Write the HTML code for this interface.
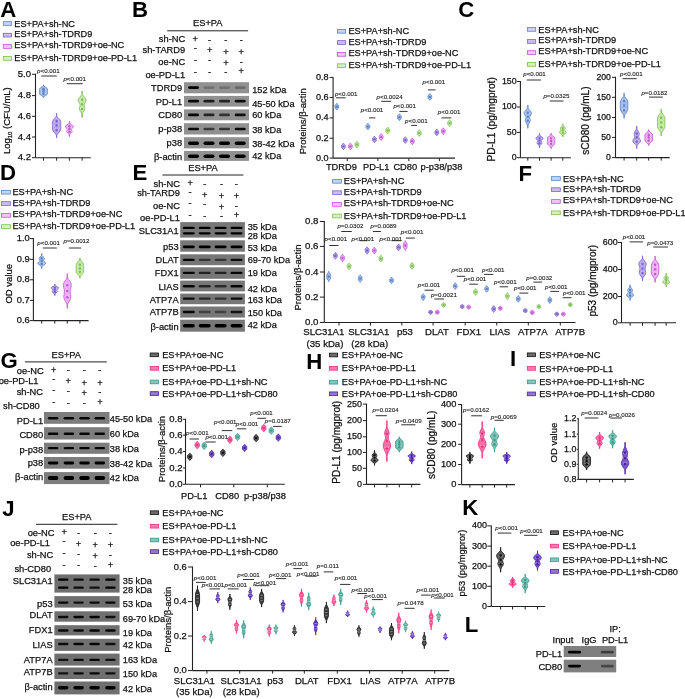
<!DOCTYPE html>
<html><head><meta charset="utf-8"><title>Figure</title>
<style>
html,body{margin:0;padding:0;background:#fff;}
body{width:685px;height:699px;overflow:hidden;}
svg{display:block;will-change:transform;font-family:"Liberation Sans", sans-serif;}
</style></head>
<body>
<svg width="685" height="699" viewBox="0 0 685 699">
<defs><filter id="bl" x="-30%" y="-100%" width="160%" height="300%"><feGaussianBlur stdDeviation="0.55"/></filter></defs>
<rect width="685" height="699" fill="#fff"/>
<text x="0.24" y="16.90" font-size="22.2" text-anchor="start" font-weight="bold" fill="#000" >A</text>
<rect x="3.30" y="21.65" width="8.20" height="3.70" fill="#c3d4ef" stroke="#5a84c8" stroke-width="0.8"/>
<text x="14.36" y="26.85" font-size="9.2" text-anchor="start" font-weight="normal" fill="#111" stroke="#111" stroke-width="0.25" >ES+PA+sh-NC</text>
<rect x="3.30" y="33.30" width="8.20" height="3.70" fill="#cabdf0" stroke="#7d62cc" stroke-width="0.8"/>
<text x="14.36" y="37.25" font-size="9.2" text-anchor="start" font-weight="normal" fill="#111" stroke="#111" stroke-width="0.25" >ES+PA+sh-TDRD9</text>
<rect x="3.30" y="44.65" width="8.20" height="3.70" fill="#f1c6f6" stroke="#c455d6" stroke-width="0.8"/>
<text x="14.36" y="47.95" font-size="9.2" text-anchor="start" font-weight="normal" fill="#111" stroke="#111" stroke-width="0.25" >ES+PA+sh-TDRD9+oe-NC</text>
<rect x="3.30" y="56.55" width="8.20" height="3.70" fill="#d6efc6" stroke="#7dbf52" stroke-width="0.8"/>
<text x="14.36" y="60.95" font-size="9.2" text-anchor="start" font-weight="normal" fill="#111" stroke="#111" stroke-width="0.25" >ES+PA+sh-TDRD9+oe-PD-L1</text>
<line x1="35.50" y1="73.80" x2="35.50" y2="157.70" stroke="#222" stroke-width="1.1"/>
<line x1="32.00" y1="74.30" x2="35.50" y2="74.30" stroke="#222" stroke-width="1"/>
<text x="30.98" y="77.00" font-size="9.5" text-anchor="end" font-weight="normal" fill="#111" stroke="#111" stroke-width="0.25" >5.0</text>
<line x1="32.00" y1="95.60" x2="35.50" y2="95.60" stroke="#222" stroke-width="1"/>
<text x="30.98" y="98.30" font-size="9.5" text-anchor="end" font-weight="normal" fill="#111" stroke="#111" stroke-width="0.25" >4.8</text>
<line x1="32.00" y1="116.30" x2="35.50" y2="116.30" stroke="#222" stroke-width="1"/>
<text x="30.98" y="119.00" font-size="9.5" text-anchor="end" font-weight="normal" fill="#111" stroke="#111" stroke-width="0.25" >4.6</text>
<line x1="32.00" y1="137.00" x2="35.50" y2="137.00" stroke="#222" stroke-width="1"/>
<text x="30.98" y="139.70" font-size="9.5" text-anchor="end" font-weight="normal" fill="#111" stroke="#111" stroke-width="0.25" >4.4</text>
<line x1="32.00" y1="157.70" x2="35.50" y2="157.70" stroke="#222" stroke-width="1"/>
<text x="30.98" y="160.40" font-size="9.5" text-anchor="end" font-weight="normal" fill="#111" stroke="#111" stroke-width="0.25" >4.2</text>
<line x1="35.50" y1="157.70" x2="90.80" y2="157.70" stroke="#222" stroke-width="1.1"/>
<line x1="43.50" y1="157.70" x2="43.50" y2="160.70" stroke="#222" stroke-width="1"/>
<line x1="56.60" y1="157.70" x2="56.60" y2="160.70" stroke="#222" stroke-width="1"/>
<line x1="69.40" y1="157.70" x2="69.40" y2="160.70" stroke="#222" stroke-width="1"/>
<line x1="82.10" y1="157.70" x2="82.10" y2="160.70" stroke="#222" stroke-width="1"/>
<path d="M43.50,84.80 C43.58,85.02 43.35,85.50 43.97,86.12 C44.60,86.74 46.67,87.62 47.25,88.50 C47.83,89.38 47.45,90.43 47.45,91.40 C47.45,92.37 47.83,93.42 47.25,94.30 C46.67,95.18 44.60,96.06 43.97,96.68 C43.35,97.30 43.58,97.78 43.50,98.00 C43.42,97.78 43.65,97.30 43.03,96.68 C42.40,96.06 40.33,95.18 39.75,94.30 C39.17,93.42 39.55,92.37 39.55,91.40 C39.55,90.43 39.17,89.38 39.75,88.50 C40.33,87.62 42.40,86.74 43.03,86.12 C43.65,85.50 43.42,85.02 43.50,84.80 Z" fill="#a3bde8" stroke="#5a84c8" stroke-width="0.8"/>
<line x1="43.50" y1="84.80" x2="43.50" y2="86.38" stroke="#5a84c8" stroke-width="0.5"/>
<line x1="43.50" y1="96.42" x2="43.50" y2="98.00" stroke="#5a84c8" stroke-width="0.5"/>
<line x1="41.33" y1="89.42" x2="45.67" y2="89.42" stroke="#ffffff" stroke-width="0.45"/>
<line x1="41.33" y1="91.40" x2="45.67" y2="91.40" stroke="#ffffff" stroke-width="0.45"/>
<line x1="41.33" y1="93.38" x2="45.67" y2="93.38" stroke="#ffffff" stroke-width="0.45"/>
<circle cx="43.50" cy="89.16" r="1.30" fill="#5a84c8"/>
<circle cx="43.50" cy="91.40" r="1.30" fill="#5a84c8"/>
<circle cx="43.50" cy="93.78" r="1.30" fill="#5a84c8"/>
<path d="M56.60,113.30 C56.67,113.83 56.38,115.26 57.02,116.48 C57.65,117.71 59.80,119.14 60.42,120.65 C61.04,122.16 60.75,123.92 60.75,125.55 C60.75,127.18 61.03,128.94 60.42,130.45 C59.81,131.96 57.73,133.39 57.10,134.62 C56.46,135.84 56.68,137.27 56.60,137.80 C56.52,137.27 56.74,135.84 56.10,134.62 C55.47,133.39 53.39,131.96 52.78,130.45 C52.17,128.94 52.45,127.18 52.45,125.55 C52.45,123.92 52.16,122.16 52.78,120.65 C53.40,119.14 55.55,117.71 56.19,116.48 C56.82,115.26 56.53,113.83 56.60,113.30 Z" fill="#b8a8ea" stroke="#7d62cc" stroke-width="0.8"/>
<line x1="56.60" y1="113.30" x2="56.60" y2="116.24" stroke="#7d62cc" stroke-width="0.5"/>
<line x1="56.60" y1="134.86" x2="56.60" y2="137.80" stroke="#7d62cc" stroke-width="0.5"/>
<line x1="54.32" y1="121.88" x2="58.88" y2="121.88" stroke="#ffffff" stroke-width="0.45"/>
<line x1="54.32" y1="125.55" x2="58.88" y2="125.55" stroke="#ffffff" stroke-width="0.45"/>
<line x1="54.32" y1="129.22" x2="58.88" y2="129.22" stroke="#ffffff" stroke-width="0.45"/>
<circle cx="56.60" cy="121.39" r="1.30" fill="#7d62cc"/>
<circle cx="56.60" cy="125.55" r="1.30" fill="#7d62cc"/>
<circle cx="56.60" cy="129.96" r="1.30" fill="#7d62cc"/>
<path d="M69.40,121.30 C69.47,121.66 69.13,122.60 69.81,123.44 C70.48,124.28 73.18,125.38 73.45,126.35 C73.72,127.32 71.64,128.36 71.43,129.26 C71.21,130.15 72.42,130.84 72.15,131.70 C71.88,132.57 70.26,133.64 69.81,134.46 C69.35,135.27 69.47,136.24 69.40,136.60 C69.33,136.24 69.45,135.27 69.00,134.46 C68.54,133.64 66.92,132.57 66.65,131.70 C66.38,130.84 67.59,130.15 67.38,129.26 C67.16,128.36 65.08,127.32 65.35,126.35 C65.62,125.38 68.32,124.28 69.00,123.44 C69.67,122.60 69.33,121.66 69.40,121.30 Z" fill="#edb0f5" stroke="#c455d6" stroke-width="0.8"/>
<line x1="69.40" y1="121.30" x2="69.40" y2="123.14" stroke="#c455d6" stroke-width="0.5"/>
<line x1="69.40" y1="134.76" x2="69.40" y2="136.60" stroke="#c455d6" stroke-width="0.5"/>
<line x1="67.17" y1="126.66" x2="71.63" y2="126.66" stroke="#ffffff" stroke-width="0.45"/>
<line x1="67.17" y1="128.95" x2="71.63" y2="128.95" stroke="#ffffff" stroke-width="0.45"/>
<line x1="67.17" y1="131.25" x2="71.63" y2="131.25" stroke="#ffffff" stroke-width="0.45"/>
<circle cx="69.40" cy="126.35" r="1.30" fill="#c455d6"/>
<circle cx="69.40" cy="128.95" r="1.30" fill="#c455d6"/>
<circle cx="69.40" cy="131.70" r="1.30" fill="#c455d6"/>
<path d="M82.10,91.00 C82.17,91.62 81.83,93.25 82.50,94.71 C83.17,96.17 85.83,98.07 86.10,99.75 C86.37,101.42 84.31,103.23 84.10,104.78 C83.89,106.33 85.09,107.52 84.82,109.02 C84.55,110.52 82.95,112.38 82.50,113.79 C82.05,115.20 82.17,116.88 82.10,117.50 C82.03,116.88 82.15,115.20 81.70,113.79 C81.25,112.38 79.65,110.52 79.38,109.02 C79.11,107.52 80.31,106.33 80.10,104.78 C79.89,103.23 77.83,101.42 78.10,99.75 C78.37,98.07 81.03,96.17 81.70,94.71 C82.37,93.25 82.03,91.62 82.10,91.00 Z" fill="#c3e9a6" stroke="#7dbf52" stroke-width="0.8"/>
<line x1="82.10" y1="91.00" x2="82.10" y2="94.18" stroke="#7dbf52" stroke-width="0.5"/>
<line x1="82.10" y1="114.32" x2="82.10" y2="117.50" stroke="#7dbf52" stroke-width="0.5"/>
<line x1="79.90" y1="100.28" x2="84.30" y2="100.28" stroke="#ffffff" stroke-width="0.45"/>
<line x1="79.90" y1="104.25" x2="84.30" y2="104.25" stroke="#ffffff" stroke-width="0.45"/>
<line x1="79.90" y1="108.22" x2="84.30" y2="108.22" stroke="#ffffff" stroke-width="0.45"/>
<circle cx="82.10" cy="99.75" r="1.30" fill="#7dbf52"/>
<circle cx="82.10" cy="104.25" r="1.30" fill="#7dbf52"/>
<circle cx="82.10" cy="109.02" r="1.30" fill="#7dbf52"/>
<line x1="41.30" y1="76.00" x2="56.80" y2="76.00" stroke="#333" stroke-width="1"/>
<text x="48.40" y="73.02" font-size="6.2" text-anchor="middle" fill="#222" stroke="#222" stroke-width="0.12"><tspan font-style="italic">p</tspan>&lt;0.001</text>
<line x1="66.80" y1="83.70" x2="82.60" y2="83.70" stroke="#333" stroke-width="1"/>
<text x="74.70" y="81.02" font-size="6.2" text-anchor="middle" fill="#222" stroke="#222" stroke-width="0.12"><tspan font-style="italic">p</tspan>&lt;0.001</text>
<text x="0" y="0" font-size="9.5" text-anchor="middle" fill="#111" stroke="#111" stroke-width="0.25" transform="translate(10.01,120.65) rotate(-90)">Log<tspan font-size="6" dy="1.5">10</tspan><tspan dy="-1.5"> (CFU/mL)</tspan></text>
<text x="132.01" y="16.60" font-size="22.2" text-anchor="start" font-weight="bold" fill="#000" >B</text>
<text x="207.80" y="26.44" font-size="9.3" text-anchor="middle" font-weight="normal" fill="#111" stroke="#111" stroke-width="0.25" >ES+PA</text>
<line x1="167.20" y1="30.80" x2="248.10" y2="30.80" stroke="#222" stroke-width="1"/>
<text x="185.20" y="42.49" font-size="9.3" text-anchor="end" font-weight="normal" fill="#111" stroke="#111" stroke-width="0.25" >sh-NC</text>
<text x="185.20" y="52.69" font-size="9.3" text-anchor="end" font-weight="normal" fill="#111" stroke="#111" stroke-width="0.25" >sh-TARD9</text>
<text x="185.20" y="64.69" font-size="9.3" text-anchor="end" font-weight="normal" fill="#111" stroke="#111" stroke-width="0.25" >oe-NC</text>
<text x="185.20" y="78.09" font-size="9.3" text-anchor="end" font-weight="normal" fill="#111" stroke="#111" stroke-width="0.25" >oe-PD-L1</text>
<text x="195.30" y="42.36" font-size="9.3" text-anchor="middle" font-weight="normal" fill="#111" stroke="#111" stroke-width="0.25" >+</text>
<text x="209.60" y="42.78" font-size="9.3" text-anchor="middle" font-weight="normal" fill="#111" stroke="#111" stroke-width="0.25" >-</text>
<text x="225.90" y="42.78" font-size="9.3" text-anchor="middle" font-weight="normal" fill="#111" stroke="#111" stroke-width="0.25" >-</text>
<text x="241.20" y="42.78" font-size="9.3" text-anchor="middle" font-weight="normal" fill="#111" stroke="#111" stroke-width="0.25" >-</text>
<text x="195.30" y="50.88" font-size="9.3" text-anchor="middle" font-weight="normal" fill="#111" stroke="#111" stroke-width="0.25" >-</text>
<text x="209.60" y="53.26" font-size="9.3" text-anchor="middle" font-weight="normal" fill="#111" stroke="#111" stroke-width="0.25" >+</text>
<text x="225.90" y="54.76" font-size="9.3" text-anchor="middle" font-weight="normal" fill="#111" stroke="#111" stroke-width="0.25" >+</text>
<text x="241.20" y="54.76" font-size="9.3" text-anchor="middle" font-weight="normal" fill="#111" stroke="#111" stroke-width="0.25" >+</text>
<text x="195.30" y="62.88" font-size="9.3" text-anchor="middle" font-weight="normal" fill="#111" stroke="#111" stroke-width="0.25" >-</text>
<text x="209.60" y="63.08" font-size="9.3" text-anchor="middle" font-weight="normal" fill="#111" stroke="#111" stroke-width="0.25" >-</text>
<text x="225.90" y="65.66" font-size="9.3" text-anchor="middle" font-weight="normal" fill="#111" stroke="#111" stroke-width="0.25" >+</text>
<text x="241.20" y="64.58" font-size="9.3" text-anchor="middle" font-weight="normal" fill="#111" stroke="#111" stroke-width="0.25" >-</text>
<text x="195.30" y="74.78" font-size="9.3" text-anchor="middle" font-weight="normal" fill="#111" stroke="#111" stroke-width="0.25" >-</text>
<text x="209.60" y="75.28" font-size="9.3" text-anchor="middle" font-weight="normal" fill="#111" stroke="#111" stroke-width="0.25" >-</text>
<text x="225.90" y="75.28" font-size="9.3" text-anchor="middle" font-weight="normal" fill="#111" stroke="#111" stroke-width="0.25" >-</text>
<text x="241.20" y="74.45" font-size="9.3" text-anchor="middle" font-weight="normal" fill="#111" stroke="#111" stroke-width="0.25" >+</text>
<rect x="184.00" y="82.20" width="65.00" height="11.10" fill="#919191"/>
<rect x="188.00" y="86.15" width="11.00" height="2.90" rx="1.45" fill="#050505" fill-opacity="1.00" filter="url(#bl)"/>
<rect x="203.50" y="86.15" width="11.00" height="2.90" rx="1.45" fill="#050505" fill-opacity="0.22" filter="url(#bl)"/>
<rect x="219.00" y="86.15" width="11.00" height="2.90" rx="1.45" fill="#050505" fill-opacity="0.22" filter="url(#bl)"/>
<rect x="234.70" y="86.15" width="11.00" height="2.90" rx="1.45" fill="#050505" fill-opacity="0.26" filter="url(#bl)"/>
<rect x="184.00" y="95.90" width="65.00" height="10.70" fill="#919191"/>
<rect x="188.00" y="99.80" width="11.00" height="2.80" rx="1.40" fill="#050505" fill-opacity="0.95" filter="url(#bl)"/>
<rect x="203.50" y="99.80" width="11.00" height="2.80" rx="1.40" fill="#050505" fill-opacity="0.80" filter="url(#bl)"/>
<rect x="219.00" y="99.80" width="11.00" height="2.80" rx="1.40" fill="#050505" fill-opacity="0.75" filter="url(#bl)"/>
<rect x="234.70" y="99.80" width="11.00" height="2.80" rx="1.40" fill="#050505" fill-opacity="0.95" filter="url(#bl)"/>
<rect x="184.00" y="109.40" width="65.00" height="10.90" fill="#919191"/>
<rect x="188.00" y="113.50" width="11.00" height="2.80" rx="1.40" fill="#050505" fill-opacity="0.95" filter="url(#bl)"/>
<rect x="203.50" y="113.50" width="11.00" height="2.80" rx="1.40" fill="#050505" fill-opacity="0.75" filter="url(#bl)"/>
<rect x="219.00" y="113.50" width="11.00" height="2.80" rx="1.40" fill="#050505" fill-opacity="0.65" filter="url(#bl)"/>
<rect x="234.70" y="113.50" width="11.00" height="2.80" rx="1.40" fill="#050505" fill-opacity="0.90" filter="url(#bl)"/>
<rect x="184.00" y="123.20" width="65.00" height="11.30" fill="#919191"/>
<rect x="188.00" y="127.70" width="11.00" height="2.60" rx="1.30" fill="#050505" fill-opacity="0.95" filter="url(#bl)"/>
<rect x="203.50" y="127.70" width="11.00" height="2.60" rx="1.30" fill="#050505" fill-opacity="0.60" filter="url(#bl)"/>
<rect x="219.00" y="127.70" width="11.00" height="2.60" rx="1.30" fill="#050505" fill-opacity="0.65" filter="url(#bl)"/>
<rect x="234.70" y="127.70" width="11.00" height="2.60" rx="1.30" fill="#050505" fill-opacity="0.95" filter="url(#bl)"/>
<rect x="184.00" y="137.20" width="65.00" height="11.20" fill="#919191"/>
<rect x="188.00" y="141.60" width="11.00" height="3.40" rx="1.70" fill="#050505" fill-opacity="1.00" filter="url(#bl)"/>
<rect x="203.50" y="141.60" width="11.00" height="3.40" rx="1.70" fill="#050505" fill-opacity="1.00" filter="url(#bl)"/>
<rect x="219.00" y="141.60" width="11.00" height="3.40" rx="1.70" fill="#050505" fill-opacity="1.00" filter="url(#bl)"/>
<rect x="234.70" y="141.60" width="11.00" height="3.40" rx="1.70" fill="#050505" fill-opacity="1.00" filter="url(#bl)"/>
<rect x="184.00" y="150.90" width="65.00" height="10.00" fill="#919191"/>
<rect x="188.00" y="154.50" width="11.00" height="3.60" rx="1.80" fill="#050505" fill-opacity="1.00" filter="url(#bl)"/>
<rect x="203.50" y="154.50" width="11.00" height="3.60" rx="1.80" fill="#050505" fill-opacity="1.00" filter="url(#bl)"/>
<rect x="219.00" y="154.50" width="11.00" height="3.60" rx="1.80" fill="#050505" fill-opacity="1.00" filter="url(#bl)"/>
<rect x="234.70" y="154.50" width="11.00" height="3.60" rx="1.80" fill="#050505" fill-opacity="1.00" filter="url(#bl)"/>
<text x="182.10" y="91.39" font-size="9.3" text-anchor="end" font-weight="normal" fill="#111" stroke="#111" stroke-width="0.25" >TDRD9</text>
<text x="182.10" y="104.69" font-size="9.3" text-anchor="end" font-weight="normal" fill="#111" stroke="#111" stroke-width="0.25" >PD-L1</text>
<text x="182.10" y="118.19" font-size="9.3" text-anchor="end" font-weight="normal" fill="#111" stroke="#111" stroke-width="0.25" >CD80</text>
<text x="182.10" y="132.09" font-size="9.3" text-anchor="end" font-weight="normal" fill="#111" stroke="#111" stroke-width="0.25" >p-p38</text>
<text x="182.10" y="146.19" font-size="9.3" text-anchor="end" font-weight="normal" fill="#111" stroke="#111" stroke-width="0.25" >p38</text>
<text x="182.10" y="159.89" font-size="9.3" text-anchor="end" font-weight="normal" fill="#111" stroke="#111" stroke-width="0.25" >β-actin</text>
<text x="252.20" y="93.10" font-size="9.2" text-anchor="start" font-weight="normal" fill="#111" stroke="#111" stroke-width="0.25" >152 kDa</text>
<text x="252.20" y="107.10" font-size="9.2" text-anchor="start" font-weight="normal" fill="#111" stroke="#111" stroke-width="0.25" >45-50 kDa</text>
<text x="252.20" y="117.80" font-size="9.2" text-anchor="start" font-weight="normal" fill="#111" stroke="#111" stroke-width="0.25" >60 kDa</text>
<text x="252.20" y="133.20" font-size="9.2" text-anchor="start" font-weight="normal" fill="#111" stroke="#111" stroke-width="0.25" >38 kDa</text>
<text x="252.20" y="146.80" font-size="9.2" text-anchor="start" font-weight="normal" fill="#111" stroke="#111" stroke-width="0.25" >38-42 kDa</text>
<text x="252.20" y="159.10" font-size="9.2" text-anchor="start" font-weight="normal" fill="#111" stroke="#111" stroke-width="0.25" >42 kDa</text>
<rect x="337.40" y="29.45" width="8.20" height="3.70" fill="#c3d4ef" stroke="#5a84c8" stroke-width="0.8"/>
<text x="348.46" y="34.20" font-size="9.2" text-anchor="start" font-weight="normal" fill="#111" stroke="#111" stroke-width="0.25" >ES+PA+sh-NC</text>
<rect x="337.40" y="40.65" width="8.20" height="3.70" fill="#cabdf0" stroke="#7d62cc" stroke-width="0.8"/>
<text x="348.46" y="44.75" font-size="9.2" text-anchor="start" font-weight="normal" fill="#111" stroke="#111" stroke-width="0.25" >ES+PA+sh-TDRD9</text>
<rect x="337.40" y="52.55" width="8.20" height="3.70" fill="#f1c6f6" stroke="#c455d6" stroke-width="0.8"/>
<text x="348.46" y="56.00" font-size="9.2" text-anchor="start" font-weight="normal" fill="#111" stroke="#111" stroke-width="0.25" >ES+PA+sh-TDRD9+oe-NC</text>
<rect x="337.40" y="63.85" width="8.20" height="3.70" fill="#d6efc6" stroke="#7dbf52" stroke-width="0.8"/>
<text x="348.46" y="68.45" font-size="9.2" text-anchor="start" font-weight="normal" fill="#111" stroke="#111" stroke-width="0.25" >ES+PA+sh-TDRD9+oe-PD-L1</text>
<line x1="333.10" y1="76.90" x2="333.10" y2="158.10" stroke="#222" stroke-width="1.1"/>
<line x1="329.60" y1="77.40" x2="333.10" y2="77.40" stroke="#222" stroke-width="1"/>
<text x="328.56" y="79.96" font-size="9.1" text-anchor="end" font-weight="normal" fill="#111" stroke="#111" stroke-width="0.25" >0.8</text>
<line x1="329.60" y1="97.50" x2="333.10" y2="97.50" stroke="#222" stroke-width="1"/>
<text x="328.56" y="100.06" font-size="9.1" text-anchor="end" font-weight="normal" fill="#111" stroke="#111" stroke-width="0.25" >0.6</text>
<line x1="329.60" y1="117.90" x2="333.10" y2="117.90" stroke="#222" stroke-width="1"/>
<text x="328.56" y="120.46" font-size="9.1" text-anchor="end" font-weight="normal" fill="#111" stroke="#111" stroke-width="0.25" >0.4</text>
<line x1="329.60" y1="138.20" x2="333.10" y2="138.20" stroke="#222" stroke-width="1"/>
<text x="328.56" y="140.76" font-size="9.1" text-anchor="end" font-weight="normal" fill="#111" stroke="#111" stroke-width="0.25" >0.2</text>
<line x1="329.60" y1="158.10" x2="333.10" y2="158.10" stroke="#222" stroke-width="1"/>
<text x="328.56" y="160.66" font-size="9.1" text-anchor="end" font-weight="normal" fill="#111" stroke="#111" stroke-width="0.25" >0.0</text>
<line x1="333.10" y1="158.10" x2="455.00" y2="158.10" stroke="#222" stroke-width="1.1"/>
<line x1="347.30" y1="158.10" x2="347.30" y2="161.10" stroke="#222" stroke-width="1"/>
<line x1="377.90" y1="158.10" x2="377.90" y2="161.10" stroke="#222" stroke-width="1"/>
<line x1="408.80" y1="158.10" x2="408.80" y2="161.10" stroke="#222" stroke-width="1"/>
<line x1="439.40" y1="158.10" x2="439.40" y2="161.10" stroke="#222" stroke-width="1"/>
<text x="341.40" y="169.69" font-size="9.3" text-anchor="middle" font-weight="normal" fill="#111" stroke="#111" stroke-width="0.25" >TDRD9</text>
<text x="376.30" y="169.69" font-size="9.3" text-anchor="middle" font-weight="normal" fill="#111" stroke="#111" stroke-width="0.25" >PD-L1</text>
<text x="405.30" y="169.69" font-size="9.3" text-anchor="middle" font-weight="normal" fill="#111" stroke="#111" stroke-width="0.25" >CD80</text>
<text x="441.50" y="169.69" font-size="9.3" text-anchor="middle" font-weight="normal" fill="#111" stroke="#111" stroke-width="0.25" >p-p38/p38</text>
<text x="0" y="0" font-size="9.5" text-anchor="middle" fill="#111" stroke="#111" stroke-width="0.25" transform="translate(306.20,121.20) rotate(-90)">Proteins/β-actin</text>
<path d="M336.80,103.30 C336.84,103.41 336.73,103.66 337.02,103.98 C337.31,104.30 338.29,104.75 338.56,105.20 C338.83,105.66 338.65,106.20 338.65,106.70 C338.65,107.20 338.83,107.74 338.56,108.20 C338.29,108.65 337.31,109.10 337.02,109.42 C336.73,109.74 336.84,109.99 336.80,110.10 C336.76,109.99 336.87,109.74 336.58,109.42 C336.29,109.10 335.31,108.65 335.04,108.20 C334.77,107.74 334.95,107.20 334.95,106.70 C334.95,106.20 334.77,105.66 335.04,105.20 C335.31,104.75 336.29,104.30 336.58,103.98 C336.87,103.66 336.76,103.41 336.80,103.30 Z" fill="#a3bde8" stroke="#5a84c8" stroke-width="0.8"/>
<circle cx="336.80" cy="106.70" r="1.2" fill="#5a84c8"/>
<path d="M343.40,143.00 C343.44,143.11 343.33,143.36 343.62,143.68 C343.91,144.00 344.89,144.45 345.16,144.90 C345.43,145.36 345.25,145.90 345.25,146.40 C345.25,146.90 345.43,147.44 345.16,147.90 C344.89,148.35 343.91,148.80 343.62,149.12 C343.33,149.44 343.44,149.69 343.40,149.80 C343.36,149.69 343.47,149.44 343.18,149.12 C342.89,148.80 341.91,148.35 341.64,147.90 C341.37,147.44 341.55,146.90 341.55,146.40 C341.55,145.90 341.37,145.36 341.64,144.90 C341.91,144.45 342.89,144.00 343.18,143.68 C343.47,143.36 343.36,143.11 343.40,143.00 Z" fill="#b8a8ea" stroke="#7d62cc" stroke-width="0.8"/>
<circle cx="343.40" cy="146.40" r="1.2" fill="#7d62cc"/>
<path d="M350.40,143.00 C350.44,143.11 350.33,143.36 350.62,143.68 C350.91,144.00 351.89,144.45 352.16,144.90 C352.43,145.36 352.25,145.90 352.25,146.40 C352.25,146.90 352.43,147.44 352.16,147.90 C351.89,148.35 350.91,148.80 350.62,149.12 C350.33,149.44 350.44,149.69 350.40,149.80 C350.36,149.69 350.47,149.44 350.18,149.12 C349.89,148.80 348.91,148.35 348.64,147.90 C348.37,147.44 348.55,146.90 348.55,146.40 C348.55,145.90 348.37,145.36 348.64,144.90 C348.91,144.45 349.89,144.00 350.18,143.68 C350.47,143.36 350.36,143.11 350.40,143.00 Z" fill="#edb0f5" stroke="#c455d6" stroke-width="0.8"/>
<circle cx="350.40" cy="146.40" r="1.2" fill="#c455d6"/>
<path d="M356.90,141.20 C356.94,141.31 356.83,141.56 357.12,141.88 C357.41,142.20 358.39,142.65 358.66,143.10 C358.93,143.56 358.75,144.10 358.75,144.60 C358.75,145.10 358.93,145.64 358.66,146.10 C358.39,146.55 357.41,147.00 357.12,147.32 C356.83,147.64 356.94,147.89 356.90,148.00 C356.86,147.89 356.97,147.64 356.68,147.32 C356.39,147.00 355.41,146.55 355.14,146.10 C354.87,145.64 355.05,145.10 355.05,144.60 C355.05,144.10 354.87,143.56 355.14,143.10 C355.41,142.65 356.39,142.20 356.68,141.88 C356.97,141.56 356.86,141.31 356.90,141.20 Z" fill="#c3e9a6" stroke="#7dbf52" stroke-width="0.8"/>
<circle cx="356.90" cy="144.60" r="1.2" fill="#7dbf52"/>
<path d="M367.90,123.20 C367.94,123.31 367.83,123.56 368.12,123.88 C368.41,124.20 369.39,124.65 369.66,125.10 C369.93,125.56 369.75,126.10 369.75,126.60 C369.75,127.10 369.93,127.64 369.66,128.10 C369.39,128.55 368.41,129.00 368.12,129.32 C367.83,129.64 367.94,129.89 367.90,130.00 C367.86,129.89 367.97,129.64 367.68,129.32 C367.39,129.00 366.41,128.55 366.14,128.10 C365.87,127.64 366.05,127.10 366.05,126.60 C366.05,126.10 365.87,125.56 366.14,125.10 C366.41,124.65 367.39,124.20 367.68,123.88 C367.97,123.56 367.86,123.31 367.90,123.20 Z" fill="#a3bde8" stroke="#5a84c8" stroke-width="0.8"/>
<circle cx="367.90" cy="126.60" r="1.2" fill="#5a84c8"/>
<path d="M374.40,136.00 C374.44,136.11 374.33,136.36 374.62,136.68 C374.91,137.00 375.89,137.45 376.16,137.90 C376.43,138.36 376.25,138.90 376.25,139.40 C376.25,139.90 376.43,140.44 376.16,140.90 C375.89,141.35 374.91,141.80 374.62,142.12 C374.33,142.44 374.44,142.69 374.40,142.80 C374.36,142.69 374.47,142.44 374.18,142.12 C373.89,141.80 372.91,141.35 372.64,140.90 C372.37,140.44 372.55,139.90 372.55,139.40 C372.55,138.90 372.37,138.36 372.64,137.90 C372.91,137.45 373.89,137.00 374.18,136.68 C374.47,136.36 374.36,136.11 374.40,136.00 Z" fill="#b8a8ea" stroke="#7d62cc" stroke-width="0.8"/>
<circle cx="374.40" cy="139.40" r="1.2" fill="#7d62cc"/>
<path d="M381.20,133.70 C381.24,133.81 381.13,134.06 381.42,134.38 C381.71,134.70 382.69,135.15 382.96,135.60 C383.23,136.06 383.05,136.60 383.05,137.10 C383.05,137.60 383.23,138.14 382.96,138.60 C382.69,139.05 381.71,139.50 381.42,139.82 C381.13,140.14 381.24,140.39 381.20,140.50 C381.16,140.39 381.27,140.14 380.98,139.82 C380.69,139.50 379.71,139.05 379.44,138.60 C379.17,138.14 379.35,137.60 379.35,137.10 C379.35,136.60 379.17,136.06 379.44,135.60 C379.71,135.15 380.69,134.70 380.98,134.38 C381.27,134.06 381.16,133.81 381.20,133.70 Z" fill="#edb0f5" stroke="#c455d6" stroke-width="0.8"/>
<circle cx="381.20" cy="137.10" r="1.2" fill="#c455d6"/>
<path d="M387.70,127.10 C387.74,127.21 387.63,127.46 387.92,127.78 C388.21,128.10 389.19,128.55 389.46,129.00 C389.73,129.46 389.55,130.00 389.55,130.50 C389.55,131.00 389.73,131.54 389.46,132.00 C389.19,132.45 388.21,132.90 387.92,133.22 C387.63,133.54 387.74,133.79 387.70,133.90 C387.66,133.79 387.77,133.54 387.48,133.22 C387.19,132.90 386.21,132.45 385.94,132.00 C385.67,131.54 385.85,131.00 385.85,130.50 C385.85,130.00 385.67,129.46 385.94,129.00 C386.21,128.55 387.19,128.10 387.48,127.78 C387.77,127.46 387.66,127.21 387.70,127.10 Z" fill="#c3e9a6" stroke="#7dbf52" stroke-width="0.8"/>
<circle cx="387.70" cy="130.50" r="1.2" fill="#7dbf52"/>
<path d="M399.40,113.80 C399.44,113.91 399.33,114.16 399.62,114.48 C399.91,114.80 400.89,115.25 401.16,115.70 C401.43,116.16 401.25,116.70 401.25,117.20 C401.25,117.70 401.43,118.24 401.16,118.70 C400.89,119.15 399.91,119.60 399.62,119.92 C399.33,120.24 399.44,120.49 399.40,120.60 C399.36,120.49 399.47,120.24 399.18,119.92 C398.89,119.60 397.91,119.15 397.64,118.70 C397.37,118.24 397.55,117.70 397.55,117.20 C397.55,116.70 397.37,116.16 397.64,115.70 C397.91,115.25 398.89,114.80 399.18,114.48 C399.47,114.16 399.36,113.91 399.40,113.80 Z" fill="#a3bde8" stroke="#5a84c8" stroke-width="0.8"/>
<circle cx="399.40" cy="117.20" r="1.2" fill="#5a84c8"/>
<path d="M405.30,136.70 C405.34,136.81 405.23,137.06 405.52,137.38 C405.81,137.70 406.79,138.15 407.06,138.60 C407.33,139.06 407.15,139.60 407.15,140.10 C407.15,140.60 407.33,141.14 407.06,141.60 C406.79,142.05 405.81,142.50 405.52,142.82 C405.23,143.14 405.34,143.39 405.30,143.50 C405.26,143.39 405.37,143.14 405.08,142.82 C404.79,142.50 403.81,142.05 403.54,141.60 C403.27,141.14 403.45,140.60 403.45,140.10 C403.45,139.60 403.27,139.06 403.54,138.60 C403.81,138.15 404.79,137.70 405.08,137.38 C405.37,137.06 405.26,136.81 405.30,136.70 Z" fill="#b8a8ea" stroke="#7d62cc" stroke-width="0.8"/>
<circle cx="405.30" cy="140.10" r="1.2" fill="#7d62cc"/>
<path d="M412.30,137.90 C412.34,138.01 412.23,138.26 412.52,138.58 C412.81,138.90 413.79,139.35 414.06,139.80 C414.33,140.26 414.15,140.80 414.15,141.30 C414.15,141.80 414.33,142.34 414.06,142.80 C413.79,143.25 412.81,143.70 412.52,144.02 C412.23,144.34 412.34,144.59 412.30,144.70 C412.26,144.59 412.37,144.34 412.08,144.02 C411.79,143.70 410.81,143.25 410.54,142.80 C410.27,142.34 410.45,141.80 410.45,141.30 C410.45,140.80 410.27,140.26 410.54,139.80 C410.81,139.35 411.79,138.90 412.08,138.58 C412.37,138.26 412.26,138.01 412.30,137.90 Z" fill="#edb0f5" stroke="#c455d6" stroke-width="0.8"/>
<circle cx="412.30" cy="141.30" r="1.2" fill="#c455d6"/>
<path d="M419.30,129.70 C419.34,129.81 419.23,130.06 419.52,130.38 C419.81,130.70 420.79,131.15 421.06,131.60 C421.33,132.06 421.15,132.60 421.15,133.10 C421.15,133.60 421.33,134.14 421.06,134.60 C420.79,135.05 419.81,135.50 419.52,135.82 C419.23,136.14 419.34,136.39 419.30,136.50 C419.26,136.39 419.37,136.14 419.08,135.82 C418.79,135.50 417.81,135.05 417.54,134.60 C417.27,134.14 417.45,133.60 417.45,133.10 C417.45,132.60 417.27,132.06 417.54,131.60 C417.81,131.15 418.79,130.70 419.08,130.38 C419.37,130.06 419.26,129.81 419.30,129.70 Z" fill="#c3e9a6" stroke="#7dbf52" stroke-width="0.8"/>
<circle cx="419.30" cy="133.10" r="1.2" fill="#7dbf52"/>
<path d="M429.80,93.50 C429.84,93.61 429.73,93.86 430.02,94.18 C430.31,94.50 431.29,94.95 431.56,95.40 C431.83,95.86 431.65,96.40 431.65,96.90 C431.65,97.40 431.83,97.94 431.56,98.40 C431.29,98.85 430.31,99.30 430.02,99.62 C429.73,99.94 429.84,100.19 429.80,100.30 C429.76,100.19 429.87,99.94 429.58,99.62 C429.29,99.30 428.31,98.85 428.04,98.40 C427.77,97.94 427.95,97.40 427.95,96.90 C427.95,96.40 427.77,95.86 428.04,95.40 C428.31,94.95 429.29,94.50 429.58,94.18 C429.87,93.86 429.76,93.61 429.80,93.50 Z" fill="#a3bde8" stroke="#5a84c8" stroke-width="0.8"/>
<circle cx="429.80" cy="96.90" r="1.2" fill="#5a84c8"/>
<path d="M436.80,129.00 C436.84,129.11 436.73,129.36 437.02,129.68 C437.31,130.00 438.29,130.45 438.56,130.90 C438.83,131.36 438.65,131.90 438.65,132.40 C438.65,132.90 438.83,133.44 438.56,133.90 C438.29,134.35 437.31,134.80 437.02,135.12 C436.73,135.44 436.84,135.69 436.80,135.80 C436.76,135.69 436.87,135.44 436.58,135.12 C436.29,134.80 435.31,134.35 435.04,133.90 C434.77,133.44 434.95,132.90 434.95,132.40 C434.95,131.90 434.77,131.36 435.04,130.90 C435.31,130.45 436.29,130.00 436.58,129.68 C436.87,129.36 436.76,129.11 436.80,129.00 Z" fill="#b8a8ea" stroke="#7d62cc" stroke-width="0.8"/>
<circle cx="436.80" cy="132.40" r="1.2" fill="#7d62cc"/>
<path d="M443.30,127.80 C443.34,127.91 443.23,128.16 443.52,128.48 C443.81,128.80 444.79,129.25 445.06,129.70 C445.33,130.16 445.15,130.70 445.15,131.20 C445.15,131.70 445.33,132.24 445.06,132.70 C444.79,133.15 443.81,133.60 443.52,133.92 C443.23,134.24 443.34,134.49 443.30,134.60 C443.26,134.49 443.37,134.24 443.08,133.92 C442.79,133.60 441.81,133.15 441.54,132.70 C441.27,132.24 441.45,131.70 441.45,131.20 C441.45,130.70 441.27,130.16 441.54,129.70 C441.81,129.25 442.79,128.80 443.08,128.48 C443.37,128.16 443.26,127.91 443.30,127.80 Z" fill="#edb0f5" stroke="#c455d6" stroke-width="0.8"/>
<circle cx="443.30" cy="131.20" r="1.2" fill="#c455d6"/>
<path d="M449.60,119.70 C449.64,119.81 449.53,120.06 449.82,120.38 C450.11,120.70 451.09,121.15 451.36,121.60 C451.63,122.06 451.45,122.60 451.45,123.10 C451.45,123.60 451.63,124.14 451.36,124.60 C451.09,125.05 450.11,125.50 449.82,125.82 C449.53,126.14 449.64,126.39 449.60,126.50 C449.56,126.39 449.67,126.14 449.38,125.82 C449.09,125.50 448.11,125.05 447.84,124.60 C447.57,124.14 447.75,123.60 447.75,123.10 C447.75,122.60 447.57,122.06 447.84,121.60 C448.11,121.15 449.09,120.70 449.38,120.38 C449.67,120.06 449.56,119.81 449.60,119.70 Z" fill="#c3e9a6" stroke="#7dbf52" stroke-width="0.8"/>
<circle cx="449.60" cy="123.10" r="1.2" fill="#7dbf52"/>
<line x1="335.90" y1="97.80" x2="345.70" y2="97.80" stroke="#333" stroke-width="1"/>
<text x="346.20" y="95.62" font-size="6.2" text-anchor="middle" fill="#222" stroke="#222" stroke-width="0.12"><tspan font-style="italic">p</tspan>&lt;0.001</text>
<line x1="369.00" y1="117.90" x2="375.40" y2="117.90" stroke="#333" stroke-width="1"/>
<text x="372.00" y="112.42" font-size="6.2" text-anchor="middle" fill="#222" stroke="#222" stroke-width="0.12"><tspan font-style="italic">p</tspan>&lt;0.001</text>
<line x1="381.20" y1="101.30" x2="391.20" y2="101.30" stroke="#333" stroke-width="1"/>
<text x="389.60" y="99.12" font-size="6.2" text-anchor="middle" fill="#222" stroke="#222" stroke-width="0.12"><tspan font-style="italic">p</tspan>&lt;0.0024</text>
<line x1="399.40" y1="111.40" x2="407.60" y2="111.40" stroke="#333" stroke-width="1"/>
<text x="404.70" y="108.22" font-size="6.2" text-anchor="middle" fill="#222" stroke="#222" stroke-width="0.12"><tspan font-style="italic">p</tspan>&lt;0.001</text>
<line x1="411.10" y1="125.40" x2="417.00" y2="125.40" stroke="#333" stroke-width="1"/>
<text x="416.40" y="122.52" font-size="6.2" text-anchor="middle" fill="#222" stroke="#222" stroke-width="0.12"><tspan font-style="italic">p</tspan>&lt;0.001</text>
<line x1="427.90" y1="89.90" x2="435.60" y2="89.90" stroke="#333" stroke-width="1"/>
<text x="433.90" y="83.92" font-size="6.2" text-anchor="middle" fill="#222" stroke="#222" stroke-width="0.12"><tspan font-style="italic">p</tspan>&lt;0.001</text>
<line x1="441.50" y1="117.90" x2="451.30" y2="117.90" stroke="#333" stroke-width="1"/>
<text x="449.10" y="113.62" font-size="6.2" text-anchor="middle" fill="#222" stroke="#222" stroke-width="0.12"><tspan font-style="italic">p</tspan>&lt;0.001</text>
<text x="458.29" y="16.90" font-size="22.2" text-anchor="start" font-weight="bold" fill="#000" >C</text>
<rect x="527.40" y="27.55" width="8.30" height="3.70" fill="#c3d4ef" stroke="#5a84c8" stroke-width="0.8"/>
<text x="538.26" y="32.85" font-size="9.2" text-anchor="start" font-weight="normal" fill="#111" stroke="#111" stroke-width="0.25" >ES+PA+sh-NC</text>
<rect x="527.40" y="39.60" width="8.30" height="3.70" fill="#cabdf0" stroke="#7d62cc" stroke-width="0.8"/>
<text x="538.26" y="43.45" font-size="9.2" text-anchor="start" font-weight="normal" fill="#111" stroke="#111" stroke-width="0.25" >ES+PA+sh-TDRD9</text>
<rect x="527.40" y="50.70" width="8.30" height="3.70" fill="#f1c6f6" stroke="#c455d6" stroke-width="0.8"/>
<text x="538.26" y="54.10" font-size="9.2" text-anchor="start" font-weight="normal" fill="#111" stroke="#111" stroke-width="0.25" >ES+PA+sh-TDRD9+oe-NC</text>
<rect x="527.40" y="62.55" width="8.30" height="3.70" fill="#d6efc6" stroke="#7dbf52" stroke-width="0.8"/>
<text x="538.26" y="66.85" font-size="9.2" text-anchor="start" font-weight="normal" fill="#111" stroke="#111" stroke-width="0.25" >ES+PA+sh-TDRD9+oe-PD-L1</text>
<line x1="520.40" y1="81.00" x2="520.40" y2="157.70" stroke="#222" stroke-width="1.1"/>
<line x1="516.90" y1="81.50" x2="520.40" y2="81.50" stroke="#222" stroke-width="1"/>
<text x="516.64" y="83.95" font-size="8.8" text-anchor="end" font-weight="normal" fill="#111" stroke="#111" stroke-width="0.25" >150</text>
<line x1="516.90" y1="107.00" x2="520.40" y2="107.00" stroke="#222" stroke-width="1"/>
<text x="516.64" y="109.45" font-size="8.8" text-anchor="end" font-weight="normal" fill="#111" stroke="#111" stroke-width="0.25" >100</text>
<line x1="516.90" y1="132.40" x2="520.40" y2="132.40" stroke="#222" stroke-width="1"/>
<text x="516.64" y="134.85" font-size="8.8" text-anchor="end" font-weight="normal" fill="#111" stroke="#111" stroke-width="0.25" >50</text>
<line x1="516.90" y1="157.70" x2="520.40" y2="157.70" stroke="#222" stroke-width="1"/>
<text x="516.64" y="160.15" font-size="8.8" text-anchor="end" font-weight="normal" fill="#111" stroke="#111" stroke-width="0.25" >0</text>
<line x1="520.40" y1="157.70" x2="570.90" y2="157.70" stroke="#222" stroke-width="1.1"/>
<line x1="527.80" y1="157.70" x2="527.80" y2="160.70" stroke="#222" stroke-width="1"/>
<line x1="539.50" y1="157.70" x2="539.50" y2="160.70" stroke="#222" stroke-width="1"/>
<line x1="551.10" y1="157.70" x2="551.10" y2="160.70" stroke="#222" stroke-width="1"/>
<line x1="562.80" y1="157.70" x2="562.80" y2="160.70" stroke="#222" stroke-width="1"/>
<path d="M527.80,105.00 C527.86,105.54 527.56,106.98 528.16,108.26 C528.77,109.54 531.21,111.21 531.45,112.69 C531.69,114.16 529.82,115.76 529.62,117.12 C529.43,118.48 530.53,119.52 530.28,120.84 C530.04,122.16 528.58,123.80 528.16,125.04 C527.75,126.28 527.86,127.76 527.80,128.30 C527.74,127.76 527.85,126.28 527.43,125.04 C527.02,123.80 525.56,122.16 525.32,120.84 C525.07,119.52 526.17,118.48 525.97,117.12 C525.78,115.76 523.91,114.16 524.15,112.69 C524.39,111.21 526.83,109.54 527.43,108.26 C528.04,106.98 527.74,105.54 527.80,105.00 Z" fill="#a3bde8" stroke="#5a84c8" stroke-width="0.8"/>
<line x1="527.80" y1="105.00" x2="527.80" y2="107.80" stroke="#5a84c8" stroke-width="0.5"/>
<line x1="527.80" y1="125.50" x2="527.80" y2="128.30" stroke="#5a84c8" stroke-width="0.5"/>
<line x1="525.79" y1="113.16" x2="529.81" y2="113.16" stroke="#ffffff" stroke-width="0.45"/>
<line x1="525.79" y1="116.65" x2="529.81" y2="116.65" stroke="#ffffff" stroke-width="0.45"/>
<line x1="525.79" y1="120.15" x2="529.81" y2="120.15" stroke="#ffffff" stroke-width="0.45"/>
<circle cx="527.80" cy="112.69" r="1.23" fill="#5a84c8"/>
<circle cx="527.80" cy="116.65" r="1.23" fill="#5a84c8"/>
<circle cx="527.80" cy="120.84" r="1.23" fill="#5a84c8"/>
<path d="M539.50,133.30 C539.56,133.64 539.26,134.53 539.86,135.33 C540.46,136.13 542.86,137.17 543.10,138.09 C543.34,139.00 541.49,139.99 541.30,140.84 C541.11,141.69 542.19,142.34 541.95,143.16 C541.71,143.98 540.27,145.00 539.86,145.77 C539.45,146.54 539.56,147.46 539.50,147.80 C539.44,147.46 539.55,146.54 539.14,145.77 C538.73,145.00 537.29,143.98 537.05,143.16 C536.81,142.34 537.89,141.69 537.70,140.84 C537.51,139.99 535.66,139.00 535.90,138.09 C536.14,137.17 538.54,136.13 539.14,135.33 C539.74,134.53 539.44,133.64 539.50,133.30 Z" fill="#b8a8ea" stroke="#7d62cc" stroke-width="0.8"/>
<line x1="539.50" y1="133.30" x2="539.50" y2="135.04" stroke="#7d62cc" stroke-width="0.5"/>
<line x1="539.50" y1="146.06" x2="539.50" y2="147.80" stroke="#7d62cc" stroke-width="0.5"/>
<line x1="537.52" y1="138.38" x2="541.48" y2="138.38" stroke="#ffffff" stroke-width="0.45"/>
<line x1="537.52" y1="140.55" x2="541.48" y2="140.55" stroke="#ffffff" stroke-width="0.45"/>
<line x1="537.52" y1="142.73" x2="541.48" y2="142.73" stroke="#ffffff" stroke-width="0.45"/>
<circle cx="539.50" cy="138.09" r="1.21" fill="#7d62cc"/>
<circle cx="539.50" cy="140.55" r="1.21" fill="#7d62cc"/>
<circle cx="539.50" cy="143.16" r="1.21" fill="#7d62cc"/>
<path d="M551.10,133.30 C551.17,133.56 550.96,134.12 551.53,134.83 C552.09,135.54 553.95,136.56 554.47,137.58 C554.99,138.60 554.65,139.83 554.65,140.95 C554.65,142.07 554.99,143.30 554.47,144.32 C553.95,145.34 552.09,146.36 551.53,147.07 C550.96,147.78 551.17,148.34 551.10,148.60 C551.03,148.34 551.24,147.78 550.67,147.07 C550.11,146.36 548.25,145.34 547.73,144.32 C547.21,143.30 547.55,142.07 547.55,140.95 C547.55,139.83 547.21,138.60 547.73,137.58 C548.25,136.56 550.11,135.54 550.67,134.83 C551.24,134.12 551.03,133.56 551.10,133.30 Z" fill="#edb0f5" stroke="#c455d6" stroke-width="0.8"/>
<line x1="551.10" y1="133.30" x2="551.10" y2="135.14" stroke="#c455d6" stroke-width="0.5"/>
<line x1="551.10" y1="146.76" x2="551.10" y2="148.60" stroke="#c455d6" stroke-width="0.5"/>
<line x1="549.15" y1="138.66" x2="553.05" y2="138.66" stroke="#ffffff" stroke-width="0.45"/>
<line x1="549.15" y1="140.95" x2="553.05" y2="140.95" stroke="#ffffff" stroke-width="0.45"/>
<line x1="549.15" y1="143.25" x2="553.05" y2="143.25" stroke="#ffffff" stroke-width="0.45"/>
<circle cx="551.10" cy="138.35" r="1.20" fill="#c455d6"/>
<circle cx="551.10" cy="140.95" r="1.20" fill="#c455d6"/>
<circle cx="551.10" cy="143.70" r="1.20" fill="#c455d6"/>
<path d="M562.80,123.80 C562.86,124.11 562.75,124.94 563.15,125.63 C563.56,126.33 564.98,127.25 565.21,127.99 C565.45,128.73 564.39,129.32 564.57,130.09 C564.76,130.85 566.59,131.75 566.35,132.58 C566.11,133.41 563.75,134.35 563.15,135.07 C562.56,135.79 562.86,136.59 562.80,136.90 C562.74,136.59 563.04,135.79 562.44,135.07 C561.85,134.35 559.49,133.41 559.25,132.58 C559.01,131.75 560.84,130.85 561.02,130.09 C561.21,129.32 560.15,128.73 560.39,127.99 C560.62,127.25 562.04,126.33 562.44,125.63 C562.85,124.94 562.74,124.11 562.80,123.80 Z" fill="#c3e9a6" stroke="#7dbf52" stroke-width="0.8"/>
<line x1="562.80" y1="123.80" x2="562.80" y2="125.37" stroke="#7dbf52" stroke-width="0.5"/>
<line x1="562.80" y1="135.33" x2="562.80" y2="136.90" stroke="#7dbf52" stroke-width="0.5"/>
<line x1="560.85" y1="128.38" x2="564.75" y2="128.38" stroke="#ffffff" stroke-width="0.45"/>
<line x1="560.85" y1="130.35" x2="564.75" y2="130.35" stroke="#ffffff" stroke-width="0.45"/>
<line x1="560.85" y1="132.31" x2="564.75" y2="132.31" stroke="#ffffff" stroke-width="0.45"/>
<circle cx="562.80" cy="128.12" r="1.20" fill="#7dbf52"/>
<circle cx="562.80" cy="130.35" r="1.20" fill="#7dbf52"/>
<circle cx="562.80" cy="132.71" r="1.20" fill="#7dbf52"/>
<line x1="526.70" y1="80.00" x2="540.90" y2="80.00" stroke="#333" stroke-width="1"/>
<text x="534.50" y="76.22" font-size="6.2" text-anchor="middle" fill="#222" stroke="#222" stroke-width="0.12"><tspan font-style="italic">p</tspan>&lt;0.001</text>
<line x1="549.90" y1="101.00" x2="563.50" y2="101.00" stroke="#333" stroke-width="1"/>
<text x="556.40" y="97.82" font-size="6.2" text-anchor="middle" fill="#222" stroke="#222" stroke-width="0.12"><tspan font-style="italic">p</tspan>=0.0325</text>
<text x="0" y="0" font-size="10.2" text-anchor="middle" fill="#111" stroke="#111" stroke-width="0.25" transform="translate(495.26,119.35) rotate(-90)">PD-L1 (pg/mgprot)</text>
<line x1="615.50" y1="76.80" x2="615.50" y2="157.60" stroke="#222" stroke-width="1.1"/>
<line x1="612.00" y1="77.30" x2="615.50" y2="77.30" stroke="#222" stroke-width="1"/>
<text x="610.93" y="79.71" font-size="8.7" text-anchor="end" font-weight="normal" fill="#111" stroke="#111" stroke-width="0.25" >200</text>
<line x1="612.00" y1="97.30" x2="615.50" y2="97.30" stroke="#222" stroke-width="1"/>
<text x="610.93" y="99.71" font-size="8.7" text-anchor="end" font-weight="normal" fill="#111" stroke="#111" stroke-width="0.25" >150</text>
<line x1="612.00" y1="117.50" x2="615.50" y2="117.50" stroke="#222" stroke-width="1"/>
<text x="610.93" y="119.91" font-size="8.7" text-anchor="end" font-weight="normal" fill="#111" stroke="#111" stroke-width="0.25" >100</text>
<line x1="612.00" y1="137.40" x2="615.50" y2="137.40" stroke="#222" stroke-width="1"/>
<text x="610.93" y="139.81" font-size="8.7" text-anchor="end" font-weight="normal" fill="#111" stroke="#111" stroke-width="0.25" >50</text>
<line x1="612.00" y1="157.60" x2="615.50" y2="157.60" stroke="#222" stroke-width="1"/>
<text x="610.93" y="160.01" font-size="8.7" text-anchor="end" font-weight="normal" fill="#111" stroke="#111" stroke-width="0.25" >0</text>
<line x1="615.50" y1="157.60" x2="669.70" y2="157.60" stroke="#222" stroke-width="1.1"/>
<line x1="624.10" y1="157.60" x2="624.10" y2="160.60" stroke="#222" stroke-width="1"/>
<line x1="636.70" y1="157.60" x2="636.70" y2="160.60" stroke="#222" stroke-width="1"/>
<line x1="648.70" y1="157.60" x2="648.70" y2="160.60" stroke="#222" stroke-width="1"/>
<line x1="661.20" y1="157.60" x2="661.20" y2="160.60" stroke="#222" stroke-width="1"/>
<path d="M624.10,93.00 C624.16,93.55 623.90,95.02 624.48,96.28 C625.05,97.54 626.99,99.01 627.55,100.56 C628.11,102.11 627.85,103.92 627.85,105.60 C627.85,107.28 628.10,109.09 627.55,110.64 C627.00,112.19 625.13,113.66 624.55,114.92 C623.98,116.18 624.18,117.65 624.10,118.20 C624.02,117.65 624.23,116.18 623.65,114.92 C623.07,113.66 621.20,112.19 620.65,110.64 C620.10,109.09 620.35,107.28 620.35,105.60 C620.35,103.92 620.09,102.11 620.65,100.56 C621.21,99.01 623.15,97.54 623.73,96.28 C624.30,95.02 624.04,93.55 624.10,93.00 Z" fill="#a3bde8" stroke="#5a84c8" stroke-width="0.8"/>
<line x1="624.10" y1="93.00" x2="624.10" y2="96.02" stroke="#5a84c8" stroke-width="0.5"/>
<line x1="624.10" y1="115.18" x2="624.10" y2="118.20" stroke="#5a84c8" stroke-width="0.5"/>
<line x1="622.04" y1="101.82" x2="626.16" y2="101.82" stroke="#ffffff" stroke-width="0.45"/>
<line x1="622.04" y1="105.60" x2="626.16" y2="105.60" stroke="#ffffff" stroke-width="0.45"/>
<line x1="622.04" y1="109.38" x2="626.16" y2="109.38" stroke="#ffffff" stroke-width="0.45"/>
<circle cx="624.10" cy="101.32" r="1.26" fill="#5a84c8"/>
<circle cx="624.10" cy="105.60" r="1.26" fill="#5a84c8"/>
<circle cx="624.10" cy="110.14" r="1.26" fill="#5a84c8"/>
<path d="M636.70,126.20 C636.76,126.72 636.65,128.14 637.09,129.34 C637.52,130.53 639.06,132.10 639.32,133.37 C639.57,134.64 638.42,135.65 638.62,136.95 C638.83,138.26 640.81,139.79 640.55,141.21 C640.29,142.63 637.73,144.23 637.09,145.46 C636.44,146.70 636.76,148.08 636.70,148.60 C636.64,148.08 636.96,146.70 636.32,145.46 C635.67,144.23 633.11,142.63 632.85,141.21 C632.59,139.79 634.57,138.26 634.78,136.95 C634.98,135.65 633.83,134.64 634.08,133.37 C634.34,132.10 635.88,130.53 636.32,129.34 C636.75,128.14 636.64,126.72 636.70,126.20 Z" fill="#b8a8ea" stroke="#7d62cc" stroke-width="0.8"/>
<line x1="636.70" y1="126.20" x2="636.70" y2="128.89" stroke="#7d62cc" stroke-width="0.5"/>
<line x1="636.70" y1="145.91" x2="636.70" y2="148.60" stroke="#7d62cc" stroke-width="0.5"/>
<line x1="634.58" y1="134.04" x2="638.82" y2="134.04" stroke="#ffffff" stroke-width="0.45"/>
<line x1="634.58" y1="137.40" x2="638.82" y2="137.40" stroke="#ffffff" stroke-width="0.45"/>
<line x1="634.58" y1="140.76" x2="638.82" y2="140.76" stroke="#ffffff" stroke-width="0.45"/>
<circle cx="636.70" cy="133.59" r="1.29" fill="#7d62cc"/>
<circle cx="636.70" cy="137.40" r="1.29" fill="#7d62cc"/>
<circle cx="636.70" cy="141.43" r="1.29" fill="#7d62cc"/>
<path d="M648.70,129.70 C648.78,129.96 648.56,130.54 649.15,131.28 C649.74,132.02 651.71,133.07 652.26,134.12 C652.81,135.18 652.45,136.44 652.45,137.60 C652.45,138.76 652.81,140.02 652.26,141.08 C651.71,142.13 649.74,143.18 649.15,143.92 C648.56,144.66 648.78,145.24 648.70,145.50 C648.62,145.24 648.84,144.66 648.25,143.92 C647.66,143.18 645.69,142.13 645.14,141.08 C644.59,140.02 644.95,138.76 644.95,137.60 C644.95,136.44 644.59,135.18 645.14,134.12 C645.69,133.07 647.66,132.02 648.25,131.28 C648.84,130.54 648.62,129.96 648.70,129.70 Z" fill="#edb0f5" stroke="#c455d6" stroke-width="0.8"/>
<line x1="648.70" y1="129.70" x2="648.70" y2="131.60" stroke="#c455d6" stroke-width="0.5"/>
<line x1="648.70" y1="143.60" x2="648.70" y2="145.50" stroke="#c455d6" stroke-width="0.5"/>
<line x1="646.64" y1="135.23" x2="650.76" y2="135.23" stroke="#ffffff" stroke-width="0.45"/>
<line x1="646.64" y1="137.60" x2="650.76" y2="137.60" stroke="#ffffff" stroke-width="0.45"/>
<line x1="646.64" y1="139.97" x2="650.76" y2="139.97" stroke="#ffffff" stroke-width="0.45"/>
<circle cx="648.70" cy="134.91" r="1.26" fill="#c455d6"/>
<circle cx="648.70" cy="137.60" r="1.26" fill="#c455d6"/>
<circle cx="648.70" cy="140.44" r="1.26" fill="#c455d6"/>
<path d="M661.20,109.00 C661.26,109.58 661.00,111.15 661.58,112.50 C662.15,113.84 664.09,115.41 664.65,117.07 C665.21,118.73 664.95,120.66 664.95,122.45 C664.95,124.24 665.20,126.17 664.65,127.83 C664.10,129.49 662.23,131.06 661.65,132.40 C661.08,133.75 661.28,135.32 661.20,135.90 C661.12,135.32 661.33,133.75 660.75,132.40 C660.17,131.06 658.30,129.49 657.75,127.83 C657.20,126.17 657.45,124.24 657.45,122.45 C657.45,120.66 657.19,118.73 657.75,117.07 C658.31,115.41 660.25,113.84 660.83,112.50 C661.40,111.15 661.14,109.58 661.20,109.00 Z" fill="#c3e9a6" stroke="#7dbf52" stroke-width="0.8"/>
<line x1="661.20" y1="109.00" x2="661.20" y2="112.23" stroke="#7dbf52" stroke-width="0.5"/>
<line x1="661.20" y1="132.67" x2="661.20" y2="135.90" stroke="#7dbf52" stroke-width="0.5"/>
<line x1="659.14" y1="118.42" x2="663.26" y2="118.42" stroke="#ffffff" stroke-width="0.45"/>
<line x1="659.14" y1="122.45" x2="663.26" y2="122.45" stroke="#ffffff" stroke-width="0.45"/>
<line x1="659.14" y1="126.48" x2="663.26" y2="126.48" stroke="#ffffff" stroke-width="0.45"/>
<circle cx="661.20" cy="117.88" r="1.26" fill="#7dbf52"/>
<circle cx="661.20" cy="122.45" r="1.26" fill="#7dbf52"/>
<circle cx="661.20" cy="127.29" r="1.26" fill="#7dbf52"/>
<line x1="622.60" y1="78.70" x2="636.70" y2="78.70" stroke="#333" stroke-width="1"/>
<text x="631.40" y="76.02" font-size="6.2" text-anchor="middle" fill="#222" stroke="#222" stroke-width="0.12"><tspan font-style="italic">p</tspan>&lt;0.001</text>
<line x1="649.00" y1="97.10" x2="662.80" y2="97.10" stroke="#333" stroke-width="1"/>
<text x="654.40" y="94.72" font-size="6.2" text-anchor="middle" fill="#222" stroke="#222" stroke-width="0.12"><tspan font-style="italic">p</tspan>=0.0182</text>
<text x="0" y="0" font-size="10.1" text-anchor="middle" fill="#111" stroke="#111" stroke-width="0.25" transform="translate(588.98,120.65) rotate(-90)">sCD80 (pg/mL)</text>
<text x="-0.09" y="179.70" font-size="22.2" text-anchor="start" font-weight="bold" fill="#000" >D</text>
<rect x="1.50" y="190.35" width="8.90" height="3.70" fill="#c3d4ef" stroke="#5a84c8" stroke-width="0.8"/>
<text x="12.46" y="195.15" font-size="9.2" text-anchor="start" font-weight="normal" fill="#111" stroke="#111" stroke-width="0.25" >ES+PA+sh-NC</text>
<rect x="1.50" y="201.70" width="8.90" height="3.70" fill="#cabdf0" stroke="#7d62cc" stroke-width="0.8"/>
<text x="12.46" y="205.85" font-size="9.2" text-anchor="start" font-weight="normal" fill="#111" stroke="#111" stroke-width="0.25" >ES+PA+sh-TDRD9</text>
<rect x="1.50" y="213.55" width="8.90" height="3.70" fill="#f1c6f6" stroke="#c455d6" stroke-width="0.8"/>
<text x="12.46" y="216.55" font-size="9.2" text-anchor="start" font-weight="normal" fill="#111" stroke="#111" stroke-width="0.25" >ES+PA+sh-TDRD9+oe-NC</text>
<rect x="1.50" y="224.70" width="8.90" height="3.70" fill="#d6efc6" stroke="#7dbf52" stroke-width="0.8"/>
<text x="12.46" y="229.40" font-size="9.2" text-anchor="start" font-weight="normal" fill="#111" stroke="#111" stroke-width="0.25" >ES+PA+sh-TDRD9+oe-PD-L1</text>
<line x1="33.40" y1="238.10" x2="33.40" y2="320.60" stroke="#222" stroke-width="1.1"/>
<line x1="29.90" y1="238.60" x2="33.40" y2="238.60" stroke="#222" stroke-width="1"/>
<text x="29.76" y="241.23" font-size="9.3" text-anchor="end" font-weight="normal" fill="#111" stroke="#111" stroke-width="0.25" >1.0</text>
<line x1="29.90" y1="259.30" x2="33.40" y2="259.30" stroke="#222" stroke-width="1"/>
<text x="29.76" y="261.93" font-size="9.3" text-anchor="end" font-weight="normal" fill="#111" stroke="#111" stroke-width="0.25" >0.9</text>
<line x1="29.90" y1="279.80" x2="33.40" y2="279.80" stroke="#222" stroke-width="1"/>
<text x="29.76" y="282.43" font-size="9.3" text-anchor="end" font-weight="normal" fill="#111" stroke="#111" stroke-width="0.25" >0.8</text>
<line x1="29.90" y1="300.40" x2="33.40" y2="300.40" stroke="#222" stroke-width="1"/>
<text x="29.76" y="303.03" font-size="9.3" text-anchor="end" font-weight="normal" fill="#111" stroke="#111" stroke-width="0.25" >0.7</text>
<line x1="29.90" y1="320.60" x2="33.40" y2="320.60" stroke="#222" stroke-width="1"/>
<text x="29.76" y="323.23" font-size="9.3" text-anchor="end" font-weight="normal" fill="#111" stroke="#111" stroke-width="0.25" >0.6</text>
<line x1="33.40" y1="320.60" x2="88.60" y2="320.60" stroke="#222" stroke-width="1.1"/>
<line x1="41.70" y1="320.60" x2="41.70" y2="323.60" stroke="#222" stroke-width="1"/>
<line x1="54.80" y1="320.60" x2="54.80" y2="323.60" stroke="#222" stroke-width="1"/>
<line x1="67.30" y1="320.60" x2="67.30" y2="323.60" stroke="#222" stroke-width="1"/>
<line x1="79.90" y1="320.60" x2="79.90" y2="323.60" stroke="#222" stroke-width="1"/>
<path d="M41.70,253.50 C41.76,253.85 41.65,254.80 42.09,255.60 C42.52,256.40 44.06,257.45 44.32,258.30 C44.57,259.15 43.42,259.82 43.62,260.70 C43.83,261.57 45.81,262.60 45.55,263.55 C45.29,264.50 42.73,265.57 42.09,266.40 C41.44,267.22 41.76,268.15 41.70,268.50 C41.64,268.15 41.96,267.22 41.32,266.40 C40.67,265.57 38.11,264.50 37.85,263.55 C37.59,262.60 39.57,261.57 39.78,260.70 C39.98,259.82 38.83,259.15 39.08,258.30 C39.34,257.45 40.88,256.40 41.32,255.60 C41.75,254.80 41.64,253.85 41.70,253.50 Z" fill="#a3bde8" stroke="#5a84c8" stroke-width="0.8"/>
<line x1="41.70" y1="253.50" x2="41.70" y2="255.30" stroke="#5a84c8" stroke-width="0.5"/>
<line x1="41.70" y1="266.70" x2="41.70" y2="268.50" stroke="#5a84c8" stroke-width="0.5"/>
<line x1="39.58" y1="258.75" x2="43.82" y2="258.75" stroke="#ffffff" stroke-width="0.45"/>
<line x1="39.58" y1="261.00" x2="43.82" y2="261.00" stroke="#ffffff" stroke-width="0.45"/>
<line x1="39.58" y1="263.25" x2="43.82" y2="263.25" stroke="#ffffff" stroke-width="0.45"/>
<circle cx="41.70" cy="258.45" r="1.29" fill="#5a84c8"/>
<circle cx="41.70" cy="261.00" r="1.29" fill="#5a84c8"/>
<circle cx="41.70" cy="263.70" r="1.29" fill="#5a84c8"/>
<path d="M54.80,284.00 C54.86,284.27 54.54,284.99 55.18,285.62 C55.83,286.26 58.39,287.09 58.65,287.83 C58.91,288.56 56.93,289.36 56.72,290.03 C56.52,290.71 57.67,291.23 57.42,291.89 C57.16,292.55 55.62,293.36 55.18,293.98 C54.75,294.59 54.86,295.33 54.80,295.60 C54.74,295.33 54.85,294.59 54.41,293.98 C53.98,293.36 52.44,292.55 52.18,291.89 C51.93,291.23 53.08,290.71 52.88,290.03 C52.67,289.36 50.69,288.56 50.95,287.83 C51.21,287.09 53.77,286.26 54.41,285.62 C55.06,284.99 54.74,284.27 54.80,284.00 Z" fill="#b8a8ea" stroke="#7d62cc" stroke-width="0.8"/>
<line x1="54.80" y1="284.00" x2="54.80" y2="285.39" stroke="#7d62cc" stroke-width="0.5"/>
<line x1="54.80" y1="294.21" x2="54.80" y2="295.60" stroke="#7d62cc" stroke-width="0.5"/>
<line x1="52.68" y1="288.06" x2="56.92" y2="288.06" stroke="#ffffff" stroke-width="0.45"/>
<line x1="52.68" y1="289.80" x2="56.92" y2="289.80" stroke="#ffffff" stroke-width="0.45"/>
<line x1="52.68" y1="291.54" x2="56.92" y2="291.54" stroke="#ffffff" stroke-width="0.45"/>
<circle cx="54.80" cy="287.83" r="1.29" fill="#7d62cc"/>
<circle cx="54.80" cy="289.80" r="1.29" fill="#7d62cc"/>
<circle cx="54.80" cy="291.89" r="1.29" fill="#7d62cc"/>
<path d="M67.30,273.80 C67.37,274.49 67.04,276.21 67.69,277.94 C68.35,279.67 70.84,281.97 71.25,284.15 C71.66,286.34 70.24,288.75 70.14,291.05 C70.05,293.35 71.07,295.76 70.66,297.95 C70.25,300.13 68.25,302.44 67.69,304.16 C67.14,305.89 67.37,307.61 67.30,308.30 C67.23,307.61 67.46,305.89 66.91,304.16 C66.35,302.44 64.35,300.13 63.94,297.95 C63.53,295.76 64.55,293.35 64.46,291.05 C64.36,288.75 62.94,286.34 63.35,284.15 C63.76,281.97 66.25,279.67 66.91,277.94 C67.56,276.21 67.23,274.49 67.30,273.80 Z" fill="#edb0f5" stroke="#c455d6" stroke-width="0.8"/>
<line x1="67.30" y1="273.80" x2="67.30" y2="277.94" stroke="#c455d6" stroke-width="0.5"/>
<line x1="67.30" y1="304.16" x2="67.30" y2="308.30" stroke="#c455d6" stroke-width="0.5"/>
<line x1="65.13" y1="285.88" x2="69.47" y2="285.88" stroke="#ffffff" stroke-width="0.45"/>
<line x1="65.13" y1="291.05" x2="69.47" y2="291.05" stroke="#ffffff" stroke-width="0.45"/>
<line x1="65.13" y1="296.23" x2="69.47" y2="296.23" stroke="#ffffff" stroke-width="0.45"/>
<circle cx="67.30" cy="285.19" r="1.30" fill="#c455d6"/>
<circle cx="67.30" cy="291.05" r="1.30" fill="#c455d6"/>
<circle cx="67.30" cy="297.26" r="1.30" fill="#c455d6"/>
<path d="M79.90,258.00 C79.98,258.34 79.76,259.08 80.35,260.03 C80.94,260.98 82.91,262.33 83.46,263.68 C84.01,265.04 83.65,266.66 83.65,268.15 C83.65,269.64 84.01,271.26 83.46,272.62 C82.91,273.97 80.94,275.32 80.35,276.27 C79.76,277.22 79.98,277.96 79.90,278.30 C79.83,277.96 80.04,277.22 79.45,276.27 C78.86,275.32 76.89,273.97 76.34,272.62 C75.79,271.26 76.15,269.64 76.15,268.15 C76.15,266.66 75.79,265.04 76.34,263.68 C76.89,262.33 78.86,260.98 79.45,260.03 C80.04,259.08 79.83,258.34 79.90,258.00 Z" fill="#c3e9a6" stroke="#7dbf52" stroke-width="0.8"/>
<line x1="79.90" y1="258.00" x2="79.90" y2="260.44" stroke="#7dbf52" stroke-width="0.5"/>
<line x1="79.90" y1="275.86" x2="79.90" y2="278.30" stroke="#7dbf52" stroke-width="0.5"/>
<line x1="77.84" y1="265.11" x2="81.96" y2="265.11" stroke="#ffffff" stroke-width="0.45"/>
<line x1="77.84" y1="268.15" x2="81.96" y2="268.15" stroke="#ffffff" stroke-width="0.45"/>
<line x1="77.84" y1="271.19" x2="81.96" y2="271.19" stroke="#ffffff" stroke-width="0.45"/>
<circle cx="79.90" cy="264.70" r="1.26" fill="#7dbf52"/>
<circle cx="79.90" cy="268.15" r="1.26" fill="#7dbf52"/>
<circle cx="79.90" cy="271.80" r="1.26" fill="#7dbf52"/>
<line x1="42.80" y1="248.00" x2="56.80" y2="248.00" stroke="#333" stroke-width="1"/>
<text x="48.60" y="244.52" font-size="6.2" text-anchor="middle" fill="#222" stroke="#222" stroke-width="0.12"><tspan font-style="italic">p</tspan>&lt;0.001</text>
<line x1="68.80" y1="248.00" x2="81.10" y2="248.00" stroke="#333" stroke-width="1"/>
<text x="76.50" y="243.02" font-size="6.2" text-anchor="middle" fill="#222" stroke="#222" stroke-width="0.12"><tspan font-style="italic">p</tspan>=0.0012</text>
<text x="0" y="0" font-size="9.5" text-anchor="middle" fill="#111" stroke="#111" stroke-width="0.25" transform="translate(12.00,283.75) rotate(-90)">OD value</text>
<text x="132.51" y="180.00" font-size="22.2" text-anchor="start" font-weight="bold" fill="#000" >E</text>
<text x="203.00" y="170.69" font-size="9.3" text-anchor="middle" font-weight="normal" fill="#111" stroke="#111" stroke-width="0.25" >ES+PA</text>
<line x1="162.40" y1="175.00" x2="243.40" y2="175.00" stroke="#222" stroke-width="1"/>
<text x="179.90" y="186.59" font-size="9.3" text-anchor="end" font-weight="normal" fill="#111" stroke="#111" stroke-width="0.25" >sh-NC</text>
<text x="179.90" y="196.19" font-size="9.3" text-anchor="end" font-weight="normal" fill="#111" stroke="#111" stroke-width="0.25" >sh-TARD9</text>
<text x="179.90" y="208.69" font-size="9.3" text-anchor="end" font-weight="normal" fill="#111" stroke="#111" stroke-width="0.25" >oe-NC</text>
<text x="179.90" y="220.59" font-size="9.3" text-anchor="end" font-weight="normal" fill="#111" stroke="#111" stroke-width="0.25" >oe-PD-L1</text>
<text x="190.10" y="186.35" font-size="9.3" text-anchor="middle" font-weight="normal" fill="#111" stroke="#111" stroke-width="0.25" >+</text>
<text x="204.70" y="186.68" font-size="9.3" text-anchor="middle" font-weight="normal" fill="#111" stroke="#111" stroke-width="0.25" >-</text>
<text x="221.50" y="186.68" font-size="9.3" text-anchor="middle" font-weight="normal" fill="#111" stroke="#111" stroke-width="0.25" >-</text>
<text x="236.40" y="186.68" font-size="9.3" text-anchor="middle" font-weight="normal" fill="#111" stroke="#111" stroke-width="0.25" >-</text>
<text x="190.10" y="194.98" font-size="9.3" text-anchor="middle" font-weight="normal" fill="#111" stroke="#111" stroke-width="0.25" >-</text>
<text x="204.70" y="197.56" font-size="9.3" text-anchor="middle" font-weight="normal" fill="#111" stroke="#111" stroke-width="0.25" >+</text>
<text x="221.50" y="198.56" font-size="9.3" text-anchor="middle" font-weight="normal" fill="#111" stroke="#111" stroke-width="0.25" >+</text>
<text x="236.40" y="198.56" font-size="9.3" text-anchor="middle" font-weight="normal" fill="#111" stroke="#111" stroke-width="0.25" >+</text>
<text x="190.10" y="206.38" font-size="9.3" text-anchor="middle" font-weight="normal" fill="#111" stroke="#111" stroke-width="0.25" >-</text>
<text x="204.70" y="206.68" font-size="9.3" text-anchor="middle" font-weight="normal" fill="#111" stroke="#111" stroke-width="0.25" >-</text>
<text x="221.50" y="209.66" font-size="9.3" text-anchor="middle" font-weight="normal" fill="#111" stroke="#111" stroke-width="0.25" >+</text>
<text x="236.40" y="208.58" font-size="9.3" text-anchor="middle" font-weight="normal" fill="#111" stroke="#111" stroke-width="0.25" >-</text>
<text x="190.10" y="218.38" font-size="9.3" text-anchor="middle" font-weight="normal" fill="#111" stroke="#111" stroke-width="0.25" >-</text>
<text x="204.70" y="218.78" font-size="9.3" text-anchor="middle" font-weight="normal" fill="#111" stroke="#111" stroke-width="0.25" >-</text>
<text x="221.50" y="219.18" font-size="9.3" text-anchor="middle" font-weight="normal" fill="#111" stroke="#111" stroke-width="0.25" >-</text>
<text x="236.40" y="218.45" font-size="9.3" text-anchor="middle" font-weight="normal" fill="#111" stroke="#111" stroke-width="0.25" >+</text>
<rect x="180.20" y="222.10" width="64.70" height="15.50" fill="#777777"/>
<rect x="182.80" y="226.80" width="12.00" height="2.20" rx="1.10" fill="#050505" fill-opacity="1.00" filter="url(#bl)"/>
<rect x="198.70" y="226.80" width="12.00" height="2.20" rx="1.10" fill="#050505" fill-opacity="1.00" filter="url(#bl)"/>
<rect x="214.60" y="226.80" width="12.00" height="2.20" rx="1.10" fill="#050505" fill-opacity="1.00" filter="url(#bl)"/>
<rect x="230.50" y="226.80" width="12.00" height="2.20" rx="1.10" fill="#050505" fill-opacity="1.00" filter="url(#bl)"/>
<rect x="182.80" y="232.15" width="12.00" height="2.30" rx="1.15" fill="#050505" fill-opacity="1.00" filter="url(#bl)"/>
<rect x="198.70" y="232.15" width="12.00" height="2.30" rx="1.15" fill="#050505" fill-opacity="1.00" filter="url(#bl)"/>
<rect x="214.60" y="232.15" width="12.00" height="2.30" rx="1.15" fill="#050505" fill-opacity="1.00" filter="url(#bl)"/>
<rect x="230.50" y="232.15" width="12.00" height="2.30" rx="1.15" fill="#050505" fill-opacity="1.00" filter="url(#bl)"/>
<rect x="180.20" y="240.30" width="64.70" height="11.40" fill="#777777"/>
<rect x="182.80" y="245.45" width="12.00" height="2.70" rx="1.35" fill="#050505" fill-opacity="1.00" filter="url(#bl)"/>
<rect x="198.70" y="245.45" width="12.00" height="2.70" rx="1.35" fill="#050505" fill-opacity="1.00" filter="url(#bl)"/>
<rect x="214.60" y="245.45" width="12.00" height="2.70" rx="1.35" fill="#050505" fill-opacity="1.00" filter="url(#bl)"/>
<rect x="230.50" y="245.45" width="12.00" height="2.70" rx="1.35" fill="#050505" fill-opacity="1.00" filter="url(#bl)"/>
<rect x="180.20" y="254.30" width="64.70" height="10.90" fill="#777777"/>
<rect x="182.80" y="258.75" width="12.00" height="2.30" rx="1.15" fill="#050505" fill-opacity="0.95" filter="url(#bl)"/>
<rect x="198.70" y="258.75" width="12.00" height="2.30" rx="1.15" fill="#050505" fill-opacity="0.55" filter="url(#bl)"/>
<rect x="214.60" y="258.75" width="12.00" height="2.30" rx="1.15" fill="#050505" fill-opacity="0.55" filter="url(#bl)"/>
<rect x="230.50" y="258.75" width="12.00" height="2.30" rx="1.15" fill="#050505" fill-opacity="0.90" filter="url(#bl)"/>
<rect x="180.20" y="267.30" width="64.70" height="11.50" fill="#777777"/>
<rect x="182.80" y="271.70" width="12.00" height="2.40" rx="1.20" fill="#050505" fill-opacity="0.95" filter="url(#bl)"/>
<rect x="198.70" y="271.70" width="12.00" height="2.40" rx="1.20" fill="#050505" fill-opacity="0.70" filter="url(#bl)"/>
<rect x="214.60" y="271.70" width="12.00" height="2.40" rx="1.20" fill="#050505" fill-opacity="0.70" filter="url(#bl)"/>
<rect x="230.50" y="271.70" width="12.00" height="2.40" rx="1.20" fill="#050505" fill-opacity="0.95" filter="url(#bl)"/>
<rect x="180.20" y="280.60" width="64.70" height="10.80" fill="#777777"/>
<rect x="182.80" y="285.00" width="12.00" height="2.40" rx="1.20" fill="#050505" fill-opacity="0.95" filter="url(#bl)"/>
<rect x="198.70" y="285.00" width="12.00" height="2.40" rx="1.20" fill="#050505" fill-opacity="0.70" filter="url(#bl)"/>
<rect x="214.60" y="285.00" width="12.00" height="2.40" rx="1.20" fill="#050505" fill-opacity="0.65" filter="url(#bl)"/>
<rect x="230.50" y="285.00" width="12.00" height="2.40" rx="1.20" fill="#050505" fill-opacity="0.95" filter="url(#bl)"/>
<rect x="180.20" y="293.60" width="64.70" height="10.60" fill="#777777"/>
<rect x="182.80" y="297.55" width="12.00" height="2.30" rx="1.15" fill="#050505" fill-opacity="0.90" filter="url(#bl)"/>
<rect x="198.70" y="297.55" width="12.00" height="2.30" rx="1.15" fill="#050505" fill-opacity="0.65" filter="url(#bl)"/>
<rect x="214.60" y="297.55" width="12.00" height="2.30" rx="1.15" fill="#050505" fill-opacity="0.60" filter="url(#bl)"/>
<rect x="230.50" y="297.55" width="12.00" height="2.30" rx="1.15" fill="#050505" fill-opacity="0.90" filter="url(#bl)"/>
<rect x="180.20" y="306.50" width="64.70" height="11.10" fill="#777777"/>
<rect x="182.80" y="310.85" width="12.00" height="2.30" rx="1.15" fill="#050505" fill-opacity="0.95" filter="url(#bl)"/>
<rect x="198.70" y="310.85" width="12.00" height="2.30" rx="1.15" fill="#050505" fill-opacity="0.45" filter="url(#bl)"/>
<rect x="214.60" y="310.85" width="12.00" height="2.30" rx="1.15" fill="#050505" fill-opacity="0.45" filter="url(#bl)"/>
<rect x="230.50" y="310.85" width="12.00" height="2.30" rx="1.15" fill="#050505" fill-opacity="0.85" filter="url(#bl)"/>
<rect x="180.20" y="319.70" width="64.70" height="12.00" fill="#777777"/>
<rect x="182.80" y="323.90" width="12.00" height="3.60" rx="1.80" fill="#050505" fill-opacity="1.00" filter="url(#bl)"/>
<rect x="198.70" y="323.90" width="12.00" height="3.60" rx="1.80" fill="#050505" fill-opacity="1.00" filter="url(#bl)"/>
<rect x="214.60" y="323.90" width="12.00" height="3.60" rx="1.80" fill="#050505" fill-opacity="1.00" filter="url(#bl)"/>
<rect x="230.50" y="323.90" width="12.00" height="3.60" rx="1.80" fill="#050505" fill-opacity="1.00" filter="url(#bl)"/>
<text x="178.60" y="234.19" font-size="9.3" text-anchor="end" font-weight="normal" fill="#111" stroke="#111" stroke-width="0.25" >SLC31A1</text>
<text x="178.60" y="249.79" font-size="9.3" text-anchor="end" font-weight="normal" fill="#111" stroke="#111" stroke-width="0.25" >p53</text>
<text x="178.60" y="263.39" font-size="9.3" text-anchor="end" font-weight="normal" fill="#111" stroke="#111" stroke-width="0.25" >DLAT</text>
<text x="178.60" y="276.39" font-size="9.3" text-anchor="end" font-weight="normal" fill="#111" stroke="#111" stroke-width="0.25" >FDX1</text>
<text x="178.60" y="290.09" font-size="9.3" text-anchor="end" font-weight="normal" fill="#111" stroke="#111" stroke-width="0.25" >LIAS</text>
<text x="178.60" y="302.79" font-size="9.3" text-anchor="end" font-weight="normal" fill="#111" stroke="#111" stroke-width="0.25" >ATP7A</text>
<text x="178.60" y="315.39" font-size="9.3" text-anchor="end" font-weight="normal" fill="#111" stroke="#111" stroke-width="0.25" >ATP7B</text>
<text x="178.60" y="329.59" font-size="9.3" text-anchor="end" font-weight="normal" fill="#111" stroke="#111" stroke-width="0.25" >β-actin</text>
<text x="247.70" y="230.05" font-size="9.2" text-anchor="start" font-weight="normal" fill="#111" stroke="#111" stroke-width="0.25" >35 kDa</text>
<text x="247.70" y="239.35" font-size="9.2" text-anchor="start" font-weight="normal" fill="#111" stroke="#111" stroke-width="0.25" >28 kDa</text>
<text x="247.70" y="250.95" font-size="9.2" text-anchor="start" font-weight="normal" fill="#111" stroke="#111" stroke-width="0.25" >53 kDa</text>
<text x="247.70" y="263.35" font-size="9.2" text-anchor="start" font-weight="normal" fill="#111" stroke="#111" stroke-width="0.25" >69-70 kDa</text>
<text x="247.70" y="276.45" font-size="9.2" text-anchor="start" font-weight="normal" fill="#111" stroke="#111" stroke-width="0.25" >19 kDa</text>
<text x="247.70" y="291.85" font-size="9.2" text-anchor="start" font-weight="normal" fill="#111" stroke="#111" stroke-width="0.25" >42 kDa</text>
<text x="247.70" y="302.55" font-size="9.2" text-anchor="start" font-weight="normal" fill="#111" stroke="#111" stroke-width="0.25" >163 kDa</text>
<text x="247.70" y="315.95" font-size="9.2" text-anchor="start" font-weight="normal" fill="#111" stroke="#111" stroke-width="0.25" >150 kDa</text>
<text x="247.70" y="328.35" font-size="9.2" text-anchor="start" font-weight="normal" fill="#111" stroke="#111" stroke-width="0.25" >42 kDa</text>
<rect x="332.60" y="179.45" width="8.70" height="3.70" fill="#c3d4ef" stroke="#5a84c8" stroke-width="0.8"/>
<text x="343.76" y="184.35" font-size="9.2" text-anchor="start" font-weight="normal" fill="#111" stroke="#111" stroke-width="0.25" >ES+PA+sh-NC</text>
<rect x="332.60" y="190.85" width="8.70" height="3.70" fill="#cabdf0" stroke="#7d62cc" stroke-width="0.8"/>
<text x="343.76" y="194.95" font-size="9.2" text-anchor="start" font-weight="normal" fill="#111" stroke="#111" stroke-width="0.25" >ES+PA+sh-TDRD9</text>
<rect x="332.60" y="202.55" width="8.70" height="3.70" fill="#f1c6f6" stroke="#c455d6" stroke-width="0.8"/>
<text x="343.76" y="205.70" font-size="9.2" text-anchor="start" font-weight="normal" fill="#111" stroke="#111" stroke-width="0.25" >ES+PA+sh-TDRD9+oe-NC</text>
<rect x="332.60" y="214.15" width="8.70" height="3.70" fill="#d6efc6" stroke="#7dbf52" stroke-width="0.8"/>
<text x="343.76" y="218.55" font-size="9.2" text-anchor="start" font-weight="normal" fill="#111" stroke="#111" stroke-width="0.25" >ES+PA+sh-TDRD9+oe-PD-L1</text>
<line x1="324.30" y1="221.00" x2="324.30" y2="322.50" stroke="#222" stroke-width="1.1"/>
<line x1="319.90" y1="221.50" x2="324.30" y2="221.50" stroke="#222" stroke-width="1"/>
<text x="318.48" y="224.25" font-size="9.65" text-anchor="end" font-weight="normal" fill="#111" stroke="#111" stroke-width="0.25" >0.8</text>
<line x1="319.90" y1="246.40" x2="324.30" y2="246.40" stroke="#222" stroke-width="1"/>
<text x="318.48" y="249.15" font-size="9.65" text-anchor="end" font-weight="normal" fill="#111" stroke="#111" stroke-width="0.25" >0.6</text>
<line x1="319.90" y1="272.00" x2="324.30" y2="272.00" stroke="#222" stroke-width="1"/>
<text x="318.48" y="274.75" font-size="9.65" text-anchor="end" font-weight="normal" fill="#111" stroke="#111" stroke-width="0.25" >0.4</text>
<line x1="319.90" y1="297.10" x2="324.30" y2="297.10" stroke="#222" stroke-width="1"/>
<text x="318.48" y="299.85" font-size="9.65" text-anchor="end" font-weight="normal" fill="#111" stroke="#111" stroke-width="0.25" >0.2</text>
<line x1="319.90" y1="322.50" x2="324.30" y2="322.50" stroke="#222" stroke-width="1"/>
<text x="318.48" y="325.25" font-size="9.65" text-anchor="end" font-weight="normal" fill="#111" stroke="#111" stroke-width="0.25" >0.0</text>
<line x1="324.30" y1="322.50" x2="575.50" y2="322.50" stroke="#222" stroke-width="1.1"/>
<line x1="339.00" y1="322.50" x2="339.00" y2="325.50" stroke="#222" stroke-width="1"/>
<line x1="370.50" y1="322.50" x2="370.50" y2="325.50" stroke="#222" stroke-width="1"/>
<line x1="401.80" y1="322.50" x2="401.80" y2="325.50" stroke="#222" stroke-width="1"/>
<line x1="433.10" y1="322.50" x2="433.10" y2="325.50" stroke="#222" stroke-width="1"/>
<line x1="465.20" y1="322.50" x2="465.20" y2="325.50" stroke="#222" stroke-width="1"/>
<line x1="496.80" y1="322.50" x2="496.80" y2="325.50" stroke="#222" stroke-width="1"/>
<line x1="528.30" y1="322.50" x2="528.30" y2="325.50" stroke="#222" stroke-width="1"/>
<line x1="560.30" y1="322.50" x2="560.30" y2="325.50" stroke="#222" stroke-width="1"/>
<text x="323.80" y="335.40" font-size="9.6" text-anchor="middle" font-weight="normal" fill="#111" stroke="#111" stroke-width="0.25" >SLC31A1</text>
<text x="368.70" y="335.40" font-size="9.6" text-anchor="middle" font-weight="normal" fill="#111" stroke="#111" stroke-width="0.25" >SLC31A1</text>
<text x="404.90" y="335.40" font-size="9.6" text-anchor="middle" font-weight="normal" fill="#111" stroke="#111" stroke-width="0.25" >p53</text>
<text x="436.90" y="335.40" font-size="9.6" text-anchor="middle" font-weight="normal" fill="#111" stroke="#111" stroke-width="0.25" >DLAT</text>
<text x="468.80" y="335.40" font-size="9.6" text-anchor="middle" font-weight="normal" fill="#111" stroke="#111" stroke-width="0.25" >FDX1</text>
<text x="499.80" y="335.40" font-size="9.6" text-anchor="middle" font-weight="normal" fill="#111" stroke="#111" stroke-width="0.25" >LIAS</text>
<text x="532.90" y="335.40" font-size="9.6" text-anchor="middle" font-weight="normal" fill="#111" stroke="#111" stroke-width="0.25" >ATP7A</text>
<text x="570.20" y="335.40" font-size="9.6" text-anchor="middle" font-weight="normal" fill="#111" stroke="#111" stroke-width="0.25" >ATP7B</text>
<text x="325.00" y="347.40" font-size="9.6" text-anchor="middle" font-weight="normal" fill="#111" stroke="#111" stroke-width="0.25" >(35 kDa)</text>
<text x="369.70" y="347.40" font-size="9.6" text-anchor="middle" font-weight="normal" fill="#111" stroke="#111" stroke-width="0.25" >(28 kDa)</text>
<text x="0" y="0" font-size="9.5" text-anchor="middle" fill="#111" stroke="#111" stroke-width="0.25" transform="translate(300.61,277.45) rotate(-90)">Proteins/β-actin</text>
<path d="M328.70,271.20 C328.74,271.38 328.63,271.77 328.92,272.26 C329.21,272.75 330.19,273.46 330.46,274.17 C330.73,274.87 330.55,275.72 330.55,276.50 C330.55,277.28 330.73,278.13 330.46,278.83 C330.19,279.54 329.21,280.25 328.92,280.74 C328.63,281.23 328.74,281.62 328.70,281.80 C328.66,281.62 328.77,281.23 328.48,280.74 C328.19,280.25 327.21,279.54 326.94,278.83 C326.67,278.13 326.85,277.28 326.85,276.50 C326.85,275.72 326.67,274.87 326.94,274.17 C327.21,273.46 328.19,272.75 328.48,272.26 C328.77,271.77 328.66,271.38 328.70,271.20 Z" fill="#a3bde8" stroke="#5a84c8" stroke-width="0.8"/>
<circle cx="328.70" cy="276.50" r="1.2" fill="#5a84c8"/>
<path d="M335.40,252.40 C335.44,252.51 335.33,252.76 335.62,253.08 C335.91,253.40 336.89,253.85 337.16,254.30 C337.43,254.76 337.25,255.30 337.25,255.80 C337.25,256.30 337.43,256.84 337.16,257.30 C336.89,257.75 335.91,258.20 335.62,258.52 C335.33,258.84 335.44,259.09 335.40,259.20 C335.36,259.09 335.47,258.84 335.18,258.52 C334.89,258.20 333.91,257.75 333.64,257.30 C333.37,256.84 333.55,256.30 333.55,255.80 C333.55,255.30 333.37,254.76 333.64,254.30 C333.91,253.85 334.89,253.40 335.18,253.08 C335.47,252.76 335.36,252.51 335.40,252.40 Z" fill="#b8a8ea" stroke="#7d62cc" stroke-width="0.8"/>
<circle cx="335.40" cy="255.80" r="1.2" fill="#7d62cc"/>
<path d="M342.50,254.25 C342.54,254.38 342.43,254.65 342.72,255.00 C343.01,255.35 343.99,255.85 344.26,256.35 C344.53,256.85 344.35,257.45 344.35,258.00 C344.35,258.55 344.53,259.15 344.26,259.65 C343.99,260.15 343.01,260.65 342.72,261.00 C342.43,261.35 342.54,261.62 342.50,261.75 C342.46,261.62 342.57,261.35 342.28,261.00 C341.99,260.65 341.01,260.15 340.74,259.65 C340.47,259.15 340.65,258.55 340.65,258.00 C340.65,257.45 340.47,256.85 340.74,256.35 C341.01,255.85 341.99,255.35 342.28,255.00 C342.57,254.65 342.46,254.38 342.50,254.25 Z" fill="#edb0f5" stroke="#c455d6" stroke-width="0.8"/>
<circle cx="342.50" cy="258.00" r="1.2" fill="#c455d6"/>
<path d="M349.10,263.00 C349.14,263.11 349.03,263.36 349.32,263.68 C349.61,264.00 350.59,264.45 350.86,264.90 C351.13,265.36 350.95,265.90 350.95,266.40 C350.95,266.90 351.13,267.44 350.86,267.90 C350.59,268.35 349.61,268.80 349.32,269.12 C349.03,269.44 349.14,269.69 349.10,269.80 C349.06,269.69 349.17,269.44 348.88,269.12 C348.59,268.80 347.61,268.35 347.34,267.90 C347.07,267.44 347.25,266.90 347.25,266.40 C347.25,265.90 347.07,265.36 347.34,264.90 C347.61,264.45 348.59,264.00 348.88,263.68 C349.17,263.36 349.06,263.11 349.10,263.00 Z" fill="#c3e9a6" stroke="#7dbf52" stroke-width="0.8"/>
<circle cx="349.10" cy="266.40" r="1.2" fill="#7dbf52"/>
<path d="M360.20,274.70 C360.24,274.83 360.13,275.12 360.42,275.48 C360.71,275.84 361.69,276.36 361.96,276.88 C362.23,277.40 362.05,278.03 362.05,278.60 C362.05,279.17 362.23,279.80 361.96,280.32 C361.69,280.84 360.71,281.36 360.42,281.72 C360.13,282.08 360.24,282.37 360.20,282.50 C360.16,282.37 360.27,282.08 359.98,281.72 C359.69,281.36 358.71,280.84 358.44,280.32 C358.17,279.80 358.35,279.17 358.35,278.60 C358.35,278.03 358.17,277.40 358.44,276.88 C358.71,276.36 359.69,275.84 359.98,275.48 C360.27,275.12 360.16,274.83 360.20,274.70 Z" fill="#a3bde8" stroke="#5a84c8" stroke-width="0.8"/>
<circle cx="360.20" cy="278.60" r="1.2" fill="#5a84c8"/>
<path d="M367.10,246.75 C367.14,246.88 367.03,247.15 367.32,247.50 C367.61,247.85 368.59,248.35 368.86,248.85 C369.13,249.35 368.95,249.95 368.95,250.50 C368.95,251.05 369.13,251.65 368.86,252.15 C368.59,252.65 367.61,253.15 367.32,253.50 C367.03,253.85 367.14,254.12 367.10,254.25 C367.06,254.12 367.17,253.85 366.88,253.50 C366.59,253.15 365.61,252.65 365.34,252.15 C365.07,251.65 365.25,251.05 365.25,250.50 C365.25,249.95 365.07,249.35 365.34,248.85 C365.61,248.35 366.59,247.85 366.88,247.50 C367.17,247.15 367.06,246.88 367.10,246.75 Z" fill="#b8a8ea" stroke="#7d62cc" stroke-width="0.8"/>
<circle cx="367.10" cy="250.50" r="1.2" fill="#7d62cc"/>
<path d="M374.30,247.10 C374.34,247.21 374.23,247.46 374.52,247.78 C374.81,248.10 375.79,248.55 376.06,249.00 C376.33,249.46 376.15,250.00 376.15,250.50 C376.15,251.00 376.33,251.54 376.06,252.00 C375.79,252.45 374.81,252.90 374.52,253.22 C374.23,253.54 374.34,253.79 374.30,253.90 C374.26,253.79 374.37,253.54 374.08,253.22 C373.79,252.90 372.81,252.45 372.54,252.00 C372.27,251.54 372.45,251.00 372.45,250.50 C372.45,250.00 372.27,249.46 372.54,249.00 C372.81,248.55 373.79,248.10 374.08,247.78 C374.37,247.46 374.26,247.21 374.30,247.10 Z" fill="#edb0f5" stroke="#c455d6" stroke-width="0.8"/>
<circle cx="374.30" cy="250.50" r="1.2" fill="#c455d6"/>
<path d="M380.90,255.30 C380.94,255.41 380.83,255.66 381.12,255.98 C381.41,256.30 382.39,256.75 382.66,257.20 C382.93,257.66 382.75,258.20 382.75,258.70 C382.75,259.20 382.93,259.74 382.66,260.20 C382.39,260.65 381.41,261.10 381.12,261.42 C380.83,261.74 380.94,261.99 380.90,262.10 C380.86,261.99 380.97,261.74 380.68,261.42 C380.39,261.10 379.41,260.65 379.14,260.20 C378.87,259.74 379.05,259.20 379.05,258.70 C379.05,258.20 378.87,257.66 379.14,257.20 C379.41,256.75 380.39,256.30 380.68,255.98 C380.97,255.66 380.86,255.41 380.90,255.30 Z" fill="#c3e9a6" stroke="#7dbf52" stroke-width="0.8"/>
<circle cx="380.90" cy="258.70" r="1.2" fill="#7dbf52"/>
<path d="M391.50,277.00 C391.54,277.11 391.43,277.36 391.72,277.68 C392.01,278.00 392.99,278.45 393.26,278.90 C393.53,279.36 393.35,279.90 393.35,280.40 C393.35,280.90 393.53,281.44 393.26,281.90 C392.99,282.35 392.01,282.80 391.72,283.12 C391.43,283.44 391.54,283.69 391.50,283.80 C391.46,283.69 391.57,283.44 391.28,283.12 C390.99,282.80 390.01,282.35 389.74,281.90 C389.47,281.44 389.65,280.90 389.65,280.40 C389.65,279.90 389.47,279.36 389.74,278.90 C390.01,278.45 390.99,278.00 391.28,277.68 C391.57,277.36 391.46,277.11 391.50,277.00 Z" fill="#a3bde8" stroke="#5a84c8" stroke-width="0.8"/>
<circle cx="391.50" cy="280.40" r="1.2" fill="#5a84c8"/>
<path d="M398.60,243.90 C398.64,244.01 398.53,244.26 398.82,244.58 C399.11,244.90 400.09,245.35 400.36,245.80 C400.63,246.26 400.45,246.80 400.45,247.30 C400.45,247.80 400.63,248.34 400.36,248.80 C400.09,249.25 399.11,249.70 398.82,250.02 C398.53,250.34 398.64,250.59 398.60,250.70 C398.56,250.59 398.67,250.34 398.38,250.02 C398.09,249.70 397.11,249.25 396.84,248.80 C396.57,248.34 396.75,247.80 396.75,247.30 C396.75,246.80 396.57,246.26 396.84,245.80 C397.11,245.35 398.09,244.90 398.38,244.58 C398.67,244.26 398.56,244.01 398.60,243.90 Z" fill="#b8a8ea" stroke="#7d62cc" stroke-width="0.8"/>
<circle cx="398.60" cy="247.30" r="1.2" fill="#7d62cc"/>
<path d="M405.20,240.60 C405.24,240.76 405.13,241.12 405.42,241.58 C405.71,242.04 406.69,242.69 406.96,243.34 C407.23,244.00 407.05,244.78 407.05,245.50 C407.05,246.22 407.23,247.00 406.96,247.66 C406.69,248.31 405.71,248.96 405.42,249.42 C405.13,249.88 405.24,250.24 405.20,250.40 C405.16,250.24 405.27,249.88 404.98,249.42 C404.69,248.96 403.71,248.31 403.44,247.66 C403.17,247.00 403.35,246.22 403.35,245.50 C403.35,244.78 403.17,244.00 403.44,243.34 C403.71,242.69 404.69,242.04 404.98,241.58 C405.27,241.12 405.16,240.76 405.20,240.60 Z" fill="#edb0f5" stroke="#c455d6" stroke-width="0.8"/>
<circle cx="405.20" cy="245.50" r="1.2" fill="#c455d6"/>
<path d="M412.10,262.50 C412.14,262.61 412.03,262.86 412.32,263.18 C412.61,263.50 413.59,263.95 413.86,264.40 C414.13,264.86 413.95,265.40 413.95,265.90 C413.95,266.40 414.13,266.94 413.86,267.40 C413.59,267.85 412.61,268.30 412.32,268.62 C412.03,268.94 412.14,269.19 412.10,269.30 C412.06,269.19 412.17,268.94 411.88,268.62 C411.59,268.30 410.61,267.85 410.34,267.40 C410.07,266.94 410.25,266.40 410.25,265.90 C410.25,265.40 410.07,264.86 410.34,264.40 C410.61,263.95 411.59,263.50 411.88,263.18 C412.17,262.86 412.06,262.61 412.10,262.50 Z" fill="#c3e9a6" stroke="#7dbf52" stroke-width="0.8"/>
<circle cx="412.10" cy="265.90" r="1.2" fill="#7dbf52"/>
<path d="M423.20,293.70 C423.24,293.81 423.13,294.06 423.42,294.38 C423.71,294.70 424.69,295.15 424.96,295.60 C425.23,296.06 425.05,296.60 425.05,297.10 C425.05,297.60 425.23,298.14 424.96,298.60 C424.69,299.05 423.71,299.50 423.42,299.82 C423.13,300.14 423.24,300.39 423.20,300.50 C423.16,300.39 423.27,300.14 422.98,299.82 C422.69,299.50 421.71,299.05 421.44,298.60 C421.17,298.14 421.35,297.60 421.35,297.10 C421.35,296.60 421.17,296.06 421.44,295.60 C421.71,295.15 422.69,294.70 422.98,294.38 C423.27,294.06 423.16,293.81 423.20,293.70 Z" fill="#a3bde8" stroke="#5a84c8" stroke-width="0.8"/>
<circle cx="423.20" cy="297.10" r="1.2" fill="#5a84c8"/>
<path d="M430.60,309.90 C430.64,309.98 430.53,310.15 430.82,310.36 C431.11,310.57 432.09,310.88 432.36,311.19 C432.63,311.49 432.45,311.86 432.45,312.20 C432.45,312.54 432.63,312.91 432.36,313.21 C432.09,313.52 431.11,313.83 430.82,314.04 C430.53,314.25 430.64,314.42 430.60,314.50 C430.56,314.42 430.67,314.25 430.38,314.04 C430.09,313.83 429.11,313.52 428.84,313.21 C428.57,312.91 428.75,312.54 428.75,312.20 C428.75,311.86 428.57,311.49 428.84,311.19 C429.11,310.88 430.09,310.57 430.38,310.36 C430.67,310.15 430.56,309.98 430.60,309.90 Z" fill="#b8a8ea" stroke="#7d62cc" stroke-width="0.8"/>
<circle cx="430.60" cy="312.20" r="1.2" fill="#7d62cc"/>
<path d="M437.30,309.90 C437.34,309.98 437.23,310.15 437.52,310.36 C437.81,310.57 438.79,310.88 439.06,311.19 C439.33,311.49 439.15,311.86 439.15,312.20 C439.15,312.54 439.33,312.91 439.06,313.21 C438.79,313.52 437.81,313.83 437.52,314.04 C437.23,314.25 437.34,314.42 437.30,314.50 C437.26,314.42 437.37,314.25 437.08,314.04 C436.79,313.83 435.81,313.52 435.54,313.21 C435.27,312.91 435.45,312.54 435.45,312.20 C435.45,311.86 435.27,311.49 435.54,311.19 C435.81,310.88 436.79,310.57 437.08,310.36 C437.37,310.15 437.26,309.98 437.30,309.90 Z" fill="#edb0f5" stroke="#c455d6" stroke-width="0.8"/>
<circle cx="437.30" cy="312.20" r="1.2" fill="#c455d6"/>
<path d="M443.60,302.50 C443.64,302.58 443.53,302.77 443.82,303.00 C444.11,303.23 445.09,303.57 445.36,303.90 C445.63,304.23 445.45,304.63 445.45,305.00 C445.45,305.37 445.63,305.77 445.36,306.10 C445.09,306.43 444.11,306.77 443.82,307.00 C443.53,307.23 443.64,307.42 443.60,307.50 C443.56,307.42 443.67,307.23 443.38,307.00 C443.09,306.77 442.11,306.43 441.84,306.10 C441.57,305.77 441.75,305.37 441.75,305.00 C441.75,304.63 441.57,304.23 441.84,303.90 C442.11,303.57 443.09,303.23 443.38,303.00 C443.67,302.77 443.56,302.58 443.60,302.50 Z" fill="#c3e9a6" stroke="#7dbf52" stroke-width="0.8"/>
<circle cx="443.60" cy="305.00" r="1.2" fill="#7dbf52"/>
<path d="M455.20,282.70 C455.24,282.81 455.13,283.06 455.42,283.38 C455.71,283.70 456.69,284.15 456.96,284.60 C457.23,285.06 457.05,285.60 457.05,286.10 C457.05,286.60 457.23,287.14 456.96,287.60 C456.69,288.05 455.71,288.50 455.42,288.82 C455.13,289.14 455.24,289.39 455.20,289.50 C455.16,289.39 455.27,289.14 454.98,288.82 C454.69,288.50 453.71,288.05 453.44,287.60 C453.17,287.14 453.35,286.60 453.35,286.10 C453.35,285.60 453.17,285.06 453.44,284.60 C453.71,284.15 454.69,283.70 454.98,283.38 C455.27,283.06 455.16,282.81 455.20,282.70 Z" fill="#a3bde8" stroke="#5a84c8" stroke-width="0.8"/>
<circle cx="455.20" cy="286.10" r="1.2" fill="#5a84c8"/>
<path d="M462.20,304.30 C462.24,304.38 462.13,304.55 462.42,304.76 C462.71,304.97 463.69,305.28 463.96,305.59 C464.23,305.89 464.05,306.26 464.05,306.60 C464.05,306.94 464.23,307.31 463.96,307.61 C463.69,307.92 462.71,308.23 462.42,308.44 C462.13,308.65 462.24,308.82 462.20,308.90 C462.16,308.82 462.27,308.65 461.98,308.44 C461.69,308.23 460.71,307.92 460.44,307.61 C460.17,307.31 460.35,306.94 460.35,306.60 C460.35,306.26 460.17,305.89 460.44,305.59 C460.71,305.28 461.69,304.97 461.98,304.76 C462.27,304.55 462.16,304.38 462.20,304.30 Z" fill="#b8a8ea" stroke="#7d62cc" stroke-width="0.8"/>
<circle cx="462.20" cy="306.60" r="1.2" fill="#7d62cc"/>
<path d="M468.70,304.80 C468.74,304.88 468.63,305.05 468.92,305.26 C469.21,305.47 470.19,305.78 470.46,306.09 C470.73,306.39 470.55,306.76 470.55,307.10 C470.55,307.44 470.73,307.81 470.46,308.11 C470.19,308.42 469.21,308.73 468.92,308.94 C468.63,309.15 468.74,309.32 468.70,309.40 C468.66,309.32 468.77,309.15 468.48,308.94 C468.19,308.73 467.21,308.42 466.94,308.11 C466.67,307.81 466.85,307.44 466.85,307.10 C466.85,306.76 466.67,306.39 466.94,306.09 C467.21,305.78 468.19,305.47 468.48,305.26 C468.77,305.05 468.66,304.88 468.70,304.80 Z" fill="#edb0f5" stroke="#c455d6" stroke-width="0.8"/>
<circle cx="468.70" cy="307.10" r="1.2" fill="#c455d6"/>
<path d="M475.50,288.50 C475.54,288.61 475.43,288.86 475.72,289.18 C476.01,289.50 476.99,289.95 477.26,290.40 C477.53,290.86 477.35,291.40 477.35,291.90 C477.35,292.40 477.53,292.94 477.26,293.40 C476.99,293.85 476.01,294.30 475.72,294.62 C475.43,294.94 475.54,295.19 475.50,295.30 C475.46,295.19 475.57,294.94 475.28,294.62 C474.99,294.30 474.01,293.85 473.74,293.40 C473.47,292.94 473.65,292.40 473.65,291.90 C473.65,291.40 473.47,290.86 473.74,290.40 C474.01,289.95 474.99,289.50 475.28,289.18 C475.57,288.86 475.46,288.61 475.50,288.50 Z" fill="#c3e9a6" stroke="#7dbf52" stroke-width="0.8"/>
<circle cx="475.50" cy="291.90" r="1.2" fill="#7dbf52"/>
<path d="M486.70,285.50 C486.74,285.61 486.63,285.86 486.92,286.18 C487.21,286.50 488.19,286.95 488.46,287.40 C488.73,287.86 488.55,288.40 488.55,288.90 C488.55,289.40 488.73,289.94 488.46,290.40 C488.19,290.85 487.21,291.30 486.92,291.62 C486.63,291.94 486.74,292.19 486.70,292.30 C486.66,292.19 486.77,291.94 486.48,291.62 C486.19,291.30 485.21,290.85 484.94,290.40 C484.67,289.94 484.85,289.40 484.85,288.90 C484.85,288.40 484.67,287.86 484.94,287.40 C485.21,286.95 486.19,286.50 486.48,286.18 C486.77,285.86 486.66,285.61 486.70,285.50 Z" fill="#a3bde8" stroke="#5a84c8" stroke-width="0.8"/>
<circle cx="486.70" cy="288.90" r="1.2" fill="#5a84c8"/>
<path d="M493.70,305.60 C493.74,305.71 493.63,305.96 493.92,306.28 C494.21,306.60 495.19,307.05 495.46,307.50 C495.73,307.96 495.55,308.50 495.55,309.00 C495.55,309.50 495.73,310.04 495.46,310.50 C495.19,310.95 494.21,311.40 493.92,311.72 C493.63,312.04 493.74,312.29 493.70,312.40 C493.66,312.29 493.77,312.04 493.48,311.72 C493.19,311.40 492.21,310.95 491.94,310.50 C491.67,310.04 491.85,309.50 491.85,309.00 C491.85,308.50 491.67,307.96 491.94,307.50 C492.21,307.05 493.19,306.60 493.48,306.28 C493.77,305.96 493.66,305.71 493.70,305.60 Z" fill="#b8a8ea" stroke="#7d62cc" stroke-width="0.8"/>
<circle cx="493.70" cy="309.00" r="1.2" fill="#7d62cc"/>
<path d="M500.30,306.00 C500.34,306.08 500.23,306.25 500.52,306.46 C500.81,306.67 501.79,306.98 502.06,307.29 C502.33,307.59 502.15,307.96 502.15,308.30 C502.15,308.64 502.33,309.01 502.06,309.31 C501.79,309.62 500.81,309.93 500.52,310.14 C500.23,310.35 500.34,310.52 500.30,310.60 C500.26,310.52 500.37,310.35 500.08,310.14 C499.79,309.93 498.81,309.62 498.54,309.31 C498.27,309.01 498.45,308.64 498.45,308.30 C498.45,307.96 498.27,307.59 498.54,307.29 C498.81,306.98 499.79,306.67 500.08,306.46 C500.37,306.25 500.26,306.08 500.30,306.00 Z" fill="#edb0f5" stroke="#c455d6" stroke-width="0.8"/>
<circle cx="500.30" cy="308.30" r="1.2" fill="#c455d6"/>
<path d="M507.30,292.70 C507.34,292.81 507.23,293.06 507.52,293.38 C507.81,293.70 508.79,294.15 509.06,294.60 C509.33,295.06 509.15,295.60 509.15,296.10 C509.15,296.60 509.33,297.14 509.06,297.60 C508.79,298.05 507.81,298.50 507.52,298.82 C507.23,299.14 507.34,299.39 507.30,299.50 C507.26,299.39 507.37,299.14 507.08,298.82 C506.79,298.50 505.81,298.05 505.54,297.60 C505.27,297.14 505.45,296.60 505.45,296.10 C505.45,295.60 505.27,295.06 505.54,294.60 C505.81,294.15 506.79,293.70 507.08,293.38 C507.37,293.06 507.26,292.81 507.30,292.70 Z" fill="#c3e9a6" stroke="#7dbf52" stroke-width="0.8"/>
<circle cx="507.30" cy="296.10" r="1.2" fill="#7dbf52"/>
<path d="M518.30,295.50 C518.34,295.61 518.23,295.86 518.52,296.18 C518.81,296.50 519.79,296.95 520.06,297.40 C520.33,297.86 520.15,298.40 520.15,298.90 C520.15,299.40 520.33,299.94 520.06,300.40 C519.79,300.85 518.81,301.30 518.52,301.62 C518.23,301.94 518.34,302.19 518.30,302.30 C518.26,302.19 518.37,301.94 518.08,301.62 C517.79,301.30 516.81,300.85 516.54,300.40 C516.27,299.94 516.45,299.40 516.45,298.90 C516.45,298.40 516.27,297.86 516.54,297.40 C516.81,296.95 517.79,296.50 518.08,296.18 C518.37,295.86 518.26,295.61 518.30,295.50 Z" fill="#a3bde8" stroke="#5a84c8" stroke-width="0.8"/>
<circle cx="518.30" cy="298.90" r="1.2" fill="#5a84c8"/>
<path d="M525.30,308.20 C525.34,308.28 525.23,308.46 525.52,308.68 C525.81,308.90 526.79,309.22 527.06,309.54 C527.33,309.86 527.15,310.25 527.15,310.60 C527.15,310.95 527.33,311.34 527.06,311.66 C526.79,311.98 525.81,312.30 525.52,312.52 C525.23,312.74 525.34,312.92 525.30,313.00 C525.26,312.92 525.37,312.74 525.08,312.52 C524.79,312.30 523.81,311.98 523.54,311.66 C523.27,311.34 523.45,310.95 523.45,310.60 C523.45,310.25 523.27,309.86 523.54,309.54 C523.81,309.22 524.79,308.90 525.08,308.68 C525.37,308.46 525.26,308.28 525.30,308.20 Z" fill="#b8a8ea" stroke="#7d62cc" stroke-width="0.8"/>
<circle cx="525.30" cy="310.60" r="1.2" fill="#7d62cc"/>
<path d="M532.30,310.00 C532.34,310.08 532.23,310.27 532.52,310.50 C532.81,310.73 533.79,311.07 534.06,311.40 C534.33,311.73 534.15,312.13 534.15,312.50 C534.15,312.87 534.33,313.27 534.06,313.60 C533.79,313.93 532.81,314.27 532.52,314.50 C532.23,314.73 532.34,314.92 532.30,315.00 C532.26,314.92 532.37,314.73 532.08,314.50 C531.79,314.27 530.81,313.93 530.54,313.60 C530.27,313.27 530.45,312.87 530.45,312.50 C530.45,312.13 530.27,311.73 530.54,311.40 C530.81,311.07 531.79,310.73 532.08,310.50 C532.37,310.27 532.26,310.08 532.30,310.00 Z" fill="#edb0f5" stroke="#c455d6" stroke-width="0.8"/>
<circle cx="532.30" cy="312.50" r="1.2" fill="#c455d6"/>
<path d="M538.80,304.30 C538.84,304.38 538.73,304.55 539.02,304.76 C539.31,304.97 540.29,305.28 540.56,305.59 C540.83,305.89 540.65,306.26 540.65,306.60 C540.65,306.94 540.83,307.31 540.56,307.61 C540.29,307.92 539.31,308.23 539.02,308.44 C538.73,308.65 538.84,308.82 538.80,308.90 C538.76,308.82 538.87,308.65 538.58,308.44 C538.29,308.23 537.31,307.92 537.04,307.61 C536.77,307.31 536.95,306.94 536.95,306.60 C536.95,306.26 536.77,305.89 537.04,305.59 C537.31,305.28 538.29,304.97 538.58,304.76 C538.87,304.55 538.76,304.38 538.80,304.30 Z" fill="#c3e9a6" stroke="#7dbf52" stroke-width="0.8"/>
<circle cx="538.80" cy="306.60" r="1.2" fill="#7dbf52"/>
<path d="M549.80,296.70 C549.84,296.81 549.73,297.06 550.02,297.38 C550.31,297.70 551.29,298.15 551.56,298.60 C551.83,299.06 551.65,299.60 551.65,300.10 C551.65,300.60 551.83,301.14 551.56,301.60 C551.29,302.05 550.31,302.50 550.02,302.82 C549.73,303.14 549.84,303.39 549.80,303.50 C549.76,303.39 549.87,303.14 549.58,302.82 C549.29,302.50 548.31,302.05 548.04,301.60 C547.77,301.14 547.95,300.60 547.95,300.10 C547.95,299.60 547.77,299.06 548.04,298.60 C548.31,298.15 549.29,297.70 549.58,297.38 C549.87,297.06 549.76,296.81 549.80,296.70 Z" fill="#a3bde8" stroke="#5a84c8" stroke-width="0.8"/>
<circle cx="549.80" cy="300.10" r="1.2" fill="#5a84c8"/>
<path d="M556.80,311.80 C556.84,311.88 556.73,312.05 557.02,312.26 C557.31,312.47 558.29,312.78 558.56,313.09 C558.83,313.39 558.65,313.76 558.65,314.10 C558.65,314.44 558.83,314.81 558.56,315.11 C558.29,315.42 557.31,315.73 557.02,315.94 C556.73,316.15 556.84,316.32 556.80,316.40 C556.76,316.32 556.87,316.15 556.58,315.94 C556.29,315.73 555.31,315.42 555.04,315.11 C554.77,314.81 554.95,314.44 554.95,314.10 C554.95,313.76 554.77,313.39 555.04,313.09 C555.31,312.78 556.29,312.47 556.58,312.26 C556.87,312.05 556.76,311.88 556.80,311.80 Z" fill="#b8a8ea" stroke="#7d62cc" stroke-width="0.8"/>
<circle cx="556.80" cy="314.10" r="1.2" fill="#7d62cc"/>
<path d="M563.30,311.80 C563.34,311.88 563.23,312.05 563.52,312.26 C563.81,312.47 564.79,312.78 565.06,313.09 C565.33,313.39 565.15,313.76 565.15,314.10 C565.15,314.44 565.33,314.81 565.06,315.11 C564.79,315.42 563.81,315.73 563.52,315.94 C563.23,316.15 563.34,316.32 563.30,316.40 C563.26,316.32 563.37,316.15 563.08,315.94 C562.79,315.73 561.81,315.42 561.54,315.11 C561.27,314.81 561.45,314.44 561.45,314.10 C561.45,313.76 561.27,313.39 561.54,313.09 C561.81,312.78 562.79,312.47 563.08,312.26 C563.37,312.05 563.26,311.88 563.30,311.80 Z" fill="#edb0f5" stroke="#c455d6" stroke-width="0.8"/>
<circle cx="563.30" cy="314.10" r="1.2" fill="#c455d6"/>
<path d="M570.30,302.40 C570.34,302.48 570.23,302.65 570.52,302.86 C570.81,303.07 571.79,303.38 572.06,303.69 C572.33,303.99 572.15,304.36 572.15,304.70 C572.15,305.04 572.33,305.41 572.06,305.71 C571.79,306.02 570.81,306.33 570.52,306.54 C570.23,306.75 570.34,306.92 570.30,307.00 C570.26,306.92 570.37,306.75 570.08,306.54 C569.79,306.33 568.81,306.02 568.54,305.71 C568.27,305.41 568.45,305.04 568.45,304.70 C568.45,304.36 568.27,303.99 568.54,303.69 C568.81,303.38 569.79,303.07 570.08,302.86 C570.37,302.65 570.26,302.48 570.30,302.40 Z" fill="#c3e9a6" stroke="#7dbf52" stroke-width="0.8"/>
<circle cx="570.30" cy="304.70" r="1.2" fill="#7dbf52"/>
<line x1="329.30" y1="245.50" x2="338.50" y2="245.50" stroke="#333" stroke-width="1"/>
<text x="335.90" y="241.12" font-size="6.2" text-anchor="middle" fill="#222" stroke="#222" stroke-width="0.12"><tspan font-style="italic">p</tspan>&lt;0.001</text>
<line x1="341.20" y1="231.50" x2="351.80" y2="231.50" stroke="#333" stroke-width="1"/>
<text x="350.40" y="228.42" font-size="6.2" text-anchor="middle" fill="#222" stroke="#222" stroke-width="0.12"><tspan font-style="italic">p</tspan>=0.0302</text>
<line x1="359.70" y1="240.70" x2="367.60" y2="240.70" stroke="#333" stroke-width="1"/>
<text x="362.90" y="240.52" font-size="6.2" text-anchor="middle" fill="#222" stroke="#222" stroke-width="0.12"><tspan font-style="italic">p</tspan>&lt;0.001</text>
<line x1="372.90" y1="231.50" x2="380.90" y2="231.50" stroke="#333" stroke-width="1"/>
<text x="383.50" y="228.42" font-size="6.2" text-anchor="middle" fill="#222" stroke="#222" stroke-width="0.12"><tspan font-style="italic">p</tspan>=0.0089</text>
<line x1="391.50" y1="240.70" x2="400.70" y2="240.70" stroke="#333" stroke-width="1"/>
<text x="390.90" y="241.12" font-size="6.2" text-anchor="middle" fill="#222" stroke="#222" stroke-width="0.12"><tspan font-style="italic">p</tspan>&lt;0.001</text>
<line x1="406.00" y1="238.10" x2="414.80" y2="238.10" stroke="#333" stroke-width="1"/>
<text x="412.10" y="233.72" font-size="6.2" text-anchor="middle" fill="#222" stroke="#222" stroke-width="0.12"><tspan font-style="italic">p</tspan>&lt;0.001</text>
<line x1="424.60" y1="290.20" x2="433.80" y2="290.20" stroke="#333" stroke-width="1"/>
<text x="429.00" y="286.62" font-size="6.2" text-anchor="middle" fill="#222" stroke="#222" stroke-width="0.12"><tspan font-style="italic">p</tspan>&lt;0.001</text>
<line x1="434.30" y1="299.00" x2="443.90" y2="299.00" stroke="#333" stroke-width="1"/>
<text x="443.90" y="297.22" font-size="6.2" text-anchor="middle" fill="#222" stroke="#222" stroke-width="0.12"><tspan font-style="italic">p</tspan>=0.0021</text>
<line x1="456.80" y1="276.30" x2="465.20" y2="276.30" stroke="#333" stroke-width="1"/>
<text x="462.70" y="271.92" font-size="6.2" text-anchor="middle" fill="#222" stroke="#222" stroke-width="0.12"><tspan font-style="italic">p</tspan>&lt;0.001</text>
<line x1="469.20" y1="284.20" x2="477.80" y2="284.20" stroke="#333" stroke-width="1"/>
<text x="475.00" y="281.22" font-size="6.2" text-anchor="middle" fill="#222" stroke="#222" stroke-width="0.12"><tspan font-style="italic">p</tspan>&lt;0.001</text>
<line x1="483.90" y1="274.40" x2="493.30" y2="274.40" stroke="#333" stroke-width="1"/>
<text x="493.30" y="271.92" font-size="6.2" text-anchor="middle" fill="#222" stroke="#222" stroke-width="0.12"><tspan font-style="italic">p</tspan>&lt;0.001</text>
<line x1="499.60" y1="286.80" x2="508.20" y2="286.80" stroke="#333" stroke-width="1"/>
<text x="505.40" y="284.12" font-size="6.2" text-anchor="middle" fill="#222" stroke="#222" stroke-width="0.12"><tspan font-style="italic">p</tspan>&lt;0.001</text>
<line x1="519.40" y1="293.10" x2="528.30" y2="293.10" stroke="#333" stroke-width="1"/>
<text x="525.30" y="290.12" font-size="6.2" text-anchor="middle" fill="#222" stroke="#222" stroke-width="0.12"><tspan font-style="italic">p</tspan>&lt;0.001</text>
<line x1="533.40" y1="282.10" x2="542.10" y2="282.10" stroke="#333" stroke-width="1"/>
<text x="539.30" y="280.32" font-size="6.2" text-anchor="middle" fill="#222" stroke="#222" stroke-width="0.12"><tspan font-style="italic">p</tspan>=0.0032</text>
<line x1="550.30" y1="291.40" x2="559.10" y2="291.40" stroke="#333" stroke-width="1"/>
<text x="556.30" y="288.72" font-size="6.2" text-anchor="middle" fill="#222" stroke="#222" stroke-width="0.12"><tspan font-style="italic">p</tspan>&lt;0.001</text>
<line x1="562.60" y1="297.70" x2="571.50" y2="297.70" stroke="#333" stroke-width="1"/>
<text x="574.30" y="294.82" font-size="6.2" text-anchor="middle" fill="#222" stroke="#222" stroke-width="0.12"><tspan font-style="italic">p</tspan>&lt;0.001</text>
<text x="518.51" y="181.10" font-size="22.2" text-anchor="start" font-weight="bold" fill="#000" >F</text>
<rect x="551.60" y="176.65" width="8.70" height="3.70" fill="#c3d4ef" stroke="#5a84c8" stroke-width="0.8"/>
<text x="562.96" y="181.50" font-size="9.2" text-anchor="start" font-weight="normal" fill="#111" stroke="#111" stroke-width="0.25" >ES+PA+sh-NC</text>
<rect x="551.60" y="187.80" width="8.70" height="3.70" fill="#cabdf0" stroke="#7d62cc" stroke-width="0.8"/>
<text x="562.96" y="192.15" font-size="9.2" text-anchor="start" font-weight="normal" fill="#111" stroke="#111" stroke-width="0.25" >ES+PA+sh-TDRD9</text>
<rect x="551.60" y="199.60" width="8.70" height="3.70" fill="#f1c6f6" stroke="#c455d6" stroke-width="0.8"/>
<text x="562.96" y="202.80" font-size="9.2" text-anchor="start" font-weight="normal" fill="#111" stroke="#111" stroke-width="0.25" >ES+PA+sh-TDRD9+oe-NC</text>
<rect x="551.60" y="210.95" width="8.70" height="3.70" fill="#d6efc6" stroke="#7dbf52" stroke-width="0.8"/>
<text x="562.96" y="215.65" font-size="9.2" text-anchor="start" font-weight="normal" fill="#111" stroke="#111" stroke-width="0.25" >ES+PA+sh-TDRD9+oe-PD-L1</text>
<line x1="621.50" y1="242.00" x2="621.50" y2="322.80" stroke="#222" stroke-width="1.1"/>
<line x1="618.00" y1="242.50" x2="621.50" y2="242.50" stroke="#222" stroke-width="1"/>
<text x="617.65" y="245.00" font-size="8.95" text-anchor="end" font-weight="normal" fill="#111" stroke="#111" stroke-width="0.25" >600</text>
<line x1="618.00" y1="269.50" x2="621.50" y2="269.50" stroke="#222" stroke-width="1"/>
<text x="617.65" y="272.00" font-size="8.95" text-anchor="end" font-weight="normal" fill="#111" stroke="#111" stroke-width="0.25" >400</text>
<line x1="618.00" y1="296.50" x2="621.50" y2="296.50" stroke="#222" stroke-width="1"/>
<text x="617.65" y="299.00" font-size="8.95" text-anchor="end" font-weight="normal" fill="#111" stroke="#111" stroke-width="0.25" >200</text>
<line x1="618.00" y1="322.80" x2="621.50" y2="322.80" stroke="#222" stroke-width="1"/>
<text x="617.65" y="325.30" font-size="8.95" text-anchor="end" font-weight="normal" fill="#111" stroke="#111" stroke-width="0.25" >0</text>
<line x1="621.50" y1="322.80" x2="676.00" y2="322.80" stroke="#222" stroke-width="1.1"/>
<line x1="630.10" y1="322.80" x2="630.10" y2="325.80" stroke="#222" stroke-width="1"/>
<line x1="642.50" y1="322.80" x2="642.50" y2="325.80" stroke="#222" stroke-width="1"/>
<line x1="655.10" y1="322.80" x2="655.10" y2="325.80" stroke="#222" stroke-width="1"/>
<line x1="666.20" y1="322.80" x2="666.20" y2="325.80" stroke="#222" stroke-width="1"/>
<path d="M630.10,284.90 C630.16,285.26 630.05,286.24 630.46,287.07 C630.86,287.90 632.28,288.98 632.51,289.86 C632.75,290.74 631.69,291.44 631.88,292.34 C632.06,293.24 633.89,294.30 633.65,295.28 C633.41,296.27 631.05,297.38 630.46,298.23 C629.86,299.08 630.16,300.04 630.10,300.40 C630.04,300.04 630.34,299.08 629.75,298.23 C629.15,297.38 626.79,296.27 626.55,295.28 C626.31,294.30 628.14,293.24 628.33,292.34 C628.51,291.44 627.45,290.74 627.69,289.86 C627.92,288.98 629.34,287.90 629.75,287.07 C630.15,286.24 630.04,285.26 630.10,284.90 Z" fill="#a3bde8" stroke="#5a84c8" stroke-width="0.8"/>
<line x1="630.10" y1="284.90" x2="630.10" y2="286.76" stroke="#5a84c8" stroke-width="0.5"/>
<line x1="630.10" y1="298.54" x2="630.10" y2="300.40" stroke="#5a84c8" stroke-width="0.5"/>
<line x1="628.15" y1="290.32" x2="632.05" y2="290.32" stroke="#ffffff" stroke-width="0.45"/>
<line x1="628.15" y1="292.65" x2="632.05" y2="292.65" stroke="#ffffff" stroke-width="0.45"/>
<line x1="628.15" y1="294.97" x2="632.05" y2="294.97" stroke="#ffffff" stroke-width="0.45"/>
<circle cx="630.10" cy="290.01" r="1.20" fill="#5a84c8"/>
<circle cx="630.10" cy="292.65" r="1.20" fill="#5a84c8"/>
<circle cx="630.10" cy="295.44" r="1.20" fill="#5a84c8"/>
<path d="M642.50,255.80 C642.56,256.30 642.26,257.56 642.87,258.82 C643.47,260.08 645.77,261.76 646.15,263.36 C646.53,264.96 645.22,266.72 645.13,268.40 C645.04,270.08 645.98,271.84 645.60,273.44 C645.23,275.04 643.38,276.72 642.87,277.98 C642.35,279.24 642.56,280.50 642.50,281.00 C642.44,280.50 642.65,279.24 642.13,277.98 C641.62,276.72 639.77,275.04 639.40,273.44 C639.02,271.84 639.96,270.08 639.87,268.40 C639.78,266.72 638.47,264.96 638.85,263.36 C639.23,261.76 641.53,260.08 642.13,258.82 C642.74,257.56 642.44,256.30 642.50,255.80 Z" fill="#b8a8ea" stroke="#7d62cc" stroke-width="0.8"/>
<line x1="642.50" y1="255.80" x2="642.50" y2="258.82" stroke="#7d62cc" stroke-width="0.5"/>
<line x1="642.50" y1="277.98" x2="642.50" y2="281.00" stroke="#7d62cc" stroke-width="0.5"/>
<line x1="640.49" y1="264.62" x2="644.51" y2="264.62" stroke="#ffffff" stroke-width="0.45"/>
<line x1="640.49" y1="268.40" x2="644.51" y2="268.40" stroke="#ffffff" stroke-width="0.45"/>
<line x1="640.49" y1="272.18" x2="644.51" y2="272.18" stroke="#ffffff" stroke-width="0.45"/>
<circle cx="642.50" cy="264.12" r="1.23" fill="#7d62cc"/>
<circle cx="642.50" cy="268.40" r="1.23" fill="#7d62cc"/>
<circle cx="642.50" cy="272.94" r="1.23" fill="#7d62cc"/>
<path d="M655.10,256.10 C655.16,256.67 654.90,258.20 655.48,259.51 C656.05,260.82 657.99,262.34 658.55,263.96 C659.11,265.58 658.85,267.45 658.85,269.20 C658.85,270.95 659.10,272.82 658.55,274.44 C658.00,276.06 656.13,277.58 655.55,278.89 C654.98,280.20 655.18,281.73 655.10,282.30 C655.02,281.73 655.23,280.20 654.65,278.89 C654.07,277.58 652.20,276.06 651.65,274.44 C651.10,272.82 651.35,270.95 651.35,269.20 C651.35,267.45 651.09,265.58 651.65,263.96 C652.21,262.34 654.15,260.82 654.73,259.51 C655.30,258.20 655.04,256.67 655.10,256.10 Z" fill="#edb0f5" stroke="#c455d6" stroke-width="0.8"/>
<line x1="655.10" y1="256.10" x2="655.10" y2="259.24" stroke="#c455d6" stroke-width="0.5"/>
<line x1="655.10" y1="279.16" x2="655.10" y2="282.30" stroke="#c455d6" stroke-width="0.5"/>
<line x1="653.04" y1="265.27" x2="657.16" y2="265.27" stroke="#ffffff" stroke-width="0.45"/>
<line x1="653.04" y1="269.20" x2="657.16" y2="269.20" stroke="#ffffff" stroke-width="0.45"/>
<line x1="653.04" y1="273.13" x2="657.16" y2="273.13" stroke="#ffffff" stroke-width="0.45"/>
<circle cx="655.10" cy="264.75" r="1.26" fill="#c455d6"/>
<circle cx="655.10" cy="269.20" r="1.26" fill="#c455d6"/>
<circle cx="655.10" cy="273.92" r="1.26" fill="#c455d6"/>
<path d="M666.20,273.30 C666.26,273.61 666.15,274.46 666.56,275.18 C666.96,275.89 668.38,276.83 668.61,277.59 C668.85,278.35 667.79,278.95 667.98,279.73 C668.16,280.51 669.99,281.43 669.75,282.28 C669.51,283.13 667.15,284.09 666.56,284.82 C665.96,285.56 666.26,286.39 666.20,286.70 C666.14,286.39 666.44,285.56 665.85,284.82 C665.25,284.09 662.89,283.13 662.65,282.28 C662.41,281.43 664.24,280.51 664.43,279.73 C664.61,278.95 663.55,278.35 663.79,277.59 C664.02,276.83 665.44,275.89 665.85,275.18 C666.25,274.46 666.14,273.61 666.20,273.30 Z" fill="#c3e9a6" stroke="#7dbf52" stroke-width="0.8"/>
<line x1="666.20" y1="273.30" x2="666.20" y2="274.91" stroke="#7dbf52" stroke-width="0.5"/>
<line x1="666.20" y1="285.09" x2="666.20" y2="286.70" stroke="#7dbf52" stroke-width="0.5"/>
<line x1="664.25" y1="277.99" x2="668.15" y2="277.99" stroke="#ffffff" stroke-width="0.45"/>
<line x1="664.25" y1="280.00" x2="668.15" y2="280.00" stroke="#ffffff" stroke-width="0.45"/>
<line x1="664.25" y1="282.01" x2="668.15" y2="282.01" stroke="#ffffff" stroke-width="0.45"/>
<circle cx="666.20" cy="277.72" r="1.20" fill="#7dbf52"/>
<circle cx="666.20" cy="280.00" r="1.20" fill="#7dbf52"/>
<circle cx="666.20" cy="282.41" r="1.20" fill="#7dbf52"/>
<line x1="629.60" y1="241.90" x2="643.00" y2="241.90" stroke="#333" stroke-width="1"/>
<text x="634.00" y="238.72" font-size="6.2" text-anchor="middle" fill="#222" stroke="#222" stroke-width="0.12"><tspan font-style="italic">p</tspan>&lt;0.001</text>
<line x1="653.30" y1="247.00" x2="668.00" y2="247.00" stroke="#333" stroke-width="1"/>
<text x="660.30" y="245.12" font-size="6.2" text-anchor="middle" fill="#222" stroke="#222" stroke-width="0.12"><tspan font-style="italic">p</tspan>=0.0473</text>
<text x="0" y="0" font-size="10" text-anchor="middle" fill="#111" stroke="#111" stroke-width="0.25" transform="translate(595.80,280.70) rotate(-90)">p53 (pg/mgpror)</text>
<text x="0.59" y="368.00" font-size="22.2" text-anchor="start" font-weight="bold" fill="#000" >G</text>
<text x="66.30" y="357.89" font-size="9.3" text-anchor="middle" font-weight="normal" fill="#111" stroke="#111" stroke-width="0.25" >ES+PA</text>
<line x1="24.90" y1="361.90" x2="106.80" y2="361.90" stroke="#222" stroke-width="1"/>
<text x="43.70" y="373.89" font-size="9.3" text-anchor="end" font-weight="normal" fill="#111" stroke="#111" stroke-width="0.25" >oe-NC</text>
<text x="38.50" y="383.69" font-size="9.3" text-anchor="end" font-weight="normal" fill="#111" stroke="#111" stroke-width="0.25" >oe-PD-L1</text>
<text x="43.00" y="394.99" font-size="9.3" text-anchor="end" font-weight="normal" fill="#111" stroke="#111" stroke-width="0.25" >sh-NC</text>
<text x="39.80" y="408.59" font-size="9.3" text-anchor="end" font-weight="normal" fill="#111" stroke="#111" stroke-width="0.25" >sh-CD80</text>
<text x="53.80" y="373.15" font-size="9.3" text-anchor="middle" font-weight="normal" fill="#111" stroke="#111" stroke-width="0.25" >+</text>
<text x="68.30" y="373.28" font-size="9.3" text-anchor="middle" font-weight="normal" fill="#111" stroke="#111" stroke-width="0.25" >-</text>
<text x="84.30" y="373.28" font-size="9.3" text-anchor="middle" font-weight="normal" fill="#111" stroke="#111" stroke-width="0.25" >-</text>
<text x="99.90" y="373.28" font-size="9.3" text-anchor="middle" font-weight="normal" fill="#111" stroke="#111" stroke-width="0.25" >-</text>
<text x="53.80" y="381.78" font-size="9.3" text-anchor="middle" font-weight="normal" fill="#111" stroke="#111" stroke-width="0.25" >-</text>
<text x="68.30" y="384.36" font-size="9.3" text-anchor="middle" font-weight="normal" fill="#111" stroke="#111" stroke-width="0.25" >+</text>
<text x="84.30" y="385.95" font-size="9.3" text-anchor="middle" font-weight="normal" fill="#111" stroke="#111" stroke-width="0.25" >+</text>
<text x="99.90" y="385.95" font-size="9.3" text-anchor="middle" font-weight="normal" fill="#111" stroke="#111" stroke-width="0.25" >+</text>
<text x="53.80" y="393.38" font-size="9.3" text-anchor="middle" font-weight="normal" fill="#111" stroke="#111" stroke-width="0.25" >-</text>
<text x="68.30" y="394.18" font-size="9.3" text-anchor="middle" font-weight="normal" fill="#111" stroke="#111" stroke-width="0.25" >-</text>
<text x="84.30" y="396.45" font-size="9.3" text-anchor="middle" font-weight="normal" fill="#111" stroke="#111" stroke-width="0.25" >+</text>
<text x="99.90" y="395.48" font-size="9.3" text-anchor="middle" font-weight="normal" fill="#111" stroke="#111" stroke-width="0.25" >-</text>
<text x="53.80" y="405.38" font-size="9.3" text-anchor="middle" font-weight="normal" fill="#111" stroke="#111" stroke-width="0.25" >-</text>
<text x="68.30" y="406.18" font-size="9.3" text-anchor="middle" font-weight="normal" fill="#111" stroke="#111" stroke-width="0.25" >-</text>
<text x="84.30" y="406.18" font-size="9.3" text-anchor="middle" font-weight="normal" fill="#111" stroke="#111" stroke-width="0.25" >-</text>
<text x="99.90" y="405.25" font-size="9.3" text-anchor="middle" font-weight="normal" fill="#111" stroke="#111" stroke-width="0.25" >+</text>
<rect x="44.00" y="412.00" width="65.50" height="11.80" fill="#7d7d7d"/>
<rect x="47.85" y="417.10" width="10.50" height="2.40" rx="1.20" fill="#050505" fill-opacity="0.95" filter="url(#bl)"/>
<rect x="63.65" y="417.10" width="10.50" height="2.40" rx="1.20" fill="#050505" fill-opacity="0.95" filter="url(#bl)"/>
<rect x="79.25" y="417.10" width="10.50" height="2.40" rx="1.20" fill="#050505" fill-opacity="0.95" filter="url(#bl)"/>
<rect x="94.55" y="417.10" width="10.50" height="2.40" rx="1.20" fill="#050505" fill-opacity="0.95" filter="url(#bl)"/>
<rect x="44.00" y="427.20" width="65.50" height="12.30" fill="#7d7d7d"/>
<rect x="47.85" y="432.60" width="10.50" height="2.40" rx="1.20" fill="#050505" fill-opacity="0.95" filter="url(#bl)"/>
<rect x="63.65" y="432.60" width="10.50" height="2.40" rx="1.20" fill="#050505" fill-opacity="0.95" filter="url(#bl)"/>
<rect x="79.25" y="432.60" width="10.50" height="2.40" rx="1.20" fill="#050505" fill-opacity="0.95" filter="url(#bl)"/>
<rect x="94.55" y="432.60" width="10.50" height="2.40" rx="1.20" fill="#050505" fill-opacity="0.95" filter="url(#bl)"/>
<rect x="44.00" y="442.70" width="65.50" height="11.10" fill="#7d7d7d"/>
<rect x="47.85" y="446.90" width="10.50" height="2.40" rx="1.20" fill="#050505" fill-opacity="0.95" filter="url(#bl)"/>
<rect x="63.65" y="446.90" width="10.50" height="2.40" rx="1.20" fill="#050505" fill-opacity="0.95" filter="url(#bl)"/>
<rect x="79.25" y="446.90" width="10.50" height="2.40" rx="1.20" fill="#050505" fill-opacity="0.95" filter="url(#bl)"/>
<rect x="94.55" y="446.90" width="10.50" height="2.40" rx="1.20" fill="#050505" fill-opacity="0.95" filter="url(#bl)"/>
<rect x="44.00" y="457.00" width="65.50" height="11.70" fill="#7d7d7d"/>
<rect x="47.85" y="461.55" width="10.50" height="2.90" rx="1.45" fill="#050505" fill-opacity="1.00" filter="url(#bl)"/>
<rect x="63.65" y="461.55" width="10.50" height="2.90" rx="1.45" fill="#050505" fill-opacity="1.00" filter="url(#bl)"/>
<rect x="79.25" y="461.55" width="10.50" height="2.90" rx="1.45" fill="#050505" fill-opacity="1.00" filter="url(#bl)"/>
<rect x="94.55" y="461.55" width="10.50" height="2.90" rx="1.45" fill="#050505" fill-opacity="1.00" filter="url(#bl)"/>
<rect x="44.00" y="472.10" width="65.50" height="12.00" fill="#7d7d7d"/>
<rect x="47.85" y="476.10" width="10.50" height="3.80" rx="1.90" fill="#050505" fill-opacity="1.00" filter="url(#bl)"/>
<rect x="63.65" y="476.10" width="10.50" height="3.80" rx="1.90" fill="#050505" fill-opacity="1.00" filter="url(#bl)"/>
<rect x="79.25" y="476.10" width="10.50" height="3.80" rx="1.90" fill="#050505" fill-opacity="1.00" filter="url(#bl)"/>
<rect x="94.55" y="476.10" width="10.50" height="3.80" rx="1.90" fill="#050505" fill-opacity="1.00" filter="url(#bl)"/>
<text x="43.20" y="423.69" font-size="9.3" text-anchor="end" font-weight="normal" fill="#111" stroke="#111" stroke-width="0.25" >PD-L1</text>
<text x="43.20" y="437.69" font-size="9.3" text-anchor="end" font-weight="normal" fill="#111" stroke="#111" stroke-width="0.25" >CD80</text>
<text x="43.20" y="452.89" font-size="9.3" text-anchor="end" font-weight="normal" fill="#111" stroke="#111" stroke-width="0.25" >p-p38</text>
<text x="43.20" y="465.69" font-size="9.3" text-anchor="end" font-weight="normal" fill="#111" stroke="#111" stroke-width="0.25" >p38</text>
<text x="43.20" y="480.39" font-size="9.3" text-anchor="end" font-weight="normal" fill="#111" stroke="#111" stroke-width="0.25" >β-actin</text>
<text x="109.80" y="422.45" font-size="9.2" text-anchor="start" font-weight="normal" fill="#111" stroke="#111" stroke-width="0.25" >45-50 kDa</text>
<text x="109.80" y="437.15" font-size="9.2" text-anchor="start" font-weight="normal" fill="#111" stroke="#111" stroke-width="0.25" >60 kDa</text>
<text x="109.80" y="451.65" font-size="9.2" text-anchor="start" font-weight="normal" fill="#111" stroke="#111" stroke-width="0.25" >38 kDa</text>
<text x="109.80" y="466.85" font-size="9.2" text-anchor="start" font-weight="normal" fill="#111" stroke="#111" stroke-width="0.25" >38-42 kDa</text>
<text x="109.80" y="480.85" font-size="9.2" text-anchor="start" font-weight="normal" fill="#111" stroke="#111" stroke-width="0.25" >42 kDa</text>
<rect x="150.20" y="353.00" width="8.40" height="3.70" fill="#6c6c6c" stroke="#111111" stroke-width="0.8"/>
<text x="162.16" y="357.95" font-size="9.2" text-anchor="start" font-weight="normal" fill="#111" stroke="#111" stroke-width="0.25" >ES+PA+oe-NC</text>
<rect x="150.20" y="366.50" width="8.40" height="3.70" fill="#f47ab4" stroke="#f0307f" stroke-width="0.8"/>
<text x="162.16" y="371.45" font-size="9.2" text-anchor="start" font-weight="normal" fill="#111" stroke="#111" stroke-width="0.25" >ES+PA+oe-PD-L1</text>
<rect x="150.20" y="380.10" width="8.40" height="3.70" fill="#7fc7ba" stroke="#3a9a8b" stroke-width="0.8"/>
<text x="162.16" y="385.05" font-size="9.2" text-anchor="start" font-weight="normal" fill="#111" stroke="#111" stroke-width="0.25" >ES+PA+oe-PD-L1+sh-NC</text>
<rect x="150.20" y="391.70" width="8.40" height="3.70" fill="#9676cc" stroke="#4a1fa8" stroke-width="0.8"/>
<text x="162.16" y="396.75" font-size="9.2" text-anchor="start" font-weight="normal" fill="#111" stroke="#111" stroke-width="0.25" >ES+PA+oe-PD-L1+sh-CD80</text>
<line x1="185.50" y1="418.80" x2="185.50" y2="484.30" stroke="#222" stroke-width="1.1"/>
<line x1="183.00" y1="419.30" x2="185.50" y2="419.30" stroke="#222" stroke-width="1"/>
<text x="182.58" y="422.04" font-size="9.6" text-anchor="end" font-weight="normal" fill="#111" stroke="#111" stroke-width="0.25" >0.8</text>
<line x1="183.00" y1="435.10" x2="185.50" y2="435.10" stroke="#222" stroke-width="1"/>
<text x="182.58" y="437.84" font-size="9.6" text-anchor="end" font-weight="normal" fill="#111" stroke="#111" stroke-width="0.25" >0.6</text>
<line x1="183.00" y1="451.50" x2="185.50" y2="451.50" stroke="#222" stroke-width="1"/>
<text x="182.58" y="454.24" font-size="9.6" text-anchor="end" font-weight="normal" fill="#111" stroke="#111" stroke-width="0.25" >0.4</text>
<line x1="183.00" y1="468.00" x2="185.50" y2="468.00" stroke="#222" stroke-width="1"/>
<text x="182.58" y="470.74" font-size="9.6" text-anchor="end" font-weight="normal" fill="#111" stroke="#111" stroke-width="0.25" >0.2</text>
<line x1="183.00" y1="484.30" x2="185.50" y2="484.30" stroke="#222" stroke-width="1"/>
<text x="182.58" y="487.04" font-size="9.6" text-anchor="end" font-weight="normal" fill="#111" stroke="#111" stroke-width="0.25" >0.0</text>
<line x1="185.50" y1="484.30" x2="284.80" y2="484.30" stroke="#222" stroke-width="1.1"/>
<line x1="200.50" y1="484.30" x2="200.50" y2="487.30" stroke="#222" stroke-width="1"/>
<line x1="233.80" y1="484.30" x2="233.80" y2="487.30" stroke="#222" stroke-width="1"/>
<line x1="267.30" y1="484.30" x2="267.30" y2="487.30" stroke="#222" stroke-width="1"/>
<text x="194.30" y="498.69" font-size="9.3" text-anchor="middle" font-weight="normal" fill="#111" stroke="#111" stroke-width="0.25" >PD-L1</text>
<text x="227.20" y="498.69" font-size="9.3" text-anchor="middle" font-weight="normal" fill="#111" stroke="#111" stroke-width="0.25" >CD80</text>
<text x="265.00" y="498.69" font-size="9.3" text-anchor="middle" font-weight="normal" fill="#111" stroke="#111" stroke-width="0.25" >p-p38/p38</text>
<text x="0" y="0" font-size="9.5" text-anchor="middle" fill="#111" stroke="#111" stroke-width="0.25" transform="translate(164.50,449.05) rotate(-90)">Proteins/β-actin</text>
<path d="M189.80,453.05 C189.84,453.18 189.72,453.45 190.06,453.80 C190.40,454.15 191.53,454.65 191.84,455.15 C192.16,455.65 191.95,456.25 191.95,456.80 C191.95,457.35 192.16,457.95 191.84,458.45 C191.53,458.95 190.40,459.45 190.06,459.80 C189.72,460.15 189.84,460.43 189.80,460.55 C189.76,460.43 189.88,460.15 189.54,459.80 C189.20,459.45 188.07,458.95 187.76,458.45 C187.44,457.95 187.65,457.35 187.65,456.80 C187.65,456.25 187.44,455.65 187.76,455.15 C188.07,454.65 189.20,454.15 189.54,453.80 C189.88,453.45 189.76,453.18 189.80,453.05 Z" fill="#5c5c5c" stroke="#111111" stroke-width="0.8"/>
<circle cx="189.80" cy="456.80" r="1.2" fill="#111111"/>
<path d="M197.20,441.35 C197.24,441.48 197.12,441.75 197.46,442.10 C197.80,442.45 198.93,442.95 199.24,443.45 C199.56,443.95 199.35,444.55 199.35,445.10 C199.35,445.65 199.56,446.25 199.24,446.75 C198.93,447.25 197.80,447.75 197.46,448.10 C197.12,448.45 197.24,448.73 197.20,448.85 C197.16,448.73 197.28,448.45 196.94,448.10 C196.60,447.75 195.47,447.25 195.16,446.75 C194.84,446.25 195.05,445.65 195.05,445.10 C195.05,444.55 194.84,443.95 195.16,443.45 C195.47,442.95 196.60,442.45 196.94,442.10 C197.28,441.75 197.16,441.48 197.20,441.35 Z" fill="#f46ea8" stroke="#f0307f" stroke-width="0.8"/>
<circle cx="197.20" cy="445.10" r="1.2" fill="#f0307f"/>
<path d="M204.20,442.05 C204.24,442.18 204.12,442.45 204.46,442.80 C204.80,443.15 205.93,443.65 206.24,444.15 C206.56,444.65 206.35,445.25 206.35,445.80 C206.35,446.35 206.56,446.95 206.24,447.45 C205.93,447.95 204.80,448.45 204.46,448.80 C204.12,449.15 204.24,449.43 204.20,449.55 C204.16,449.43 204.28,449.15 203.94,448.80 C203.60,448.45 202.47,447.95 202.16,447.45 C201.84,446.95 202.05,446.35 202.05,445.80 C202.05,445.25 201.84,444.65 202.16,444.15 C202.47,443.65 203.60,443.15 203.94,442.80 C204.28,442.45 204.16,442.18 204.20,442.05 Z" fill="#76bfb2" stroke="#3a9a8b" stroke-width="0.8"/>
<circle cx="204.20" cy="445.80" r="1.2" fill="#3a9a8b"/>
<path d="M211.70,450.25 C211.74,450.38 211.62,450.65 211.96,451.00 C212.30,451.35 213.43,451.85 213.74,452.35 C214.06,452.85 213.85,453.45 213.85,454.00 C213.85,454.55 214.06,455.15 213.74,455.65 C213.43,456.15 212.30,456.65 211.96,457.00 C211.62,457.35 211.74,457.62 211.70,457.75 C211.66,457.62 211.78,457.35 211.44,457.00 C211.10,456.65 209.97,456.15 209.66,455.65 C209.34,455.15 209.55,454.55 209.55,454.00 C209.55,453.45 209.34,452.85 209.66,452.35 C209.97,451.85 211.10,451.35 211.44,451.00 C211.78,450.65 211.66,450.38 211.70,450.25 Z" fill="#7d5ac8" stroke="#4a1fa8" stroke-width="0.8"/>
<circle cx="211.70" cy="454.00" r="1.2" fill="#4a1fa8"/>
<path d="M222.90,449.05 C222.94,449.18 222.82,449.45 223.16,449.80 C223.50,450.15 224.63,450.65 224.94,451.15 C225.26,451.65 225.05,452.25 225.05,452.80 C225.05,453.35 225.26,453.95 224.94,454.45 C224.63,454.95 223.50,455.45 223.16,455.80 C222.82,456.15 222.94,456.43 222.90,456.55 C222.86,456.43 222.98,456.15 222.64,455.80 C222.30,455.45 221.17,454.95 220.86,454.45 C220.54,453.95 220.75,453.35 220.75,452.80 C220.75,452.25 220.54,451.65 220.86,451.15 C221.17,450.65 222.30,450.15 222.64,449.80 C222.98,449.45 222.86,449.18 222.90,449.05 Z" fill="#5c5c5c" stroke="#111111" stroke-width="0.8"/>
<circle cx="222.90" cy="452.80" r="1.2" fill="#111111"/>
<path d="M229.90,435.95 C229.94,436.07 229.82,436.35 230.16,436.70 C230.50,437.05 231.63,437.55 231.94,438.05 C232.26,438.55 232.05,439.15 232.05,439.70 C232.05,440.25 232.26,440.85 231.94,441.35 C231.63,441.85 230.50,442.35 230.16,442.70 C229.82,443.05 229.94,443.32 229.90,443.45 C229.86,443.32 229.98,443.05 229.64,442.70 C229.30,442.35 228.17,441.85 227.86,441.35 C227.54,440.85 227.75,440.25 227.75,439.70 C227.75,439.15 227.54,438.55 227.86,438.05 C228.17,437.55 229.30,437.05 229.64,436.70 C229.98,436.35 229.86,436.07 229.90,435.95 Z" fill="#f46ea8" stroke="#f0307f" stroke-width="0.8"/>
<circle cx="229.90" cy="439.70" r="1.2" fill="#f0307f"/>
<path d="M237.60,433.15 C237.64,433.27 237.52,433.55 237.86,433.90 C238.20,434.25 239.33,434.75 239.64,435.25 C239.96,435.75 239.75,436.35 239.75,436.90 C239.75,437.45 239.96,438.05 239.64,438.55 C239.33,439.05 238.20,439.55 237.86,439.90 C237.52,440.25 237.64,440.52 237.60,440.65 C237.56,440.52 237.68,440.25 237.34,439.90 C237.00,439.55 235.87,439.05 235.56,438.55 C235.24,438.05 235.45,437.45 235.45,436.90 C235.45,436.35 235.24,435.75 235.56,435.25 C235.87,434.75 237.00,434.25 237.34,433.90 C237.68,433.55 237.56,433.27 237.60,433.15 Z" fill="#76bfb2" stroke="#3a9a8b" stroke-width="0.8"/>
<circle cx="237.60" cy="436.90" r="1.2" fill="#3a9a8b"/>
<path d="M244.60,444.15 C244.64,444.27 244.52,444.55 244.86,444.90 C245.20,445.25 246.33,445.75 246.64,446.25 C246.96,446.75 246.75,447.35 246.75,447.90 C246.75,448.45 246.96,449.05 246.64,449.55 C246.33,450.05 245.20,450.55 244.86,450.90 C244.52,451.25 244.64,451.52 244.60,451.65 C244.56,451.52 244.68,451.25 244.34,450.90 C244.00,450.55 242.87,450.05 242.56,449.55 C242.24,449.05 242.45,448.45 242.45,447.90 C242.45,447.35 242.24,446.75 242.56,446.25 C242.87,445.75 244.00,445.25 244.34,444.90 C244.68,444.55 244.56,444.27 244.60,444.15 Z" fill="#7d5ac8" stroke="#4a1fa8" stroke-width="0.8"/>
<circle cx="244.60" cy="447.90" r="1.2" fill="#4a1fa8"/>
<path d="M256.10,434.35 C256.14,434.48 256.02,434.75 256.36,435.10 C256.70,435.45 257.83,435.95 258.14,436.45 C258.46,436.95 258.25,437.55 258.25,438.10 C258.25,438.65 258.46,439.25 258.14,439.75 C257.83,440.25 256.70,440.75 256.36,441.10 C256.02,441.45 256.14,441.73 256.10,441.85 C256.06,441.73 256.18,441.45 255.84,441.10 C255.50,440.75 254.37,440.25 254.06,439.75 C253.74,439.25 253.95,438.65 253.95,438.10 C253.95,437.55 253.74,436.95 254.06,436.45 C254.37,435.95 255.50,435.45 255.84,435.10 C256.18,434.75 256.06,434.48 256.10,434.35 Z" fill="#5c5c5c" stroke="#111111" stroke-width="0.8"/>
<circle cx="256.10" cy="438.10" r="1.2" fill="#111111"/>
<path d="M263.80,424.35 C263.84,424.48 263.72,424.75 264.06,425.10 C264.40,425.45 265.53,425.95 265.84,426.45 C266.16,426.95 265.95,427.55 265.95,428.10 C265.95,428.65 266.16,429.25 265.84,429.75 C265.53,430.25 264.40,430.75 264.06,431.10 C263.72,431.45 263.84,431.73 263.80,431.85 C263.76,431.73 263.88,431.45 263.54,431.10 C263.20,430.75 262.07,430.25 261.76,429.75 C261.44,429.25 261.65,428.65 261.65,428.10 C261.65,427.55 261.44,426.95 261.76,426.45 C262.07,425.95 263.20,425.45 263.54,425.10 C263.88,424.75 263.76,424.48 263.80,424.35 Z" fill="#f46ea8" stroke="#f0307f" stroke-width="0.8"/>
<circle cx="263.80" cy="428.10" r="1.2" fill="#f0307f"/>
<path d="M271.30,426.85 C271.34,426.98 271.22,427.25 271.56,427.60 C271.90,427.95 273.03,428.45 273.34,428.95 C273.66,429.45 273.45,430.05 273.45,430.60 C273.45,431.15 273.66,431.75 273.34,432.25 C273.03,432.75 271.90,433.25 271.56,433.60 C271.22,433.95 271.34,434.23 271.30,434.35 C271.26,434.23 271.38,433.95 271.04,433.60 C270.70,433.25 269.57,432.75 269.26,432.25 C268.94,431.75 269.15,431.15 269.15,430.60 C269.15,430.05 268.94,429.45 269.26,428.95 C269.57,428.45 270.70,427.95 271.04,427.60 C271.38,427.25 271.26,426.98 271.30,426.85 Z" fill="#76bfb2" stroke="#3a9a8b" stroke-width="0.8"/>
<circle cx="271.30" cy="430.60" r="1.2" fill="#3a9a8b"/>
<path d="M278.30,433.85 C278.34,433.98 278.22,434.25 278.56,434.60 C278.90,434.95 280.03,435.45 280.34,435.95 C280.66,436.45 280.45,437.05 280.45,437.60 C280.45,438.15 280.66,438.75 280.34,439.25 C280.03,439.75 278.90,440.25 278.56,440.60 C278.22,440.95 278.34,441.23 278.30,441.35 C278.26,441.23 278.38,440.95 278.04,440.60 C277.70,440.25 276.57,439.75 276.26,439.25 C275.94,438.75 276.15,438.15 276.15,437.60 C276.15,437.05 275.94,436.45 276.26,435.95 C276.57,435.45 277.70,434.95 278.04,434.60 C278.38,434.25 278.26,433.98 278.30,433.85 Z" fill="#7d5ac8" stroke="#4a1fa8" stroke-width="0.8"/>
<circle cx="278.30" cy="437.60" r="1.2" fill="#4a1fa8"/>
<line x1="189.60" y1="439.00" x2="199.00" y2="439.00" stroke="#333" stroke-width="1"/>
<text x="197.40" y="435.12" font-size="6.2" text-anchor="middle" fill="#222" stroke="#222" stroke-width="0.12"><tspan font-style="italic">p</tspan>&lt;0.001</text>
<line x1="205.40" y1="442.00" x2="215.70" y2="442.00" stroke="#333" stroke-width="1"/>
<text x="216.70" y="439.22" font-size="6.2" text-anchor="middle" fill="#222" stroke="#222" stroke-width="0.12"><tspan font-style="italic">p</tspan>&lt;0.001</text>
<line x1="221.80" y1="430.60" x2="232.30" y2="430.60" stroke="#333" stroke-width="1"/>
<text x="225.30" y="424.02" font-size="6.2" text-anchor="middle" fill="#222" stroke="#222" stroke-width="0.12"><tspan font-style="italic">p</tspan>&lt;0.001</text>
<line x1="236.90" y1="428.80" x2="246.30" y2="428.80" stroke="#333" stroke-width="1"/>
<text x="247.00" y="426.32" font-size="6.2" text-anchor="middle" fill="#222" stroke="#222" stroke-width="0.12"><tspan font-style="italic">p</tspan>&lt;0.001</text>
<line x1="257.30" y1="418.30" x2="266.10" y2="418.30" stroke="#333" stroke-width="1"/>
<text x="261.50" y="414.62" font-size="6.2" text-anchor="middle" fill="#222" stroke="#222" stroke-width="0.12"><tspan font-style="italic">p</tspan>&lt;0.001</text>
<line x1="273.10" y1="426.40" x2="281.80" y2="426.40" stroke="#333" stroke-width="1"/>
<text x="277.80" y="422.82" font-size="6.2" text-anchor="middle" fill="#222" stroke="#222" stroke-width="0.12"><tspan font-style="italic">p</tspan>=0.0187</text>
<text x="306.21" y="368.80" font-size="22.2" text-anchor="start" font-weight="bold" fill="#000" >H</text>
<rect x="329.50" y="353.15" width="8.10" height="3.70" fill="#6c6c6c" stroke="#111111" stroke-width="0.8"/>
<text x="341.86" y="357.95" font-size="9.2" text-anchor="start" font-weight="normal" fill="#111" stroke="#111" stroke-width="0.25" >ES+PA+oe-NC</text>
<rect x="329.50" y="366.45" width="8.10" height="3.70" fill="#f47ab4" stroke="#f0307f" stroke-width="0.8"/>
<text x="341.86" y="371.35" font-size="9.2" text-anchor="start" font-weight="normal" fill="#111" stroke="#111" stroke-width="0.25" >ES+PA+oe-PD-L1</text>
<rect x="329.50" y="380.35" width="8.10" height="3.70" fill="#7fc7ba" stroke="#3a9a8b" stroke-width="0.8"/>
<text x="341.86" y="385.25" font-size="9.2" text-anchor="start" font-weight="normal" fill="#111" stroke="#111" stroke-width="0.25" >ES+PA+oe-PD-L1+sh-NC</text>
<rect x="329.50" y="391.95" width="8.10" height="3.70" fill="#9676cc" stroke="#4a1fa8" stroke-width="0.8"/>
<text x="341.86" y="396.95" font-size="9.2" text-anchor="start" font-weight="normal" fill="#111" stroke="#111" stroke-width="0.25" >ES+PA+oe-PD-L1+sh-CD80</text>
<line x1="366.50" y1="403.60" x2="366.50" y2="484.40" stroke="#222" stroke-width="1.1"/>
<line x1="363.00" y1="404.10" x2="366.50" y2="404.10" stroke="#222" stroke-width="1"/>
<text x="362.05" y="406.62" font-size="9.0" text-anchor="end" font-weight="normal" fill="#111" stroke="#111" stroke-width="0.25" >250</text>
<line x1="363.00" y1="420.60" x2="366.50" y2="420.60" stroke="#222" stroke-width="1"/>
<text x="362.05" y="423.12" font-size="9.0" text-anchor="end" font-weight="normal" fill="#111" stroke="#111" stroke-width="0.25" >200</text>
<line x1="363.00" y1="436.80" x2="366.50" y2="436.80" stroke="#222" stroke-width="1"/>
<text x="362.05" y="439.32" font-size="9.0" text-anchor="end" font-weight="normal" fill="#111" stroke="#111" stroke-width="0.25" >150</text>
<line x1="363.00" y1="452.40" x2="366.50" y2="452.40" stroke="#222" stroke-width="1"/>
<text x="362.05" y="454.92" font-size="9.0" text-anchor="end" font-weight="normal" fill="#111" stroke="#111" stroke-width="0.25" >100</text>
<line x1="363.00" y1="468.30" x2="366.50" y2="468.30" stroke="#222" stroke-width="1"/>
<text x="362.05" y="470.82" font-size="9.0" text-anchor="end" font-weight="normal" fill="#111" stroke="#111" stroke-width="0.25" >50</text>
<line x1="363.00" y1="484.40" x2="366.50" y2="484.40" stroke="#222" stroke-width="1"/>
<text x="362.05" y="486.92" font-size="9.0" text-anchor="end" font-weight="normal" fill="#111" stroke="#111" stroke-width="0.25" >0</text>
<line x1="366.50" y1="484.40" x2="420.40" y2="484.40" stroke="#222" stroke-width="1.1"/>
<line x1="374.50" y1="484.40" x2="374.50" y2="487.40" stroke="#222" stroke-width="1"/>
<line x1="386.90" y1="484.40" x2="386.90" y2="487.40" stroke="#222" stroke-width="1"/>
<line x1="399.30" y1="484.40" x2="399.30" y2="487.40" stroke="#222" stroke-width="1"/>
<line x1="411.70" y1="484.40" x2="411.70" y2="487.40" stroke="#222" stroke-width="1"/>
<path d="M374.50,450.40 C374.56,450.75 374.45,451.69 374.86,452.49 C375.26,453.28 376.68,454.32 376.91,455.17 C377.15,456.01 376.09,456.68 376.27,457.55 C376.46,458.42 378.29,459.44 378.05,460.38 C377.81,461.33 375.45,462.39 374.86,463.21 C374.26,464.03 374.56,464.95 374.50,465.30 C374.44,464.95 374.74,464.03 374.14,463.21 C373.55,462.39 371.19,461.33 370.95,460.38 C370.71,459.44 372.54,458.42 372.73,457.55 C372.91,456.68 371.85,456.01 372.09,455.17 C372.32,454.32 373.74,453.28 374.14,452.49 C374.55,451.69 374.44,450.75 374.50,450.40 Z" fill="#5c5c5c" stroke="#111111" stroke-width="0.8"/>
<line x1="374.50" y1="450.40" x2="374.50" y2="452.19" stroke="#111111" stroke-width="0.5"/>
<line x1="374.50" y1="463.51" x2="374.50" y2="465.30" stroke="#111111" stroke-width="0.5"/>
<line x1="372.55" y1="455.62" x2="376.45" y2="455.62" stroke="#ffffff" stroke-width="0.45"/>
<line x1="372.55" y1="457.85" x2="376.45" y2="457.85" stroke="#ffffff" stroke-width="0.45"/>
<line x1="372.55" y1="460.08" x2="376.45" y2="460.08" stroke="#ffffff" stroke-width="0.45"/>
<circle cx="374.50" cy="455.32" r="1.20" fill="#111111"/>
<circle cx="374.50" cy="457.85" r="1.20" fill="#111111"/>
<circle cx="374.50" cy="460.53" r="1.20" fill="#111111"/>
<path d="M386.90,420.60 C386.95,421.69 386.81,425.11 387.20,427.16 C387.59,429.21 389.04,431.06 389.22,432.90 C389.41,434.75 388.09,436.04 388.32,438.23 C388.56,440.42 390.82,443.22 390.65,446.02 C390.47,448.82 387.90,452.44 387.27,455.04 C386.65,457.64 386.96,460.51 386.90,461.60 C386.84,460.51 387.15,457.64 386.52,455.04 C385.90,452.44 383.32,448.82 383.15,446.02 C382.97,443.22 385.24,440.42 385.47,438.23 C385.71,436.04 384.39,434.75 384.57,432.90 C384.76,431.06 386.21,429.21 386.60,427.16 C386.99,425.11 386.85,421.69 386.90,420.60 Z" fill="#f46ea8" stroke="#f0307f" stroke-width="0.8"/>
<line x1="386.90" y1="420.60" x2="386.90" y2="425.52" stroke="#f0307f" stroke-width="0.5"/>
<line x1="386.90" y1="456.68" x2="386.90" y2="461.60" stroke="#f0307f" stroke-width="0.5"/>
<line x1="384.84" y1="434.95" x2="388.96" y2="434.95" stroke="#ffffff" stroke-width="0.45"/>
<line x1="384.84" y1="441.10" x2="388.96" y2="441.10" stroke="#ffffff" stroke-width="0.45"/>
<line x1="384.84" y1="447.25" x2="388.96" y2="447.25" stroke="#ffffff" stroke-width="0.45"/>
<circle cx="386.90" cy="434.13" r="1.26" fill="#f0307f"/>
<circle cx="386.90" cy="441.10" r="1.26" fill="#f0307f"/>
<circle cx="386.90" cy="448.48" r="1.26" fill="#f0307f"/>
<path d="M399.30,436.80 C399.38,437.06 399.16,437.62 399.75,438.34 C400.34,439.06 402.31,440.09 402.86,441.11 C403.41,442.14 403.05,443.37 403.05,444.50 C403.05,445.63 403.41,446.86 402.86,447.89 C402.31,448.91 400.34,449.94 399.75,450.66 C399.16,451.38 399.38,451.94 399.30,452.20 C399.23,451.94 399.44,451.38 398.85,450.66 C398.26,449.94 396.29,448.91 395.74,447.89 C395.19,446.86 395.55,445.63 395.55,444.50 C395.55,443.37 395.19,442.14 395.74,441.11 C396.29,440.09 398.26,439.06 398.85,438.34 C399.44,437.62 399.23,437.06 399.30,436.80 Z" fill="#76bfb2" stroke="#3a9a8b" stroke-width="0.8"/>
<line x1="399.30" y1="436.80" x2="399.30" y2="438.65" stroke="#3a9a8b" stroke-width="0.5"/>
<line x1="399.30" y1="450.35" x2="399.30" y2="452.20" stroke="#3a9a8b" stroke-width="0.5"/>
<line x1="397.24" y1="442.19" x2="401.36" y2="442.19" stroke="#ffffff" stroke-width="0.45"/>
<line x1="397.24" y1="444.50" x2="401.36" y2="444.50" stroke="#ffffff" stroke-width="0.45"/>
<line x1="397.24" y1="446.81" x2="401.36" y2="446.81" stroke="#ffffff" stroke-width="0.45"/>
<circle cx="399.30" cy="441.88" r="1.26" fill="#3a9a8b"/>
<circle cx="399.30" cy="444.50" r="1.26" fill="#3a9a8b"/>
<circle cx="399.30" cy="447.27" r="1.26" fill="#3a9a8b"/>
<path d="M411.70,451.70 C411.76,451.99 411.46,452.75 412.06,453.44 C412.67,454.12 415.11,455.01 415.35,455.79 C415.59,456.58 413.72,457.42 413.52,458.15 C413.33,458.87 414.43,459.43 414.18,460.13 C413.94,460.83 412.48,461.70 412.06,462.36 C411.65,463.03 411.76,463.81 411.70,464.10 C411.64,463.81 411.75,463.03 411.33,462.36 C410.92,461.70 409.46,460.83 409.22,460.13 C408.97,459.43 410.07,458.87 409.88,458.15 C409.68,457.42 407.81,456.58 408.05,455.79 C408.29,455.01 410.73,454.12 411.33,453.44 C411.94,452.75 411.64,451.99 411.70,451.70 Z" fill="#7d5ac8" stroke="#4a1fa8" stroke-width="0.8"/>
<line x1="411.70" y1="451.70" x2="411.70" y2="453.19" stroke="#4a1fa8" stroke-width="0.5"/>
<line x1="411.70" y1="462.61" x2="411.70" y2="464.10" stroke="#4a1fa8" stroke-width="0.5"/>
<line x1="409.69" y1="456.04" x2="413.71" y2="456.04" stroke="#ffffff" stroke-width="0.45"/>
<line x1="409.69" y1="457.90" x2="413.71" y2="457.90" stroke="#ffffff" stroke-width="0.45"/>
<line x1="409.69" y1="459.76" x2="413.71" y2="459.76" stroke="#ffffff" stroke-width="0.45"/>
<circle cx="411.70" cy="455.79" r="1.23" fill="#4a1fa8"/>
<circle cx="411.70" cy="457.90" r="1.23" fill="#4a1fa8"/>
<circle cx="411.70" cy="460.13" r="1.23" fill="#4a1fa8"/>
<line x1="375.70" y1="415.70" x2="386.90" y2="415.70" stroke="#333" stroke-width="1"/>
<text x="385.60" y="411.72" font-size="6.2" text-anchor="middle" fill="#222" stroke="#222" stroke-width="0.12"><tspan font-style="italic">p</tspan>=0.0204</text>
<line x1="401.30" y1="424.80" x2="415.40" y2="424.80" stroke="#333" stroke-width="1"/>
<text x="408.70" y="422.82" font-size="6.2" text-anchor="middle" fill="#222" stroke="#222" stroke-width="0.12"><tspan font-style="italic">p</tspan>=0.0409</text>
<text x="0" y="0" font-size="10" text-anchor="middle" fill="#111" stroke="#111" stroke-width="0.25" transform="translate(340.30,442.30) rotate(-90)">PD-L1 (pg/mgprot)</text>
<line x1="461.60" y1="404.00" x2="461.60" y2="484.60" stroke="#222" stroke-width="1.1"/>
<line x1="458.10" y1="404.50" x2="461.60" y2="404.50" stroke="#222" stroke-width="1"/>
<text x="456.46" y="407.13" font-size="9.3" text-anchor="end" font-weight="normal" fill="#111" stroke="#111" stroke-width="0.25" >400</text>
<line x1="458.10" y1="424.20" x2="461.60" y2="424.20" stroke="#222" stroke-width="1"/>
<text x="456.46" y="426.83" font-size="9.3" text-anchor="end" font-weight="normal" fill="#111" stroke="#111" stroke-width="0.25" >300</text>
<line x1="458.10" y1="444.30" x2="461.60" y2="444.30" stroke="#222" stroke-width="1"/>
<text x="456.46" y="446.93" font-size="9.3" text-anchor="end" font-weight="normal" fill="#111" stroke="#111" stroke-width="0.25" >200</text>
<line x1="458.10" y1="464.50" x2="461.60" y2="464.50" stroke="#222" stroke-width="1"/>
<text x="456.46" y="467.13" font-size="9.3" text-anchor="end" font-weight="normal" fill="#111" stroke="#111" stroke-width="0.25" >100</text>
<line x1="458.10" y1="484.60" x2="461.60" y2="484.60" stroke="#222" stroke-width="1"/>
<text x="456.46" y="487.23" font-size="9.3" text-anchor="end" font-weight="normal" fill="#111" stroke="#111" stroke-width="0.25" >0</text>
<line x1="461.60" y1="484.60" x2="515.00" y2="484.60" stroke="#222" stroke-width="1.1"/>
<line x1="469.90" y1="484.60" x2="469.90" y2="487.60" stroke="#222" stroke-width="1"/>
<line x1="482.20" y1="484.60" x2="482.20" y2="487.60" stroke="#222" stroke-width="1"/>
<line x1="494.50" y1="484.60" x2="494.50" y2="487.60" stroke="#222" stroke-width="1"/>
<line x1="506.70" y1="484.60" x2="506.70" y2="487.60" stroke="#222" stroke-width="1"/>
<path d="M469.90,452.20 C469.96,452.47 469.65,453.17 470.27,453.80 C470.90,454.42 473.40,455.24 473.65,455.96 C473.90,456.68 471.97,457.46 471.77,458.13 C471.57,458.79 472.70,459.31 472.45,459.95 C472.20,460.60 470.70,461.40 470.27,462.00 C469.85,462.61 469.96,463.33 469.90,463.60 C469.84,463.33 469.95,462.61 469.52,462.00 C469.10,461.40 467.60,460.60 467.35,459.95 C467.10,459.31 468.22,458.79 468.02,458.13 C467.82,457.46 465.90,456.68 466.15,455.96 C466.40,455.24 468.90,454.42 469.52,453.80 C470.15,453.17 469.84,452.47 469.90,452.20 Z" fill="#5c5c5c" stroke="#111111" stroke-width="0.8"/>
<line x1="469.90" y1="452.20" x2="469.90" y2="453.57" stroke="#111111" stroke-width="0.5"/>
<line x1="469.90" y1="462.23" x2="469.90" y2="463.60" stroke="#111111" stroke-width="0.5"/>
<line x1="467.84" y1="456.19" x2="471.96" y2="456.19" stroke="#ffffff" stroke-width="0.45"/>
<line x1="467.84" y1="457.90" x2="471.96" y2="457.90" stroke="#ffffff" stroke-width="0.45"/>
<line x1="467.84" y1="459.61" x2="471.96" y2="459.61" stroke="#ffffff" stroke-width="0.45"/>
<circle cx="469.90" cy="455.96" r="1.26" fill="#111111"/>
<circle cx="469.90" cy="457.90" r="1.26" fill="#111111"/>
<circle cx="469.90" cy="459.95" r="1.26" fill="#111111"/>
<path d="M482.20,421.50 C482.25,422.48 482.11,425.55 482.52,427.39 C482.92,429.23 484.45,430.88 484.65,432.54 C484.85,434.20 483.45,435.36 483.70,437.32 C483.95,439.29 486.33,441.80 486.15,444.32 C485.97,446.83 483.25,450.08 482.59,452.41 C481.94,454.74 482.27,457.32 482.20,458.30 C482.13,457.32 482.46,454.74 481.81,452.41 C481.15,450.08 478.43,446.83 478.25,444.32 C478.07,441.80 480.45,439.29 480.70,437.32 C480.95,435.36 479.55,434.20 479.75,432.54 C479.95,430.88 481.48,429.23 481.88,427.39 C482.29,425.55 482.15,422.48 482.20,421.50 Z" fill="#f46ea8" stroke="#f0307f" stroke-width="0.8"/>
<line x1="482.20" y1="421.50" x2="482.20" y2="425.92" stroke="#f0307f" stroke-width="0.5"/>
<line x1="482.20" y1="453.88" x2="482.20" y2="458.30" stroke="#f0307f" stroke-width="0.5"/>
<line x1="480.03" y1="434.38" x2="484.37" y2="434.38" stroke="#ffffff" stroke-width="0.45"/>
<line x1="480.03" y1="439.90" x2="484.37" y2="439.90" stroke="#ffffff" stroke-width="0.45"/>
<line x1="480.03" y1="445.42" x2="484.37" y2="445.42" stroke="#ffffff" stroke-width="0.45"/>
<circle cx="482.20" cy="433.64" r="1.30" fill="#f0307f"/>
<circle cx="482.20" cy="439.90" r="1.30" fill="#f0307f"/>
<circle cx="482.20" cy="446.52" r="1.30" fill="#f0307f"/>
<path d="M494.50,427.70 C494.57,428.27 494.23,429.78 494.90,431.13 C495.58,432.48 498.28,434.23 498.55,435.78 C498.82,437.34 496.74,439.01 496.52,440.44 C496.31,441.87 497.52,442.97 497.25,444.36 C496.98,445.75 495.36,447.46 494.90,448.77 C494.45,450.08 494.57,451.63 494.50,452.20 C494.43,451.63 494.55,450.08 494.10,448.77 C493.64,447.46 492.02,445.75 491.75,444.36 C491.48,442.97 492.69,441.87 492.48,440.44 C492.26,439.01 490.18,437.34 490.45,435.78 C490.72,434.23 493.42,432.48 494.10,431.13 C494.77,429.78 494.43,428.27 494.50,427.70 Z" fill="#76bfb2" stroke="#3a9a8b" stroke-width="0.8"/>
<line x1="494.50" y1="427.70" x2="494.50" y2="430.64" stroke="#3a9a8b" stroke-width="0.5"/>
<line x1="494.50" y1="449.26" x2="494.50" y2="452.20" stroke="#3a9a8b" stroke-width="0.5"/>
<line x1="492.27" y1="436.27" x2="496.73" y2="436.27" stroke="#ffffff" stroke-width="0.45"/>
<line x1="492.27" y1="439.95" x2="496.73" y2="439.95" stroke="#ffffff" stroke-width="0.45"/>
<line x1="492.27" y1="443.62" x2="496.73" y2="443.62" stroke="#ffffff" stroke-width="0.45"/>
<circle cx="494.50" cy="435.78" r="1.30" fill="#3a9a8b"/>
<circle cx="494.50" cy="439.95" r="1.30" fill="#3a9a8b"/>
<circle cx="494.50" cy="444.36" r="1.30" fill="#3a9a8b"/>
<path d="M506.70,452.20 C506.76,452.47 506.45,453.17 507.07,453.80 C507.70,454.42 510.20,455.24 510.45,455.96 C510.70,456.68 508.77,457.46 508.57,458.13 C508.38,458.79 509.50,459.31 509.25,459.95 C509.00,460.60 507.50,461.40 507.07,462.00 C506.65,462.61 506.76,463.33 506.70,463.60 C506.64,463.33 506.75,462.61 506.32,462.00 C505.90,461.40 504.40,460.60 504.15,459.95 C503.90,459.31 505.02,458.79 504.82,458.13 C504.62,457.46 502.70,456.68 502.95,455.96 C503.20,455.24 505.70,454.42 506.32,453.80 C506.95,453.17 506.64,452.47 506.70,452.20 Z" fill="#7d5ac8" stroke="#4a1fa8" stroke-width="0.8"/>
<line x1="506.70" y1="452.20" x2="506.70" y2="453.57" stroke="#4a1fa8" stroke-width="0.5"/>
<line x1="506.70" y1="462.23" x2="506.70" y2="463.60" stroke="#4a1fa8" stroke-width="0.5"/>
<line x1="504.64" y1="456.19" x2="508.76" y2="456.19" stroke="#ffffff" stroke-width="0.45"/>
<line x1="504.64" y1="457.90" x2="508.76" y2="457.90" stroke="#ffffff" stroke-width="0.45"/>
<line x1="504.64" y1="459.61" x2="508.76" y2="459.61" stroke="#ffffff" stroke-width="0.45"/>
<circle cx="506.70" cy="455.96" r="1.26" fill="#4a1fa8"/>
<circle cx="506.70" cy="457.90" r="1.26" fill="#4a1fa8"/>
<circle cx="506.70" cy="459.95" r="1.26" fill="#4a1fa8"/>
<line x1="471.20" y1="415.80" x2="482.20" y2="415.80" stroke="#333" stroke-width="1"/>
<text x="476.10" y="412.32" font-size="6.2" text-anchor="middle" fill="#222" stroke="#222" stroke-width="0.12"><tspan font-style="italic">p</tspan>=0.0162</text>
<line x1="494.50" y1="420.30" x2="503.70" y2="420.30" stroke="#333" stroke-width="1"/>
<text x="503.70" y="418.52" font-size="6.2" text-anchor="middle" fill="#222" stroke="#222" stroke-width="0.12"><tspan font-style="italic">p</tspan>=0.0069</text>
<text x="0" y="0" font-size="10.1" text-anchor="middle" fill="#111" stroke="#111" stroke-width="0.25" transform="translate(434.88,444.90) rotate(-90)">sCD80 (pg/mL)</text>
<text x="510.01" y="366.40" font-size="22.2" text-anchor="start" font-weight="bold" fill="#000" >I</text>
<rect x="527.30" y="352.95" width="8.10" height="3.70" fill="#6c6c6c" stroke="#111111" stroke-width="0.8"/>
<text x="539.16" y="357.95" font-size="9.2" text-anchor="start" font-weight="normal" fill="#111" stroke="#111" stroke-width="0.25" >ES+PA+oe-NC</text>
<rect x="527.30" y="366.55" width="8.10" height="3.70" fill="#f47ab4" stroke="#f0307f" stroke-width="0.8"/>
<text x="539.16" y="371.55" font-size="9.2" text-anchor="start" font-weight="normal" fill="#111" stroke="#111" stroke-width="0.25" >ES+PA+oe-PD-L1</text>
<rect x="527.30" y="380.05" width="8.10" height="3.70" fill="#7fc7ba" stroke="#3a9a8b" stroke-width="0.8"/>
<text x="539.16" y="385.05" font-size="9.2" text-anchor="start" font-weight="normal" fill="#111" stroke="#111" stroke-width="0.25" >ES+PA+oe-PD-L1+sh-NC</text>
<rect x="527.30" y="392.05" width="8.10" height="3.70" fill="#9676cc" stroke="#4a1fa8" stroke-width="0.8"/>
<text x="539.16" y="397.05" font-size="9.2" text-anchor="start" font-weight="normal" fill="#111" stroke="#111" stroke-width="0.25" >ES+PA+oe-PD-L1+sh-CD80</text>
<line x1="578.30" y1="418.20" x2="578.30" y2="479.40" stroke="#333" stroke-width="1.1"/>
<line x1="576.80" y1="418.70" x2="578.30" y2="418.70" stroke="#333" stroke-width="1"/>
<text x="576.35" y="421.19" font-size="8.9" text-anchor="end" font-weight="normal" fill="#111" stroke="#111" stroke-width="0.25" >1.2</text>
<line x1="576.80" y1="434.10" x2="578.30" y2="434.10" stroke="#333" stroke-width="1"/>
<text x="576.35" y="436.59" font-size="8.9" text-anchor="end" font-weight="normal" fill="#111" stroke="#111" stroke-width="0.25" >1.1</text>
<line x1="576.80" y1="449.40" x2="578.30" y2="449.40" stroke="#333" stroke-width="1"/>
<text x="576.35" y="451.89" font-size="8.9" text-anchor="end" font-weight="normal" fill="#111" stroke="#111" stroke-width="0.25" >1.0</text>
<line x1="576.80" y1="464.30" x2="578.30" y2="464.30" stroke="#333" stroke-width="1"/>
<text x="576.35" y="466.79" font-size="8.9" text-anchor="end" font-weight="normal" fill="#111" stroke="#111" stroke-width="0.25" >0.9</text>
<line x1="576.80" y1="479.40" x2="578.30" y2="479.40" stroke="#333" stroke-width="1"/>
<text x="576.35" y="481.89" font-size="8.9" text-anchor="end" font-weight="normal" fill="#111" stroke="#111" stroke-width="0.25" >0.8</text>
<line x1="578.30" y1="479.40" x2="633.80" y2="479.40" stroke="#222" stroke-width="1.1"/>
<line x1="586.60" y1="479.40" x2="586.60" y2="482.40" stroke="#222" stroke-width="1"/>
<line x1="599.60" y1="479.40" x2="599.60" y2="482.40" stroke="#222" stroke-width="1"/>
<line x1="612.60" y1="479.40" x2="612.60" y2="482.40" stroke="#222" stroke-width="1"/>
<line x1="625.10" y1="479.40" x2="625.10" y2="482.40" stroke="#222" stroke-width="1"/>
<path d="M586.60,451.80 C586.68,452.10 586.45,452.77 587.06,453.62 C587.67,454.47 589.69,455.68 590.26,456.90 C590.82,458.11 590.45,459.57 590.45,460.90 C590.45,462.23 590.82,463.69 590.26,464.90 C589.69,466.12 587.67,467.33 587.06,468.18 C586.45,469.03 586.68,469.70 586.60,470.00 C586.52,469.70 586.75,469.03 586.14,468.18 C585.53,467.33 583.51,466.12 582.94,464.90 C582.38,463.69 582.75,462.23 582.75,460.90 C582.75,459.57 582.38,458.11 582.94,456.90 C583.51,455.68 585.53,454.47 586.14,453.62 C586.75,452.77 586.52,452.10 586.60,451.80 Z" fill="#5c5c5c" stroke="#111111" stroke-width="0.8"/>
<line x1="586.60" y1="451.80" x2="586.60" y2="453.98" stroke="#111111" stroke-width="0.5"/>
<line x1="586.60" y1="467.82" x2="586.60" y2="470.00" stroke="#111111" stroke-width="0.5"/>
<line x1="584.48" y1="458.17" x2="588.72" y2="458.17" stroke="#ffffff" stroke-width="0.45"/>
<line x1="584.48" y1="460.90" x2="588.72" y2="460.90" stroke="#ffffff" stroke-width="0.45"/>
<line x1="584.48" y1="463.63" x2="588.72" y2="463.63" stroke="#ffffff" stroke-width="0.45"/>
<circle cx="586.60" cy="457.81" r="1.29" fill="#111111"/>
<circle cx="586.60" cy="460.90" r="1.29" fill="#111111"/>
<circle cx="586.60" cy="464.18" r="1.29" fill="#111111"/>
<path d="M599.60,432.20 C599.66,432.58 599.34,433.60 599.99,434.51 C600.63,435.42 603.19,436.60 603.45,437.64 C603.71,438.69 601.73,439.82 601.52,440.78 C601.32,441.74 602.47,442.49 602.22,443.42 C601.96,444.36 600.42,445.51 599.99,446.39 C599.55,447.27 599.66,448.31 599.60,448.70 C599.54,448.31 599.65,447.27 599.22,446.39 C598.78,445.51 597.24,444.36 596.98,443.42 C596.73,442.49 597.88,441.74 597.68,440.78 C597.47,439.82 595.49,438.69 595.75,437.64 C596.01,436.60 598.57,435.42 599.22,434.51 C599.86,433.60 599.54,432.58 599.60,432.20 Z" fill="#f46ea8" stroke="#f0307f" stroke-width="0.8"/>
<line x1="599.60" y1="432.20" x2="599.60" y2="434.18" stroke="#f0307f" stroke-width="0.5"/>
<line x1="599.60" y1="446.72" x2="599.60" y2="448.70" stroke="#f0307f" stroke-width="0.5"/>
<line x1="597.48" y1="437.97" x2="601.72" y2="437.97" stroke="#ffffff" stroke-width="0.45"/>
<line x1="597.48" y1="440.45" x2="601.72" y2="440.45" stroke="#ffffff" stroke-width="0.45"/>
<line x1="597.48" y1="442.93" x2="601.72" y2="442.93" stroke="#ffffff" stroke-width="0.45"/>
<circle cx="599.60" cy="437.64" r="1.29" fill="#f0307f"/>
<circle cx="599.60" cy="440.45" r="1.29" fill="#f0307f"/>
<circle cx="599.60" cy="443.42" r="1.29" fill="#f0307f"/>
<path d="M612.60,430.10 C612.66,430.52 612.34,431.64 612.99,432.63 C613.63,433.63 616.19,434.93 616.45,436.07 C616.71,437.22 614.73,438.46 614.52,439.51 C614.32,440.57 615.47,441.38 615.22,442.41 C614.96,443.43 613.42,444.70 612.99,445.67 C612.55,446.63 612.66,447.78 612.60,448.20 C612.54,447.78 612.65,446.63 612.22,445.67 C611.78,444.70 610.24,443.43 609.98,442.41 C609.73,441.38 610.88,440.57 610.68,439.51 C610.47,438.46 608.49,437.22 608.75,436.07 C609.01,434.93 611.57,433.63 612.22,432.63 C612.86,431.64 612.54,430.52 612.60,430.10 Z" fill="#76bfb2" stroke="#3a9a8b" stroke-width="0.8"/>
<line x1="612.60" y1="430.10" x2="612.60" y2="432.27" stroke="#3a9a8b" stroke-width="0.5"/>
<line x1="612.60" y1="446.03" x2="612.60" y2="448.20" stroke="#3a9a8b" stroke-width="0.5"/>
<line x1="610.48" y1="436.44" x2="614.72" y2="436.44" stroke="#ffffff" stroke-width="0.45"/>
<line x1="610.48" y1="439.15" x2="614.72" y2="439.15" stroke="#ffffff" stroke-width="0.45"/>
<line x1="610.48" y1="441.87" x2="614.72" y2="441.87" stroke="#ffffff" stroke-width="0.45"/>
<circle cx="612.60" cy="436.07" r="1.29" fill="#3a9a8b"/>
<circle cx="612.60" cy="439.15" r="1.29" fill="#3a9a8b"/>
<circle cx="612.60" cy="442.41" r="1.29" fill="#3a9a8b"/>
<path d="M625.10,442.30 C625.16,443.04 625.05,445.06 625.48,446.77 C625.90,448.47 627.40,450.70 627.65,452.51 C627.90,454.32 626.77,455.75 626.98,457.61 C627.18,459.47 629.10,461.65 628.85,463.67 C628.60,465.69 626.10,467.98 625.48,469.73 C624.85,471.49 625.16,473.46 625.10,474.20 C625.04,473.46 625.35,471.49 624.73,469.73 C624.10,467.98 621.60,465.69 621.35,463.67 C621.10,461.65 623.02,459.47 623.23,457.61 C623.43,455.75 622.30,454.32 622.55,452.51 C622.80,450.70 624.30,448.47 624.73,446.77 C625.15,445.06 625.04,443.04 625.10,442.30 Z" fill="#7d5ac8" stroke="#4a1fa8" stroke-width="0.8"/>
<line x1="625.10" y1="442.30" x2="625.10" y2="446.13" stroke="#4a1fa8" stroke-width="0.5"/>
<line x1="625.10" y1="470.37" x2="625.10" y2="474.20" stroke="#4a1fa8" stroke-width="0.5"/>
<line x1="623.04" y1="453.47" x2="627.16" y2="453.47" stroke="#ffffff" stroke-width="0.45"/>
<line x1="623.04" y1="458.25" x2="627.16" y2="458.25" stroke="#ffffff" stroke-width="0.45"/>
<line x1="623.04" y1="463.03" x2="627.16" y2="463.03" stroke="#ffffff" stroke-width="0.45"/>
<circle cx="625.10" cy="452.83" r="1.26" fill="#4a1fa8"/>
<circle cx="625.10" cy="458.25" r="1.26" fill="#4a1fa8"/>
<circle cx="625.10" cy="463.99" r="1.26" fill="#4a1fa8"/>
<line x1="584.70" y1="418.00" x2="598.40" y2="418.00" stroke="#333" stroke-width="1"/>
<text x="594.20" y="415.02" font-size="6.2" text-anchor="middle" fill="#222" stroke="#222" stroke-width="0.12"><tspan font-style="italic">p</tspan>=0.0024</text>
<line x1="610.20" y1="418.00" x2="622.00" y2="418.00" stroke="#333" stroke-width="1"/>
<text x="622.00" y="416.72" font-size="6.2" text-anchor="middle" fill="#222" stroke="#222" stroke-width="0.12"><tspan font-style="italic">p</tspan>=0.0026</text>
<text x="0" y="0" font-size="9.5" text-anchor="middle" fill="#111" stroke="#111" stroke-width="0.25" transform="translate(556.90,442.60) rotate(-90)">OD value</text>
<text x="2.27" y="515.70" font-size="22.2" text-anchor="start" font-weight="bold" fill="#000" >J</text>
<text x="76.80" y="519.99" font-size="9.3" text-anchor="middle" font-weight="normal" fill="#111" stroke="#111" stroke-width="0.25" >ES+PA</text>
<line x1="36.00" y1="524.30" x2="117.40" y2="524.30" stroke="#222" stroke-width="1"/>
<text x="54.50" y="535.59" font-size="9.3" text-anchor="end" font-weight="normal" fill="#111" stroke="#111" stroke-width="0.25" >oe-NC</text>
<text x="50.00" y="546.19" font-size="9.3" text-anchor="end" font-weight="normal" fill="#111" stroke="#111" stroke-width="0.25" >oe-PD-L1</text>
<text x="53.30" y="558.29" font-size="9.3" text-anchor="end" font-weight="normal" fill="#111" stroke="#111" stroke-width="0.25" >sh-NC</text>
<text x="51.10" y="571.89" font-size="9.3" text-anchor="end" font-weight="normal" fill="#111" stroke="#111" stroke-width="0.25" >sh-CD80</text>
<text x="64.10" y="535.46" font-size="9.3" text-anchor="middle" font-weight="normal" fill="#111" stroke="#111" stroke-width="0.25" >+</text>
<text x="78.50" y="535.78" font-size="9.3" text-anchor="middle" font-weight="normal" fill="#111" stroke="#111" stroke-width="0.25" >-</text>
<text x="95.30" y="535.78" font-size="9.3" text-anchor="middle" font-weight="normal" fill="#111" stroke="#111" stroke-width="0.25" >-</text>
<text x="110.40" y="535.78" font-size="9.3" text-anchor="middle" font-weight="normal" fill="#111" stroke="#111" stroke-width="0.25" >-</text>
<text x="64.10" y="544.18" font-size="9.3" text-anchor="middle" font-weight="normal" fill="#111" stroke="#111" stroke-width="0.25" >-</text>
<text x="78.50" y="546.86" font-size="9.3" text-anchor="middle" font-weight="normal" fill="#111" stroke="#111" stroke-width="0.25" >+</text>
<text x="95.30" y="548.05" font-size="9.3" text-anchor="middle" font-weight="normal" fill="#111" stroke="#111" stroke-width="0.25" >+</text>
<text x="110.40" y="548.05" font-size="9.3" text-anchor="middle" font-weight="normal" fill="#111" stroke="#111" stroke-width="0.25" >+</text>
<text x="64.10" y="555.88" font-size="9.3" text-anchor="middle" font-weight="normal" fill="#111" stroke="#111" stroke-width="0.25" >-</text>
<text x="78.50" y="556.58" font-size="9.3" text-anchor="middle" font-weight="normal" fill="#111" stroke="#111" stroke-width="0.25" >-</text>
<text x="95.30" y="558.65" font-size="9.3" text-anchor="middle" font-weight="normal" fill="#111" stroke="#111" stroke-width="0.25" >+</text>
<text x="110.40" y="557.58" font-size="9.3" text-anchor="middle" font-weight="normal" fill="#111" stroke="#111" stroke-width="0.25" >-</text>
<text x="64.10" y="567.68" font-size="9.3" text-anchor="middle" font-weight="normal" fill="#111" stroke="#111" stroke-width="0.25" >-</text>
<text x="78.50" y="568.38" font-size="9.3" text-anchor="middle" font-weight="normal" fill="#111" stroke="#111" stroke-width="0.25" >-</text>
<text x="95.30" y="568.88" font-size="9.3" text-anchor="middle" font-weight="normal" fill="#111" stroke="#111" stroke-width="0.25" >-</text>
<text x="110.40" y="567.86" font-size="9.3" text-anchor="middle" font-weight="normal" fill="#111" stroke="#111" stroke-width="0.25" >+</text>
<rect x="54.40" y="574.40" width="65.20" height="18.20" fill="#6f6f6f"/>
<rect x="57.95" y="578.60" width="10.50" height="2.20" rx="1.10" fill="#050505" fill-opacity="1.00" filter="url(#bl)"/>
<rect x="73.35" y="578.60" width="10.50" height="2.20" rx="1.10" fill="#050505" fill-opacity="0.90" filter="url(#bl)"/>
<rect x="89.35" y="578.60" width="10.50" height="2.20" rx="1.10" fill="#050505" fill-opacity="0.90" filter="url(#bl)"/>
<rect x="105.15" y="578.60" width="10.50" height="2.20" rx="1.10" fill="#050505" fill-opacity="1.00" filter="url(#bl)"/>
<rect x="57.95" y="586.55" width="10.50" height="2.30" rx="1.15" fill="#050505" fill-opacity="1.00" filter="url(#bl)"/>
<rect x="73.35" y="586.55" width="10.50" height="2.30" rx="1.15" fill="#050505" fill-opacity="0.90" filter="url(#bl)"/>
<rect x="89.35" y="586.55" width="10.50" height="2.30" rx="1.15" fill="#050505" fill-opacity="0.85" filter="url(#bl)"/>
<rect x="105.15" y="586.55" width="10.50" height="2.30" rx="1.15" fill="#050505" fill-opacity="1.00" filter="url(#bl)"/>
<rect x="54.40" y="596.10" width="65.20" height="11.50" fill="#6f6f6f"/>
<rect x="57.95" y="601.45" width="10.50" height="2.30" rx="1.15" fill="#050505" fill-opacity="0.95" filter="url(#bl)"/>
<rect x="73.35" y="601.45" width="10.50" height="2.30" rx="1.15" fill="#050505" fill-opacity="0.85" filter="url(#bl)"/>
<rect x="89.35" y="601.45" width="10.50" height="2.30" rx="1.15" fill="#050505" fill-opacity="0.90" filter="url(#bl)"/>
<rect x="105.15" y="601.45" width="10.50" height="2.30" rx="1.15" fill="#050505" fill-opacity="0.95" filter="url(#bl)"/>
<rect x="54.40" y="611.30" width="65.20" height="10.40" fill="#6f6f6f"/>
<rect x="57.95" y="615.85" width="10.50" height="2.30" rx="1.15" fill="#050505" fill-opacity="0.90" filter="url(#bl)"/>
<rect x="73.35" y="615.85" width="10.50" height="2.30" rx="1.15" fill="#050505" fill-opacity="0.95" filter="url(#bl)"/>
<rect x="89.35" y="615.85" width="10.50" height="2.30" rx="1.15" fill="#050505" fill-opacity="0.95" filter="url(#bl)"/>
<rect x="105.15" y="615.85" width="10.50" height="2.30" rx="1.15" fill="#050505" fill-opacity="0.85" filter="url(#bl)"/>
<rect x="54.40" y="625.20" width="65.20" height="10.20" fill="#6f6f6f"/>
<rect x="57.95" y="629.15" width="10.50" height="2.50" rx="1.25" fill="#050505" fill-opacity="0.95" filter="url(#bl)"/>
<rect x="73.35" y="629.15" width="10.50" height="2.50" rx="1.25" fill="#050505" fill-opacity="0.95" filter="url(#bl)"/>
<rect x="89.35" y="629.15" width="10.50" height="2.50" rx="1.25" fill="#050505" fill-opacity="1.00" filter="url(#bl)"/>
<rect x="105.15" y="629.15" width="10.50" height="2.50" rx="1.25" fill="#050505" fill-opacity="0.95" filter="url(#bl)"/>
<rect x="54.40" y="638.80" width="65.20" height="12.10" fill="#6f6f6f"/>
<rect x="57.95" y="642.85" width="10.50" height="2.30" rx="1.15" fill="#050505" fill-opacity="0.90" filter="url(#bl)"/>
<rect x="73.35" y="642.85" width="10.50" height="2.30" rx="1.15" fill="#050505" fill-opacity="0.95" filter="url(#bl)"/>
<rect x="89.35" y="642.85" width="10.50" height="2.30" rx="1.15" fill="#050505" fill-opacity="0.95" filter="url(#bl)"/>
<rect x="105.15" y="642.85" width="10.50" height="2.30" rx="1.15" fill="#050505" fill-opacity="0.85" filter="url(#bl)"/>
<rect x="54.40" y="653.60" width="65.20" height="12.00" fill="#6f6f6f"/>
<rect x="57.95" y="658.75" width="10.50" height="2.30" rx="1.15" fill="#050505" fill-opacity="0.85" filter="url(#bl)"/>
<rect x="73.35" y="658.75" width="10.50" height="2.30" rx="1.15" fill="#050505" fill-opacity="0.95" filter="url(#bl)"/>
<rect x="89.35" y="658.75" width="10.50" height="2.30" rx="1.15" fill="#050505" fill-opacity="0.95" filter="url(#bl)"/>
<rect x="105.15" y="658.75" width="10.50" height="2.30" rx="1.15" fill="#050505" fill-opacity="0.85" filter="url(#bl)"/>
<rect x="54.40" y="667.50" width="65.20" height="11.50" fill="#6f6f6f"/>
<rect x="57.95" y="672.15" width="10.50" height="2.30" rx="1.15" fill="#050505" fill-opacity="0.85" filter="url(#bl)"/>
<rect x="73.35" y="672.15" width="10.50" height="2.30" rx="1.15" fill="#050505" fill-opacity="0.90" filter="url(#bl)"/>
<rect x="89.35" y="672.15" width="10.50" height="2.30" rx="1.15" fill="#050505" fill-opacity="0.95" filter="url(#bl)"/>
<rect x="105.15" y="672.15" width="10.50" height="2.30" rx="1.15" fill="#050505" fill-opacity="0.85" filter="url(#bl)"/>
<rect x="54.40" y="681.50" width="65.20" height="12.90" fill="#6f6f6f"/>
<rect x="57.95" y="685.90" width="10.50" height="3.60" rx="1.80" fill="#050505" fill-opacity="1.00" filter="url(#bl)"/>
<rect x="73.35" y="685.90" width="10.50" height="3.60" rx="1.80" fill="#050505" fill-opacity="1.00" filter="url(#bl)"/>
<rect x="89.35" y="685.90" width="10.50" height="3.60" rx="1.80" fill="#050505" fill-opacity="1.00" filter="url(#bl)"/>
<rect x="105.15" y="685.90" width="10.50" height="3.60" rx="1.80" fill="#050505" fill-opacity="1.00" filter="url(#bl)"/>
<text x="52.60" y="584.49" font-size="9.3" text-anchor="end" font-weight="normal" fill="#111" stroke="#111" stroke-width="0.25" >SLC31A1</text>
<text x="52.60" y="607.29" font-size="9.3" text-anchor="end" font-weight="normal" fill="#111" stroke="#111" stroke-width="0.25" >p53</text>
<text x="52.60" y="618.09" font-size="9.3" text-anchor="end" font-weight="normal" fill="#111" stroke="#111" stroke-width="0.25" >DLAT</text>
<text x="52.60" y="633.29" font-size="9.3" text-anchor="end" font-weight="normal" fill="#111" stroke="#111" stroke-width="0.25" >FDX1</text>
<text x="52.60" y="648.19" font-size="9.3" text-anchor="end" font-weight="normal" fill="#111" stroke="#111" stroke-width="0.25" >LIAS</text>
<text x="52.60" y="663.39" font-size="9.3" text-anchor="end" font-weight="normal" fill="#111" stroke="#111" stroke-width="0.25" >ATP7A</text>
<text x="52.60" y="674.99" font-size="9.3" text-anchor="end" font-weight="normal" fill="#111" stroke="#111" stroke-width="0.25" >ATP7B</text>
<text x="52.60" y="690.49" font-size="9.3" text-anchor="end" font-weight="normal" fill="#111" stroke="#111" stroke-width="0.25" >β-actin</text>
<text x="122.80" y="584.15" font-size="9.2" text-anchor="start" font-weight="normal" fill="#111" stroke="#111" stroke-width="0.25" >35 kDa</text>
<text x="122.80" y="592.85" font-size="9.2" text-anchor="start" font-weight="normal" fill="#111" stroke="#111" stroke-width="0.25" >28 kDa</text>
<text x="122.80" y="606.75" font-size="9.2" text-anchor="start" font-weight="normal" fill="#111" stroke="#111" stroke-width="0.25" >53 kDa</text>
<text x="122.80" y="622.35" font-size="9.2" text-anchor="start" font-weight="normal" fill="#111" stroke="#111" stroke-width="0.25" >69-70 kDa</text>
<text x="122.80" y="635.65" font-size="9.2" text-anchor="start" font-weight="normal" fill="#111" stroke="#111" stroke-width="0.25" >19 kDa</text>
<text x="122.80" y="648.15" font-size="9.2" text-anchor="start" font-weight="normal" fill="#111" stroke="#111" stroke-width="0.25" >42 kDa</text>
<text x="122.80" y="663.35" font-size="9.2" text-anchor="start" font-weight="normal" fill="#111" stroke="#111" stroke-width="0.25" >163 kDa</text>
<text x="122.80" y="677.15" font-size="9.2" text-anchor="start" font-weight="normal" fill="#111" stroke="#111" stroke-width="0.25" >150 kDa</text>
<text x="122.80" y="692.15" font-size="9.2" text-anchor="start" font-weight="normal" fill="#111" stroke="#111" stroke-width="0.25" >42 kDa</text>
<rect x="150.30" y="510.85" width="8.30" height="3.70" fill="#6c6c6c" stroke="#111111" stroke-width="0.8"/>
<text x="162.36" y="515.85" font-size="9.2" text-anchor="start" font-weight="normal" fill="#111" stroke="#111" stroke-width="0.25" >ES+PA+oe-NC</text>
<rect x="150.30" y="524.35" width="8.30" height="3.70" fill="#f47ab4" stroke="#f0307f" stroke-width="0.8"/>
<text x="162.36" y="529.35" font-size="9.2" text-anchor="start" font-weight="normal" fill="#111" stroke="#111" stroke-width="0.25" >ES+PA+oe-PD-L1</text>
<rect x="150.30" y="538.15" width="8.30" height="3.70" fill="#7fc7ba" stroke="#3a9a8b" stroke-width="0.8"/>
<text x="162.36" y="543.15" font-size="9.2" text-anchor="start" font-weight="normal" fill="#111" stroke="#111" stroke-width="0.25" >ES+PA+oe-PD-L1+sh-NC</text>
<rect x="150.30" y="549.75" width="8.30" height="3.70" fill="#9676cc" stroke="#4a1fa8" stroke-width="0.8"/>
<text x="162.36" y="554.75" font-size="9.2" text-anchor="start" font-weight="normal" fill="#111" stroke="#111" stroke-width="0.25" >ES+PA+oe-PD-L1+sh-CD80</text>
<line x1="192.50" y1="566.50" x2="192.50" y2="670.60" stroke="#222" stroke-width="1.1"/>
<line x1="188.00" y1="567.00" x2="192.50" y2="567.00" stroke="#222" stroke-width="1"/>
<text x="186.77" y="569.65" font-size="9.35" text-anchor="end" font-weight="normal" fill="#111" stroke="#111" stroke-width="0.25" >0.6</text>
<line x1="188.00" y1="601.60" x2="192.50" y2="601.60" stroke="#222" stroke-width="1"/>
<text x="186.77" y="604.25" font-size="9.35" text-anchor="end" font-weight="normal" fill="#111" stroke="#111" stroke-width="0.25" >0.4</text>
<line x1="188.00" y1="636.00" x2="192.50" y2="636.00" stroke="#222" stroke-width="1"/>
<text x="186.77" y="638.65" font-size="9.35" text-anchor="end" font-weight="normal" fill="#111" stroke="#111" stroke-width="0.25" >0.2</text>
<line x1="188.00" y1="670.60" x2="192.50" y2="670.60" stroke="#222" stroke-width="1"/>
<text x="186.77" y="673.25" font-size="9.35" text-anchor="end" font-weight="normal" fill="#111" stroke="#111" stroke-width="0.25" >0.0</text>
<line x1="192.50" y1="670.60" x2="449.30" y2="670.60" stroke="#222" stroke-width="1.1"/>
<line x1="206.90" y1="670.60" x2="206.90" y2="673.60" stroke="#222" stroke-width="1"/>
<line x1="239.70" y1="670.60" x2="239.70" y2="673.60" stroke="#222" stroke-width="1"/>
<line x1="272.60" y1="670.60" x2="272.60" y2="673.60" stroke="#222" stroke-width="1"/>
<line x1="304.30" y1="670.60" x2="304.30" y2="673.60" stroke="#222" stroke-width="1"/>
<line x1="337.30" y1="670.60" x2="337.30" y2="673.60" stroke="#222" stroke-width="1"/>
<line x1="369.60" y1="670.60" x2="369.60" y2="673.60" stroke="#222" stroke-width="1"/>
<line x1="402.20" y1="670.60" x2="402.20" y2="673.60" stroke="#222" stroke-width="1"/>
<line x1="434.70" y1="670.60" x2="434.70" y2="673.60" stroke="#222" stroke-width="1"/>
<text x="194.40" y="683.50" font-size="9.6" text-anchor="middle" font-weight="normal" fill="#111" stroke="#111" stroke-width="0.25" >SLC31A1</text>
<text x="241.10" y="683.50" font-size="9.6" text-anchor="middle" font-weight="normal" fill="#111" stroke="#111" stroke-width="0.25" >SLC31A1</text>
<text x="275.30" y="683.50" font-size="9.6" text-anchor="middle" font-weight="normal" fill="#111" stroke="#111" stroke-width="0.25" >p53</text>
<text x="306.80" y="683.50" font-size="9.6" text-anchor="middle" font-weight="normal" fill="#111" stroke="#111" stroke-width="0.25" >DLAT</text>
<text x="339.60" y="683.50" font-size="9.6" text-anchor="middle" font-weight="normal" fill="#111" stroke="#111" stroke-width="0.25" >FDX1</text>
<text x="370.30" y="683.50" font-size="9.6" text-anchor="middle" font-weight="normal" fill="#111" stroke="#111" stroke-width="0.25" >LIAS</text>
<text x="402.90" y="683.50" font-size="9.6" text-anchor="middle" font-weight="normal" fill="#111" stroke="#111" stroke-width="0.25" >ATP7A</text>
<text x="440.20" y="683.50" font-size="9.6" text-anchor="middle" font-weight="normal" fill="#111" stroke="#111" stroke-width="0.25" >ATP7B</text>
<text x="194.40" y="694.70" font-size="9.6" text-anchor="middle" font-weight="normal" fill="#111" stroke="#111" stroke-width="0.25" >(35 kDa)</text>
<text x="241.20" y="694.70" font-size="9.6" text-anchor="middle" font-weight="normal" fill="#111" stroke="#111" stroke-width="0.25" >(28 kDa)</text>
<text x="0" y="0" font-size="9.5" text-anchor="middle" fill="#111" stroke="#111" stroke-width="0.25" transform="translate(171.41,619.70) rotate(-90)">Proteins/β-actin</text>
<path d="M197.50,585.70 C197.53,586.24 197.39,587.71 197.71,588.96 C198.02,590.22 199.08,591.68 199.39,593.23 C199.69,594.78 199.55,596.58 199.55,598.25 C199.55,599.92 199.69,601.72 199.39,603.27 C199.09,604.82 198.06,606.28 197.75,607.54 C197.43,608.79 197.54,610.26 197.50,610.80 C197.46,610.26 197.57,608.79 197.25,607.54 C196.94,606.28 195.91,604.82 195.61,603.27 C195.31,601.72 195.45,599.92 195.45,598.25 C195.45,596.58 195.31,594.78 195.61,593.23 C195.92,591.68 196.98,590.22 197.29,588.96 C197.61,587.71 197.47,586.24 197.50,585.70 Z" fill="#3a3a3a" stroke="#111111" stroke-width="0.8"/>
<line x1="196.30" y1="594.49" x2="198.70" y2="594.49" stroke="#ffffff" stroke-width="0.4"/>
<line x1="196.30" y1="598.25" x2="198.70" y2="598.25" stroke="#ffffff" stroke-width="0.4"/>
<line x1="196.30" y1="602.01" x2="198.70" y2="602.01" stroke="#ffffff" stroke-width="0.4"/>
<path d="M204.30,634.90 C204.33,635.05 204.16,635.46 204.51,635.82 C204.85,636.19 206.21,636.66 206.35,637.08 C206.49,637.50 205.43,637.95 205.33,638.33 C205.22,638.72 205.83,639.01 205.69,639.39 C205.56,639.76 204.74,640.22 204.51,640.58 C204.27,640.93 204.33,641.35 204.30,641.50 C204.27,641.35 204.33,640.93 204.09,640.58 C203.86,640.22 203.04,639.76 202.91,639.39 C202.77,639.01 203.38,638.72 203.28,638.33 C203.17,637.95 202.11,637.50 202.25,637.08 C202.39,636.66 203.75,636.19 204.09,635.82 C204.44,635.46 204.27,635.05 204.30,634.90 Z" fill="#f2518f" stroke="#f0307f" stroke-width="0.8"/>
<line x1="203.10" y1="637.21" x2="205.50" y2="637.21" stroke="#ffffff" stroke-width="0.4"/>
<line x1="203.10" y1="638.20" x2="205.50" y2="638.20" stroke="#ffffff" stroke-width="0.4"/>
<line x1="203.10" y1="639.19" x2="205.50" y2="639.19" stroke="#ffffff" stroke-width="0.4"/>
<path d="M211.30,631.20 C211.33,631.49 211.27,632.28 211.51,632.95 C211.74,633.62 212.56,634.49 212.69,635.20 C212.83,635.91 212.22,636.47 212.33,637.20 C212.43,637.93 213.49,638.78 213.35,639.58 C213.21,640.37 211.85,641.26 211.51,641.95 C211.16,642.64 211.33,643.41 211.30,643.70 C211.27,643.41 211.44,642.64 211.09,641.95 C210.75,641.26 209.39,640.37 209.25,639.58 C209.11,638.78 210.17,637.93 210.28,637.20 C210.38,636.47 209.77,635.91 209.91,635.20 C210.04,634.49 210.86,633.62 211.09,632.95 C211.33,632.28 211.27,631.49 211.30,631.20 Z" fill="#55ab9d" stroke="#3a9a8b" stroke-width="0.8"/>
<line x1="210.10" y1="635.58" x2="212.50" y2="635.58" stroke="#ffffff" stroke-width="0.4"/>
<line x1="210.10" y1="637.45" x2="212.50" y2="637.45" stroke="#ffffff" stroke-width="0.4"/>
<line x1="210.10" y1="639.33" x2="212.50" y2="639.33" stroke="#ffffff" stroke-width="0.4"/>
<path d="M217.80,592.20 C217.83,592.46 217.77,593.15 218.01,593.74 C218.24,594.33 219.06,595.10 219.19,595.72 C219.33,596.34 218.72,596.84 218.83,597.48 C218.93,598.12 219.99,598.87 219.85,599.57 C219.71,600.27 218.35,601.06 218.01,601.66 C217.66,602.27 217.83,602.94 217.80,603.20 C217.77,602.94 217.94,602.27 217.59,601.66 C217.25,601.06 215.89,600.27 215.75,599.57 C215.61,598.87 216.67,598.12 216.78,597.48 C216.88,596.84 216.27,596.34 216.41,595.72 C216.54,595.10 217.36,594.33 217.59,593.74 C217.83,593.15 217.77,592.46 217.80,592.20 Z" fill="#5e34b8" stroke="#4a1fa8" stroke-width="0.8"/>
<line x1="216.60" y1="596.05" x2="219.00" y2="596.05" stroke="#ffffff" stroke-width="0.4"/>
<line x1="216.60" y1="597.70" x2="219.00" y2="597.70" stroke="#ffffff" stroke-width="0.4"/>
<line x1="216.60" y1="599.35" x2="219.00" y2="599.35" stroke="#ffffff" stroke-width="0.4"/>
<path d="M229.90,594.00 C229.93,594.37 229.76,595.33 230.11,596.20 C230.45,597.06 231.81,598.19 231.95,599.18 C232.09,600.18 231.03,601.25 230.93,602.16 C230.82,603.08 231.43,603.79 231.29,604.68 C231.16,605.57 230.34,606.66 230.11,607.50 C229.87,608.34 229.93,609.33 229.90,609.70 C229.87,609.33 229.93,608.34 229.69,607.50 C229.46,606.66 228.64,605.57 228.51,604.68 C228.37,603.79 228.98,603.08 228.88,602.16 C228.77,601.25 227.71,600.18 227.85,599.18 C227.99,598.19 229.35,597.06 229.69,596.20 C230.04,595.33 229.87,594.37 229.90,594.00 Z" fill="#3a3a3a" stroke="#111111" stroke-width="0.8"/>
<line x1="228.70" y1="599.50" x2="231.10" y2="599.50" stroke="#ffffff" stroke-width="0.4"/>
<line x1="228.70" y1="601.85" x2="231.10" y2="601.85" stroke="#ffffff" stroke-width="0.4"/>
<line x1="228.70" y1="604.21" x2="231.10" y2="604.21" stroke="#ffffff" stroke-width="0.4"/>
<path d="M236.50,620.30 C236.53,620.61 236.36,621.41 236.71,622.13 C237.05,622.85 238.41,623.79 238.55,624.62 C238.69,625.45 237.63,626.35 237.53,627.11 C237.42,627.88 238.03,628.47 237.89,629.21 C237.76,629.95 236.94,630.87 236.71,631.57 C236.47,632.26 236.53,633.09 236.50,633.40 C236.47,633.09 236.53,632.26 236.29,631.57 C236.06,630.87 235.24,629.95 235.11,629.21 C234.97,628.47 235.58,627.88 235.47,627.11 C235.37,626.35 234.31,625.45 234.45,624.62 C234.59,623.79 235.95,622.85 236.29,622.13 C236.64,621.41 236.47,620.61 236.50,620.30 Z" fill="#f2518f" stroke="#f0307f" stroke-width="0.8"/>
<line x1="235.30" y1="624.88" x2="237.70" y2="624.88" stroke="#ffffff" stroke-width="0.4"/>
<line x1="235.30" y1="626.85" x2="237.70" y2="626.85" stroke="#ffffff" stroke-width="0.4"/>
<line x1="235.30" y1="628.81" x2="237.70" y2="628.81" stroke="#ffffff" stroke-width="0.4"/>
<path d="M243.70,620.30 C243.73,620.72 243.56,621.82 243.91,622.81 C244.25,623.79 245.61,625.07 245.75,626.21 C245.89,627.34 244.83,628.56 244.72,629.61 C244.62,630.65 245.23,631.46 245.09,632.47 C244.96,633.49 244.14,634.74 243.91,635.69 C243.67,636.65 243.73,637.78 243.70,638.20 C243.67,637.78 243.73,636.65 243.49,635.69 C243.26,634.74 242.44,633.49 242.31,632.47 C242.17,631.46 242.78,630.65 242.67,629.61 C242.57,628.56 241.51,627.34 241.65,626.21 C241.79,625.07 243.15,623.79 243.49,622.81 C243.84,621.82 243.67,620.72 243.70,620.30 Z" fill="#55ab9d" stroke="#3a9a8b" stroke-width="0.8"/>
<line x1="242.50" y1="626.56" x2="244.90" y2="626.56" stroke="#ffffff" stroke-width="0.4"/>
<line x1="242.50" y1="629.25" x2="244.90" y2="629.25" stroke="#ffffff" stroke-width="0.4"/>
<line x1="242.50" y1="631.94" x2="244.90" y2="631.94" stroke="#ffffff" stroke-width="0.4"/>
<path d="M250.30,587.40 C250.33,587.69 250.27,588.48 250.51,589.15 C250.74,589.82 251.56,590.69 251.69,591.40 C251.83,592.11 251.22,592.67 251.33,593.40 C251.43,594.13 252.49,594.98 252.35,595.77 C252.21,596.57 250.85,597.46 250.51,598.15 C250.16,598.84 250.33,599.61 250.30,599.90 C250.27,599.61 250.44,598.84 250.09,598.15 C249.75,597.46 248.39,596.57 248.25,595.77 C248.11,594.98 249.17,594.13 249.28,593.40 C249.38,592.67 248.77,592.11 248.91,591.40 C249.04,590.69 249.86,589.82 250.09,589.15 C250.33,588.48 250.27,587.69 250.30,587.40 Z" fill="#5e34b8" stroke="#4a1fa8" stroke-width="0.8"/>
<line x1="249.10" y1="591.77" x2="251.50" y2="591.77" stroke="#ffffff" stroke-width="0.4"/>
<line x1="249.10" y1="593.65" x2="251.50" y2="593.65" stroke="#ffffff" stroke-width="0.4"/>
<line x1="249.10" y1="595.52" x2="251.50" y2="595.52" stroke="#ffffff" stroke-width="0.4"/>
<path d="M261.60,588.90 C261.63,589.29 261.49,590.36 261.81,591.27 C262.12,592.18 263.18,593.24 263.49,594.36 C263.79,595.48 263.65,596.79 263.65,598.00 C263.65,599.21 263.79,600.52 263.49,601.64 C263.19,602.76 262.16,603.82 261.85,604.73 C261.53,605.64 261.64,606.71 261.60,607.10 C261.56,606.71 261.67,605.64 261.35,604.73 C261.04,603.82 260.01,602.76 259.71,601.64 C259.41,600.52 259.55,599.21 259.55,598.00 C259.55,596.79 259.41,595.48 259.71,594.36 C260.02,593.24 261.08,592.18 261.40,591.27 C261.71,590.36 261.57,589.29 261.60,588.90 Z" fill="#3a3a3a" stroke="#111111" stroke-width="0.8"/>
<line x1="260.40" y1="595.27" x2="262.80" y2="595.27" stroke="#ffffff" stroke-width="0.4"/>
<line x1="260.40" y1="598.00" x2="262.80" y2="598.00" stroke="#ffffff" stroke-width="0.4"/>
<line x1="260.40" y1="600.73" x2="262.80" y2="600.73" stroke="#ffffff" stroke-width="0.4"/>
<path d="M269.30,624.60 C269.33,624.88 269.16,625.61 269.50,626.27 C269.85,626.92 271.21,627.77 271.35,628.53 C271.49,629.28 270.43,630.09 270.32,630.79 C270.22,631.48 270.83,632.02 270.69,632.69 C270.56,633.37 269.74,634.20 269.50,634.83 C269.27,635.47 269.33,636.22 269.30,636.50 C269.27,636.22 269.33,635.47 269.10,634.83 C268.86,634.20 268.04,633.37 267.91,632.69 C267.77,632.02 268.38,631.48 268.28,630.79 C268.17,630.09 267.11,629.28 267.25,628.53 C267.39,627.77 268.75,626.92 269.10,626.27 C269.44,625.61 269.27,624.88 269.30,624.60 Z" fill="#f2518f" stroke="#f0307f" stroke-width="0.8"/>
<line x1="268.10" y1="628.76" x2="270.50" y2="628.76" stroke="#ffffff" stroke-width="0.4"/>
<line x1="268.10" y1="630.55" x2="270.50" y2="630.55" stroke="#ffffff" stroke-width="0.4"/>
<line x1="268.10" y1="632.34" x2="270.50" y2="632.34" stroke="#ffffff" stroke-width="0.4"/>
<path d="M275.90,624.60 C275.93,624.83 275.76,625.42 276.10,625.96 C276.45,626.49 277.81,627.19 277.95,627.80 C278.09,628.42 277.03,629.08 276.92,629.64 C276.82,630.21 277.43,630.65 277.29,631.20 C277.16,631.75 276.34,632.42 276.10,632.94 C275.87,633.46 275.93,634.07 275.90,634.30 C275.87,634.07 275.93,633.46 275.69,632.94 C275.46,632.42 274.64,631.75 274.51,631.20 C274.37,630.65 274.98,630.21 274.88,629.64 C274.77,629.08 273.71,628.42 273.85,627.80 C273.99,627.19 275.35,626.49 275.69,625.96 C276.04,625.42 275.87,624.83 275.90,624.60 Z" fill="#55ab9d" stroke="#3a9a8b" stroke-width="0.8"/>
<line x1="274.70" y1="628.00" x2="277.10" y2="628.00" stroke="#ffffff" stroke-width="0.4"/>
<line x1="274.70" y1="629.45" x2="277.10" y2="629.45" stroke="#ffffff" stroke-width="0.4"/>
<line x1="274.70" y1="630.90" x2="277.10" y2="630.90" stroke="#ffffff" stroke-width="0.4"/>
<path d="M283.10,599.90 C283.13,600.19 282.96,600.96 283.31,601.65 C283.65,602.34 285.01,603.23 285.15,604.02 C285.29,604.82 284.23,605.67 284.12,606.40 C284.02,607.13 284.63,607.69 284.49,608.40 C284.36,609.11 283.54,609.98 283.31,610.65 C283.07,611.32 283.13,612.11 283.10,612.40 C283.07,612.11 283.13,611.32 282.90,610.65 C282.66,609.98 281.84,609.11 281.71,608.40 C281.57,607.69 282.18,607.13 282.08,606.40 C281.97,605.67 280.91,604.82 281.05,604.02 C281.19,603.23 282.55,602.34 282.90,601.65 C283.24,600.96 283.07,600.19 283.10,599.90 Z" fill="#5e34b8" stroke="#4a1fa8" stroke-width="0.8"/>
<line x1="281.90" y1="604.27" x2="284.30" y2="604.27" stroke="#ffffff" stroke-width="0.4"/>
<line x1="281.90" y1="606.15" x2="284.30" y2="606.15" stroke="#ffffff" stroke-width="0.4"/>
<line x1="281.90" y1="608.02" x2="284.30" y2="608.02" stroke="#ffffff" stroke-width="0.4"/>
<path d="M294.50,625.10 C294.53,625.35 294.47,626.04 294.70,626.63 C294.94,627.21 295.76,627.97 295.89,628.59 C296.03,629.21 295.42,629.70 295.52,630.33 C295.63,630.97 296.69,631.71 296.55,632.40 C296.41,633.09 295.05,633.87 294.70,634.47 C294.36,635.07 294.53,635.75 294.50,636.00 C294.47,635.75 294.64,635.07 294.30,634.47 C293.95,633.87 292.59,633.09 292.45,632.40 C292.31,631.71 293.37,630.97 293.48,630.33 C293.58,629.70 292.97,629.21 293.11,628.59 C293.24,627.97 294.06,627.21 294.30,626.63 C294.53,626.04 294.47,625.35 294.50,625.10 Z" fill="#3a3a3a" stroke="#111111" stroke-width="0.8"/>
<line x1="293.30" y1="628.91" x2="295.70" y2="628.91" stroke="#ffffff" stroke-width="0.4"/>
<line x1="293.30" y1="630.55" x2="295.70" y2="630.55" stroke="#ffffff" stroke-width="0.4"/>
<line x1="293.30" y1="632.19" x2="295.70" y2="632.19" stroke="#ffffff" stroke-width="0.4"/>
<path d="M301.50,588.90 C301.53,589.31 301.36,590.40 301.70,591.36 C302.05,592.33 303.41,593.59 303.55,594.71 C303.69,595.82 302.63,597.03 302.52,598.05 C302.42,599.08 303.03,599.87 302.89,600.87 C302.76,601.87 301.94,603.10 301.70,604.04 C301.47,604.97 301.53,606.09 301.50,606.50 C301.47,606.09 301.53,604.97 301.30,604.04 C301.06,603.10 300.24,601.87 300.11,600.87 C299.97,599.87 300.58,599.08 300.48,598.05 C300.37,597.03 299.31,595.82 299.45,594.71 C299.59,593.59 300.95,592.33 301.30,591.36 C301.64,590.40 301.47,589.31 301.50,588.90 Z" fill="#f2518f" stroke="#f0307f" stroke-width="0.8"/>
<line x1="300.30" y1="595.06" x2="302.70" y2="595.06" stroke="#ffffff" stroke-width="0.4"/>
<line x1="300.30" y1="597.70" x2="302.70" y2="597.70" stroke="#ffffff" stroke-width="0.4"/>
<line x1="300.30" y1="600.34" x2="302.70" y2="600.34" stroke="#ffffff" stroke-width="0.4"/>
<path d="M308.70,592.70 C308.73,593.11 308.67,594.22 308.90,595.15 C309.14,596.08 309.96,597.31 310.09,598.30 C310.23,599.29 309.62,600.08 309.72,601.10 C309.83,602.12 310.89,603.32 310.75,604.43 C310.61,605.53 309.25,606.79 308.90,607.75 C308.56,608.71 308.73,609.79 308.70,610.20 C308.67,609.79 308.84,608.71 308.50,607.75 C308.15,606.79 306.79,605.53 306.65,604.43 C306.51,603.32 307.57,602.12 307.68,601.10 C307.78,600.08 307.17,599.29 307.31,598.30 C307.44,597.31 308.26,596.08 308.50,595.15 C308.73,594.22 308.67,593.11 308.70,592.70 Z" fill="#55ab9d" stroke="#3a9a8b" stroke-width="0.8"/>
<line x1="307.50" y1="598.83" x2="309.90" y2="598.83" stroke="#ffffff" stroke-width="0.4"/>
<line x1="307.50" y1="601.45" x2="309.90" y2="601.45" stroke="#ffffff" stroke-width="0.4"/>
<line x1="307.50" y1="604.08" x2="309.90" y2="604.08" stroke="#ffffff" stroke-width="0.4"/>
<path d="M315.70,617.40 C315.73,617.81 315.56,618.89 315.90,619.85 C316.25,620.81 317.61,622.07 317.75,623.17 C317.89,624.28 316.83,625.48 316.72,626.50 C316.62,627.52 317.23,628.31 317.09,629.30 C316.96,630.29 316.14,631.52 315.90,632.45 C315.67,633.38 315.73,634.49 315.70,634.90 C315.67,634.49 315.73,633.38 315.50,632.45 C315.26,631.52 314.44,630.29 314.31,629.30 C314.17,628.31 314.78,627.52 314.68,626.50 C314.57,625.48 313.51,624.28 313.65,623.17 C313.79,622.07 315.15,620.81 315.50,619.85 C315.84,618.89 315.67,617.81 315.70,617.40 Z" fill="#5e34b8" stroke="#4a1fa8" stroke-width="0.8"/>
<line x1="314.50" y1="623.52" x2="316.90" y2="623.52" stroke="#ffffff" stroke-width="0.4"/>
<line x1="314.50" y1="626.15" x2="316.90" y2="626.15" stroke="#ffffff" stroke-width="0.4"/>
<line x1="314.50" y1="628.77" x2="316.90" y2="628.77" stroke="#ffffff" stroke-width="0.4"/>
<path d="M326.40,601.90 C326.43,602.36 326.29,603.60 326.60,604.66 C326.92,605.72 327.98,606.95 328.29,608.26 C328.59,609.57 328.45,611.09 328.45,612.50 C328.45,613.91 328.59,615.43 328.29,616.74 C327.99,618.05 326.96,619.28 326.65,620.34 C326.33,621.40 326.44,622.64 326.40,623.10 C326.36,622.64 326.47,621.40 326.15,620.34 C325.84,619.28 324.81,618.05 324.51,616.74 C324.21,615.43 324.35,613.91 324.35,612.50 C324.35,611.09 324.21,609.57 324.51,608.26 C324.82,606.95 325.88,605.72 326.19,604.66 C326.51,603.60 326.37,602.36 326.40,601.90 Z" fill="#3a3a3a" stroke="#111111" stroke-width="0.8"/>
<line x1="325.20" y1="609.32" x2="327.60" y2="609.32" stroke="#ffffff" stroke-width="0.4"/>
<line x1="325.20" y1="612.50" x2="327.60" y2="612.50" stroke="#ffffff" stroke-width="0.4"/>
<line x1="325.20" y1="615.68" x2="327.60" y2="615.68" stroke="#ffffff" stroke-width="0.4"/>
<path d="M333.90,594.60 C333.93,594.87 333.87,595.59 334.10,596.20 C334.34,596.80 335.16,597.60 335.29,598.25 C335.43,598.89 334.82,599.41 334.92,600.07 C335.03,600.74 336.09,601.52 335.95,602.24 C335.81,602.96 334.45,603.78 334.10,604.40 C333.76,605.03 333.93,605.73 333.90,606.00 C333.87,605.73 334.04,605.03 333.69,604.40 C333.35,603.78 331.99,602.96 331.85,602.24 C331.71,601.52 332.77,600.74 332.88,600.07 C332.98,599.41 332.37,598.89 332.51,598.25 C332.64,597.60 333.46,596.80 333.69,596.20 C333.93,595.59 333.87,594.87 333.90,594.60 Z" fill="#f2518f" stroke="#f0307f" stroke-width="0.8"/>
<line x1="332.70" y1="598.59" x2="335.10" y2="598.59" stroke="#ffffff" stroke-width="0.4"/>
<line x1="332.70" y1="600.30" x2="335.10" y2="600.30" stroke="#ffffff" stroke-width="0.4"/>
<line x1="332.70" y1="602.01" x2="335.10" y2="602.01" stroke="#ffffff" stroke-width="0.4"/>
<path d="M340.70,588.90 C340.73,589.27 340.56,590.26 340.90,591.14 C341.25,592.02 342.61,593.17 342.75,594.18 C342.89,595.19 341.83,596.29 341.72,597.22 C341.62,598.15 342.23,598.87 342.09,599.78 C341.96,600.69 341.14,601.81 340.90,602.66 C340.67,603.51 340.73,604.53 340.70,604.90 C340.67,604.53 340.73,603.51 340.50,602.66 C340.26,601.81 339.44,600.69 339.31,599.78 C339.17,598.87 339.78,598.15 339.68,597.22 C339.57,596.29 338.51,595.19 338.65,594.18 C338.79,593.17 340.15,592.02 340.50,591.14 C340.84,590.26 340.67,589.27 340.70,588.90 Z" fill="#55ab9d" stroke="#3a9a8b" stroke-width="0.8"/>
<line x1="339.50" y1="594.50" x2="341.90" y2="594.50" stroke="#ffffff" stroke-width="0.4"/>
<line x1="339.50" y1="596.90" x2="341.90" y2="596.90" stroke="#ffffff" stroke-width="0.4"/>
<line x1="339.50" y1="599.30" x2="341.90" y2="599.30" stroke="#ffffff" stroke-width="0.4"/>
<path d="M347.60,610.60 C347.63,610.75 347.57,611.15 347.81,611.50 C348.04,611.84 348.86,612.29 348.99,612.65 C349.13,613.01 348.52,613.30 348.62,613.67 C348.73,614.05 349.79,614.48 349.65,614.89 C349.51,615.29 348.15,615.75 347.81,616.10 C347.46,616.46 347.63,616.85 347.60,617.00 C347.57,616.85 347.74,616.46 347.40,616.10 C347.05,615.75 345.69,615.29 345.55,614.89 C345.41,614.48 346.47,614.05 346.58,613.67 C346.68,613.30 346.07,613.01 346.21,612.65 C346.34,612.29 347.16,611.84 347.40,611.50 C347.63,611.15 347.57,610.75 347.60,610.60 Z" fill="#5e34b8" stroke="#4a1fa8" stroke-width="0.8"/>
<line x1="346.40" y1="612.84" x2="348.80" y2="612.84" stroke="#ffffff" stroke-width="0.4"/>
<line x1="346.40" y1="613.80" x2="348.80" y2="613.80" stroke="#ffffff" stroke-width="0.4"/>
<line x1="346.40" y1="614.76" x2="348.80" y2="614.76" stroke="#ffffff" stroke-width="0.4"/>
<path d="M358.90,625.40 C358.93,625.66 358.76,626.36 359.10,626.98 C359.45,627.60 360.81,628.41 360.95,629.13 C361.09,629.84 360.03,630.62 359.92,631.28 C359.82,631.94 360.43,632.44 360.29,633.08 C360.16,633.72 359.34,634.52 359.10,635.12 C358.87,635.72 358.93,636.44 358.90,636.70 C358.87,636.44 358.93,635.72 358.69,635.12 C358.46,634.52 357.64,633.72 357.51,633.08 C357.37,632.44 357.98,631.94 357.88,631.28 C357.77,630.62 356.71,629.84 356.85,629.13 C356.99,628.41 358.35,627.60 358.69,626.98 C359.04,626.36 358.87,625.66 358.90,625.40 Z" fill="#3a3a3a" stroke="#111111" stroke-width="0.8"/>
<line x1="357.70" y1="629.36" x2="360.10" y2="629.36" stroke="#ffffff" stroke-width="0.4"/>
<line x1="357.70" y1="631.05" x2="360.10" y2="631.05" stroke="#ffffff" stroke-width="0.4"/>
<line x1="357.70" y1="632.75" x2="360.10" y2="632.75" stroke="#ffffff" stroke-width="0.4"/>
<path d="M366.50,600.30 C366.53,600.58 366.47,601.35 366.70,601.99 C366.94,602.64 367.76,603.49 367.89,604.17 C368.03,604.86 367.42,605.40 367.52,606.11 C367.63,606.81 368.69,607.64 368.55,608.41 C368.41,609.17 367.05,610.04 366.70,610.71 C366.36,611.37 366.53,612.12 366.50,612.40 C366.47,612.12 366.64,611.37 366.30,610.71 C365.95,610.04 364.59,609.17 364.45,608.41 C364.31,607.64 365.37,606.81 365.48,606.11 C365.58,605.40 364.97,604.86 365.11,604.17 C365.24,603.49 366.06,602.64 366.30,601.99 C366.53,601.35 366.47,600.58 366.50,600.30 Z" fill="#f2518f" stroke="#f0307f" stroke-width="0.8"/>
<line x1="365.30" y1="604.53" x2="367.70" y2="604.53" stroke="#ffffff" stroke-width="0.4"/>
<line x1="365.30" y1="606.35" x2="367.70" y2="606.35" stroke="#ffffff" stroke-width="0.4"/>
<line x1="365.30" y1="608.16" x2="367.70" y2="608.16" stroke="#ffffff" stroke-width="0.4"/>
<path d="M373.30,606.50 C373.33,606.75 373.27,607.44 373.50,608.03 C373.74,608.61 374.56,609.37 374.69,609.99 C374.83,610.61 374.22,611.10 374.32,611.73 C374.43,612.37 375.49,613.11 375.35,613.80 C375.21,614.49 373.85,615.27 373.50,615.87 C373.16,616.47 373.33,617.15 373.30,617.40 C373.27,617.15 373.44,616.47 373.10,615.87 C372.75,615.27 371.39,614.49 371.25,613.80 C371.11,613.11 372.17,612.37 372.28,611.73 C372.38,611.10 371.77,610.61 371.91,609.99 C372.04,609.37 372.86,608.61 373.10,608.03 C373.33,607.44 373.27,606.75 373.30,606.50 Z" fill="#55ab9d" stroke="#3a9a8b" stroke-width="0.8"/>
<line x1="372.10" y1="610.31" x2="374.50" y2="610.31" stroke="#ffffff" stroke-width="0.4"/>
<line x1="372.10" y1="611.95" x2="374.50" y2="611.95" stroke="#ffffff" stroke-width="0.4"/>
<line x1="372.10" y1="613.59" x2="374.50" y2="613.59" stroke="#ffffff" stroke-width="0.4"/>
<path d="M380.10,626.50 C380.13,626.65 379.96,627.04 380.31,627.40 C380.65,627.75 382.01,628.21 382.15,628.61 C382.29,629.02 381.23,629.45 381.12,629.83 C381.02,630.20 381.63,630.49 381.49,630.85 C381.36,631.21 380.54,631.66 380.31,632.00 C380.07,632.35 380.13,632.75 380.10,632.90 C380.07,632.75 380.13,632.35 379.90,632.00 C379.66,631.66 378.84,631.21 378.71,630.85 C378.57,630.49 379.18,630.20 379.08,629.83 C378.97,629.45 377.91,629.02 378.05,628.61 C378.19,628.21 379.55,627.75 379.90,627.40 C380.24,627.04 380.07,626.65 380.10,626.50 Z" fill="#5e34b8" stroke="#4a1fa8" stroke-width="0.8"/>
<line x1="378.90" y1="628.74" x2="381.30" y2="628.74" stroke="#ffffff" stroke-width="0.4"/>
<line x1="378.90" y1="629.70" x2="381.30" y2="629.70" stroke="#ffffff" stroke-width="0.4"/>
<line x1="378.90" y1="630.66" x2="381.30" y2="630.66" stroke="#ffffff" stroke-width="0.4"/>
<path d="M391.50,623.10 C391.53,623.47 391.39,624.47 391.70,625.32 C392.02,626.18 393.08,627.18 393.39,628.23 C393.69,629.28 393.55,630.51 393.55,631.65 C393.55,632.79 393.69,634.02 393.39,635.07 C393.09,636.12 392.06,637.12 391.75,637.98 C391.43,638.83 391.54,639.83 391.50,640.20 C391.46,639.83 391.57,638.83 391.25,637.98 C390.94,637.12 389.91,636.12 389.61,635.07 C389.31,634.02 389.45,632.79 389.45,631.65 C389.45,630.51 389.31,629.28 389.61,628.23 C389.92,627.18 390.98,626.18 391.30,625.32 C391.61,624.47 391.47,623.47 391.50,623.10 Z" fill="#3a3a3a" stroke="#111111" stroke-width="0.8"/>
<line x1="390.30" y1="629.09" x2="392.70" y2="629.09" stroke="#ffffff" stroke-width="0.4"/>
<line x1="390.30" y1="631.65" x2="392.70" y2="631.65" stroke="#ffffff" stroke-width="0.4"/>
<line x1="390.30" y1="634.22" x2="392.70" y2="634.22" stroke="#ffffff" stroke-width="0.4"/>
<path d="M398.80,612.80 C398.83,613.28 398.66,614.54 399.00,615.67 C399.35,616.80 400.71,618.27 400.85,619.56 C400.99,620.86 399.93,622.26 399.82,623.46 C399.72,624.66 400.33,625.58 400.19,626.74 C400.06,627.90 399.24,629.34 399.00,630.43 C398.77,631.52 398.83,632.82 398.80,633.30 C398.77,632.82 398.83,631.52 398.60,630.43 C398.36,629.34 397.54,627.90 397.41,626.74 C397.27,625.58 397.88,624.66 397.78,623.46 C397.67,622.26 396.61,620.86 396.75,619.56 C396.89,618.27 398.25,616.80 398.60,615.67 C398.94,614.54 398.77,613.28 398.80,612.80 Z" fill="#f2518f" stroke="#f0307f" stroke-width="0.8"/>
<line x1="397.60" y1="619.97" x2="400.00" y2="619.97" stroke="#ffffff" stroke-width="0.4"/>
<line x1="397.60" y1="623.05" x2="400.00" y2="623.05" stroke="#ffffff" stroke-width="0.4"/>
<line x1="397.60" y1="626.12" x2="400.00" y2="626.12" stroke="#ffffff" stroke-width="0.4"/>
<path d="M405.60,620.80 C405.63,621.07 405.46,621.77 405.81,622.40 C406.15,623.02 407.51,623.84 407.65,624.56 C407.79,625.28 406.73,626.06 406.62,626.73 C406.52,627.39 407.13,627.91 406.99,628.55 C406.86,629.20 406.04,630.00 405.81,630.60 C405.57,631.21 405.63,631.93 405.60,632.20 C405.57,631.93 405.63,631.21 405.40,630.60 C405.16,630.00 404.34,629.20 404.21,628.55 C404.07,627.91 404.68,627.39 404.58,626.73 C404.47,626.06 403.41,625.28 403.55,624.56 C403.69,623.84 405.05,623.02 405.40,622.40 C405.74,621.77 405.57,621.07 405.60,620.80 Z" fill="#55ab9d" stroke="#3a9a8b" stroke-width="0.8"/>
<line x1="404.40" y1="624.79" x2="406.80" y2="624.79" stroke="#ffffff" stroke-width="0.4"/>
<line x1="404.40" y1="626.50" x2="406.80" y2="626.50" stroke="#ffffff" stroke-width="0.4"/>
<line x1="404.40" y1="628.21" x2="406.80" y2="628.21" stroke="#ffffff" stroke-width="0.4"/>
<path d="M412.40,631.10 C412.43,631.28 412.37,631.78 412.60,632.21 C412.84,632.63 413.66,633.18 413.79,633.63 C413.93,634.08 413.32,634.43 413.42,634.89 C413.53,635.35 414.59,635.89 414.45,636.39 C414.31,636.89 412.95,637.46 412.60,637.89 C412.26,638.33 412.43,638.82 412.40,639.00 C412.37,638.82 412.54,638.33 412.19,637.89 C411.85,637.46 410.49,636.89 410.35,636.39 C410.21,635.89 411.27,635.35 411.38,634.89 C411.48,634.43 410.87,634.08 411.01,633.63 C411.14,633.18 411.96,632.63 412.19,632.21 C412.43,631.78 412.37,631.28 412.40,631.10 Z" fill="#5e34b8" stroke="#4a1fa8" stroke-width="0.8"/>
<line x1="411.20" y1="633.87" x2="413.60" y2="633.87" stroke="#ffffff" stroke-width="0.4"/>
<line x1="411.20" y1="635.05" x2="413.60" y2="635.05" stroke="#ffffff" stroke-width="0.4"/>
<line x1="411.20" y1="636.24" x2="413.60" y2="636.24" stroke="#ffffff" stroke-width="0.4"/>
<path d="M424.30,632.20 C424.33,632.59 424.27,633.64 424.50,634.52 C424.74,635.41 425.56,636.57 425.69,637.51 C425.83,638.45 425.22,639.20 425.32,640.17 C425.43,641.14 426.49,642.27 426.35,643.32 C426.21,644.37 424.85,645.56 424.50,646.48 C424.16,647.39 424.33,648.41 424.30,648.80 C424.27,648.41 424.44,647.39 424.10,646.48 C423.75,645.56 422.39,644.37 422.25,643.32 C422.11,642.27 423.17,641.14 423.28,640.17 C423.38,639.20 422.77,638.45 422.91,637.51 C423.04,636.57 423.86,635.41 424.10,634.52 C424.33,633.64 424.27,632.59 424.30,632.20 Z" fill="#3a3a3a" stroke="#111111" stroke-width="0.8"/>
<line x1="423.10" y1="638.01" x2="425.50" y2="638.01" stroke="#ffffff" stroke-width="0.4"/>
<line x1="423.10" y1="640.50" x2="425.50" y2="640.50" stroke="#ffffff" stroke-width="0.4"/>
<line x1="423.10" y1="642.99" x2="425.50" y2="642.99" stroke="#ffffff" stroke-width="0.4"/>
<path d="M431.10,609.40 C431.13,609.88 430.96,611.14 431.31,612.27 C431.65,613.40 433.01,614.87 433.15,616.16 C433.29,617.46 432.23,618.86 432.12,620.06 C432.02,621.26 432.63,622.18 432.49,623.34 C432.36,624.50 431.54,625.94 431.31,627.03 C431.07,628.12 431.13,629.42 431.10,629.90 C431.07,629.42 431.13,628.12 430.90,627.03 C430.66,625.94 429.84,624.50 429.71,623.34 C429.57,622.18 430.18,621.26 430.08,620.06 C429.97,618.86 428.91,617.46 429.05,616.16 C429.19,614.87 430.55,613.40 430.90,612.27 C431.24,611.14 431.07,609.88 431.10,609.40 Z" fill="#f2518f" stroke="#f0307f" stroke-width="0.8"/>
<line x1="429.90" y1="616.57" x2="432.30" y2="616.57" stroke="#ffffff" stroke-width="0.4"/>
<line x1="429.90" y1="619.65" x2="432.30" y2="619.65" stroke="#ffffff" stroke-width="0.4"/>
<line x1="429.90" y1="622.73" x2="432.30" y2="622.73" stroke="#ffffff" stroke-width="0.4"/>
<path d="M438.60,611.70 C438.63,611.94 438.46,612.57 438.81,613.13 C439.15,613.69 440.51,614.42 440.65,615.07 C440.79,615.71 439.73,616.41 439.62,617.00 C439.52,617.60 440.13,618.06 439.99,618.64 C439.86,619.21 439.04,619.93 438.81,620.47 C438.57,621.02 438.63,621.66 438.60,621.90 C438.57,621.66 438.63,621.02 438.40,620.47 C438.16,619.93 437.34,619.21 437.21,618.64 C437.07,618.06 437.68,617.60 437.58,617.00 C437.47,616.41 436.41,615.71 436.55,615.07 C436.69,614.42 438.05,613.69 438.40,613.13 C438.74,612.57 438.57,611.94 438.60,611.70 Z" fill="#55ab9d" stroke="#3a9a8b" stroke-width="0.8"/>
<line x1="437.40" y1="615.27" x2="439.80" y2="615.27" stroke="#ffffff" stroke-width="0.4"/>
<line x1="437.40" y1="616.80" x2="439.80" y2="616.80" stroke="#ffffff" stroke-width="0.4"/>
<line x1="437.40" y1="618.33" x2="439.80" y2="618.33" stroke="#ffffff" stroke-width="0.4"/>
<path d="M445.40,632.90 C445.43,633.07 445.37,633.53 445.60,633.92 C445.84,634.31 446.66,634.82 446.79,635.24 C446.93,635.65 446.32,635.98 446.42,636.40 C446.53,636.83 447.59,637.33 447.45,637.79 C447.31,638.25 445.95,638.78 445.60,639.18 C445.26,639.58 445.43,640.03 445.40,640.20 C445.37,640.03 445.54,639.58 445.19,639.18 C444.85,638.78 443.49,638.25 443.35,637.79 C443.21,637.33 444.27,636.83 444.38,636.40 C444.48,635.98 443.87,635.65 444.01,635.24 C444.14,634.82 444.96,634.31 445.19,633.92 C445.43,633.53 445.37,633.07 445.40,632.90 Z" fill="#5e34b8" stroke="#4a1fa8" stroke-width="0.8"/>
<line x1="444.20" y1="635.46" x2="446.60" y2="635.46" stroke="#ffffff" stroke-width="0.4"/>
<line x1="444.20" y1="636.55" x2="446.60" y2="636.55" stroke="#ffffff" stroke-width="0.4"/>
<line x1="444.20" y1="637.64" x2="446.60" y2="637.64" stroke="#ffffff" stroke-width="0.4"/>
<line x1="196.00" y1="582.40" x2="205.80" y2="582.40" stroke="#333" stroke-width="1"/>
<text x="205.10" y="579.82" font-size="6.2" text-anchor="middle" fill="#222" stroke="#222" stroke-width="0.12"><tspan font-style="italic">p</tspan>&lt;0.001</text>
<line x1="209.50" y1="588.90" x2="220.00" y2="588.90" stroke="#333" stroke-width="1"/>
<text x="213.00" y="587.22" font-size="6.2" text-anchor="middle" fill="#222" stroke="#222" stroke-width="0.12"><tspan font-style="italic">p</tspan>&lt;0.001</text>
<line x1="227.70" y1="588.90" x2="238.60" y2="588.90" stroke="#333" stroke-width="1"/>
<text x="235.80" y="587.22" font-size="6.2" text-anchor="middle" fill="#222" stroke="#222" stroke-width="0.12"><tspan font-style="italic">p</tspan>&lt;0.001</text>
<line x1="243.00" y1="579.50" x2="254.00" y2="579.50" stroke="#333" stroke-width="1"/>
<text x="248.50" y="577.32" font-size="6.2" text-anchor="middle" fill="#222" stroke="#222" stroke-width="0.12"><tspan font-style="italic">p</tspan>&lt;0.001</text>
<line x1="254.60" y1="585.70" x2="269.30" y2="585.70" stroke="#333" stroke-width="1"/>
<text x="264.90" y="584.62" font-size="6.2" text-anchor="middle" fill="#222" stroke="#222" stroke-width="0.12"><tspan font-style="italic">p</tspan>&lt;0.001</text>
<line x1="275.90" y1="578.60" x2="286.20" y2="578.60" stroke="#333" stroke-width="1"/>
<text x="280.20" y="577.32" font-size="6.2" text-anchor="middle" fill="#222" stroke="#222" stroke-width="0.12"><tspan font-style="italic">p</tspan>&lt;0.001</text>
<line x1="293.40" y1="568.60" x2="302.10" y2="568.60" stroke="#333" stroke-width="1"/>
<text x="297.10" y="565.52" font-size="6.2" text-anchor="middle" fill="#222" stroke="#222" stroke-width="0.12"><tspan font-style="italic">p</tspan>&lt;0.001</text>
<line x1="305.40" y1="576.20" x2="316.80" y2="576.20" stroke="#333" stroke-width="1"/>
<text x="308.10" y="575.82" font-size="6.2" text-anchor="middle" fill="#222" stroke="#222" stroke-width="0.12"><tspan font-style="italic">p</tspan>&lt;0.001</text>
<line x1="323.70" y1="571.90" x2="333.20" y2="571.90" stroke="#333" stroke-width="1"/>
<text x="327.80" y="567.72" font-size="6.2" text-anchor="middle" fill="#222" stroke="#222" stroke-width="0.12"><tspan font-style="italic">p</tspan>=0.011</text>
<line x1="340.00" y1="584.40" x2="350.50" y2="584.40" stroke="#333" stroke-width="1"/>
<text x="346.00" y="580.22" font-size="6.2" text-anchor="middle" fill="#222" stroke="#222" stroke-width="0.12"><tspan font-style="italic">p</tspan>&lt;0.001</text>
<line x1="357.30" y1="593.50" x2="366.90" y2="593.50" stroke="#333" stroke-width="1"/>
<text x="362.80" y="592.32" font-size="6.2" text-anchor="middle" fill="#222" stroke="#222" stroke-width="0.12"><tspan font-style="italic">p</tspan>&lt;0.001</text>
<line x1="371.90" y1="599.60" x2="382.80" y2="599.60" stroke="#333" stroke-width="1"/>
<text x="375.60" y="598.02" font-size="6.2" text-anchor="middle" fill="#222" stroke="#222" stroke-width="0.12"><tspan font-style="italic">p</tspan>&lt;0.001</text>
<line x1="404.50" y1="608.30" x2="414.70" y2="608.30" stroke="#333" stroke-width="1"/>
<text x="410.60" y="604.82" font-size="6.2" text-anchor="middle" fill="#222" stroke="#222" stroke-width="0.12"><tspan font-style="italic">p</tspan>=0.0478</text>
<line x1="421.10" y1="595.10" x2="430.60" y2="595.10" stroke="#333" stroke-width="1"/>
<text x="427.90" y="592.32" font-size="6.2" text-anchor="middle" fill="#222" stroke="#222" stroke-width="0.12"><tspan font-style="italic">p</tspan>&lt;0.001</text>
<line x1="434.10" y1="598.00" x2="444.80" y2="598.00" stroke="#333" stroke-width="1"/>
<text x="442.50" y="597.32" font-size="6.2" text-anchor="middle" fill="#222" stroke="#222" stroke-width="0.12"><tspan font-style="italic">p</tspan>&lt;0.001</text>
<text x="462.21" y="515.00" font-size="22.2" text-anchor="start" font-weight="bold" fill="#000" >K</text>
<line x1="491.30" y1="525.40" x2="491.30" y2="606.50" stroke="#222" stroke-width="1.1"/>
<line x1="487.30" y1="525.90" x2="491.30" y2="525.90" stroke="#222" stroke-width="1"/>
<text x="486.95" y="528.42" font-size="9.0" text-anchor="end" font-weight="normal" fill="#111" stroke="#111" stroke-width="0.25" >400</text>
<line x1="487.30" y1="546.10" x2="491.30" y2="546.10" stroke="#222" stroke-width="1"/>
<text x="486.95" y="548.62" font-size="9.0" text-anchor="end" font-weight="normal" fill="#111" stroke="#111" stroke-width="0.25" >300</text>
<line x1="487.30" y1="566.20" x2="491.30" y2="566.20" stroke="#222" stroke-width="1"/>
<text x="486.95" y="568.72" font-size="9.0" text-anchor="end" font-weight="normal" fill="#111" stroke="#111" stroke-width="0.25" >200</text>
<line x1="487.30" y1="586.30" x2="491.30" y2="586.30" stroke="#222" stroke-width="1"/>
<text x="486.95" y="588.82" font-size="9.0" text-anchor="end" font-weight="normal" fill="#111" stroke="#111" stroke-width="0.25" >100</text>
<line x1="487.30" y1="606.50" x2="491.30" y2="606.50" stroke="#222" stroke-width="1"/>
<text x="486.95" y="609.02" font-size="9.0" text-anchor="end" font-weight="normal" fill="#111" stroke="#111" stroke-width="0.25" >0</text>
<line x1="491.30" y1="606.50" x2="545.20" y2="606.50" stroke="#222" stroke-width="1.1"/>
<line x1="500.60" y1="606.50" x2="500.60" y2="609.50" stroke="#222" stroke-width="1"/>
<line x1="512.60" y1="606.50" x2="512.60" y2="609.50" stroke="#222" stroke-width="1"/>
<line x1="525.20" y1="606.50" x2="525.20" y2="609.50" stroke="#222" stroke-width="1"/>
<line x1="537.50" y1="606.50" x2="537.50" y2="609.50" stroke="#222" stroke-width="1"/>
<path d="M500.60,547.30 C500.67,547.88 500.33,549.42 501.00,550.79 C501.68,552.16 504.38,553.94 504.65,555.52 C504.92,557.09 502.84,558.80 502.62,560.25 C502.41,561.70 503.62,562.82 503.35,564.23 C503.08,565.64 501.46,567.39 501.00,568.71 C500.55,570.04 500.67,571.62 500.60,572.20 C500.53,571.62 500.65,570.04 500.20,568.71 C499.74,567.39 498.12,565.64 497.85,564.23 C497.58,562.82 498.79,561.70 498.58,560.25 C498.36,558.80 496.28,557.09 496.55,555.52 C496.82,553.94 499.52,552.16 500.20,550.79 C500.87,549.42 500.53,547.88 500.60,547.30 Z" fill="#5c5c5c" stroke="#111111" stroke-width="0.8"/>
<line x1="500.60" y1="547.30" x2="500.60" y2="550.29" stroke="#111111" stroke-width="0.5"/>
<line x1="500.60" y1="569.21" x2="500.60" y2="572.20" stroke="#111111" stroke-width="0.5"/>
<line x1="498.37" y1="556.01" x2="502.83" y2="556.01" stroke="#ffffff" stroke-width="0.45"/>
<line x1="498.37" y1="559.75" x2="502.83" y2="559.75" stroke="#ffffff" stroke-width="0.45"/>
<line x1="498.37" y1="563.49" x2="502.83" y2="563.49" stroke="#ffffff" stroke-width="0.45"/>
<circle cx="500.60" cy="555.52" r="1.30" fill="#111111"/>
<circle cx="500.60" cy="559.75" r="1.30" fill="#111111"/>
<circle cx="500.60" cy="564.23" r="1.30" fill="#111111"/>
<path d="M512.60,577.00 C512.66,577.25 512.55,577.93 512.97,578.50 C513.38,579.07 514.84,579.82 515.08,580.42 C515.33,581.03 514.23,581.51 514.43,582.14 C514.62,582.76 516.49,583.49 516.25,584.17 C516.01,584.85 513.57,585.61 512.97,586.20 C512.36,586.79 512.66,587.45 512.60,587.70 C512.54,587.45 512.84,586.79 512.24,586.20 C511.63,585.61 509.19,584.85 508.95,584.17 C508.71,583.49 510.58,582.76 510.78,582.14 C510.97,581.51 509.87,581.03 510.12,580.42 C510.36,579.82 511.82,579.07 512.24,578.50 C512.65,577.93 512.54,577.25 512.60,577.00 Z" fill="#f46ea8" stroke="#f0307f" stroke-width="0.8"/>
<line x1="512.60" y1="577.00" x2="512.60" y2="578.28" stroke="#f0307f" stroke-width="0.5"/>
<line x1="512.60" y1="586.42" x2="512.60" y2="587.70" stroke="#f0307f" stroke-width="0.5"/>
<line x1="510.59" y1="580.75" x2="514.61" y2="580.75" stroke="#ffffff" stroke-width="0.45"/>
<line x1="510.59" y1="582.35" x2="514.61" y2="582.35" stroke="#ffffff" stroke-width="0.45"/>
<line x1="510.59" y1="583.96" x2="514.61" y2="583.96" stroke="#ffffff" stroke-width="0.45"/>
<circle cx="512.60" cy="580.53" r="1.23" fill="#f0307f"/>
<circle cx="512.60" cy="582.35" r="1.23" fill="#f0307f"/>
<circle cx="512.60" cy="584.28" r="1.23" fill="#f0307f"/>
<path d="M525.20,574.00 C525.26,574.44 524.94,575.60 525.59,576.63 C526.23,577.67 528.79,579.01 529.05,580.20 C529.31,581.39 527.33,582.68 527.12,583.78 C526.92,584.87 528.07,585.72 527.82,586.78 C527.56,587.85 526.02,589.17 525.59,590.17 C525.15,591.17 525.26,592.36 525.20,592.80 C525.14,592.36 525.25,591.17 524.82,590.17 C524.38,589.17 522.84,587.85 522.58,586.78 C522.33,585.72 523.48,584.87 523.28,583.78 C523.07,582.68 521.09,581.39 521.35,580.20 C521.61,579.01 524.17,577.67 524.82,576.63 C525.46,575.60 525.14,574.44 525.20,574.00 Z" fill="#76bfb2" stroke="#3a9a8b" stroke-width="0.8"/>
<line x1="525.20" y1="574.00" x2="525.20" y2="576.26" stroke="#3a9a8b" stroke-width="0.5"/>
<line x1="525.20" y1="590.54" x2="525.20" y2="592.80" stroke="#3a9a8b" stroke-width="0.5"/>
<line x1="523.08" y1="580.58" x2="527.32" y2="580.58" stroke="#ffffff" stroke-width="0.45"/>
<line x1="523.08" y1="583.40" x2="527.32" y2="583.40" stroke="#ffffff" stroke-width="0.45"/>
<line x1="523.08" y1="586.22" x2="527.32" y2="586.22" stroke="#ffffff" stroke-width="0.45"/>
<circle cx="525.20" cy="580.20" r="1.29" fill="#3a9a8b"/>
<circle cx="525.20" cy="583.40" r="1.29" fill="#3a9a8b"/>
<circle cx="525.20" cy="586.78" r="1.29" fill="#3a9a8b"/>
<path d="M537.50,550.80 C537.56,551.26 537.24,552.47 537.88,553.56 C538.53,554.64 541.09,556.05 541.35,557.30 C541.61,558.55 539.63,559.89 539.42,561.04 C539.22,562.19 540.37,563.08 540.12,564.20 C539.86,565.31 538.32,566.69 537.88,567.74 C537.45,568.79 537.56,570.04 537.50,570.50 C537.44,570.04 537.55,568.79 537.12,567.74 C536.68,566.69 535.14,565.31 534.88,564.20 C534.63,563.08 535.78,562.19 535.58,561.04 C535.37,559.89 533.39,558.55 533.65,557.30 C533.91,556.05 536.47,554.64 537.12,553.56 C537.76,552.47 537.44,551.26 537.50,550.80 Z" fill="#7d5ac8" stroke="#4a1fa8" stroke-width="0.8"/>
<line x1="537.50" y1="550.80" x2="537.50" y2="553.16" stroke="#4a1fa8" stroke-width="0.5"/>
<line x1="537.50" y1="568.14" x2="537.50" y2="570.50" stroke="#4a1fa8" stroke-width="0.5"/>
<line x1="535.38" y1="557.69" x2="539.62" y2="557.69" stroke="#ffffff" stroke-width="0.45"/>
<line x1="535.38" y1="560.65" x2="539.62" y2="560.65" stroke="#ffffff" stroke-width="0.45"/>
<line x1="535.38" y1="563.61" x2="539.62" y2="563.61" stroke="#ffffff" stroke-width="0.45"/>
<circle cx="537.50" cy="557.30" r="1.29" fill="#4a1fa8"/>
<circle cx="537.50" cy="560.65" r="1.29" fill="#4a1fa8"/>
<circle cx="537.50" cy="564.20" r="1.29" fill="#4a1fa8"/>
<line x1="497.70" y1="533.10" x2="511.40" y2="533.10" stroke="#333" stroke-width="1"/>
<text x="506.60" y="529.82" font-size="6.2" text-anchor="middle" fill="#222" stroke="#222" stroke-width="0.12"><tspan font-style="italic">p</tspan>&lt;0.001</text>
<line x1="524.10" y1="535.30" x2="537.50" y2="535.30" stroke="#333" stroke-width="1"/>
<text x="531.50" y="532.72" font-size="6.2" text-anchor="middle" fill="#222" stroke="#222" stroke-width="0.12"><tspan font-style="italic">p</tspan>&lt;0.001</text>
<text x="0" y="0" font-size="9.3" text-anchor="middle" fill="#111" stroke="#111" stroke-width="0.25" transform="translate(464.55,563.05) rotate(-90)">p53 (pg/mgpror)</text>
<rect x="550.40" y="530.85" width="8.00" height="3.70" fill="#6c6c6c" stroke="#111111" stroke-width="0.8"/>
<text x="562.46" y="535.95" font-size="9.2" text-anchor="start" font-weight="normal" fill="#111" stroke="#111" stroke-width="0.25" >ES+PA+oe-NC</text>
<rect x="550.40" y="544.25" width="8.00" height="3.70" fill="#f47ab4" stroke="#f0307f" stroke-width="0.8"/>
<text x="562.46" y="549.35" font-size="9.2" text-anchor="start" font-weight="normal" fill="#111" stroke="#111" stroke-width="0.25" >ES+PA+oe-PD-L1</text>
<rect x="550.40" y="557.95" width="8.00" height="3.70" fill="#7fc7ba" stroke="#3a9a8b" stroke-width="0.8"/>
<text x="562.46" y="563.05" font-size="9.2" text-anchor="start" font-weight="normal" fill="#111" stroke="#111" stroke-width="0.25" >ES+PA+oe-PD-L1+sh-NC</text>
<rect x="550.40" y="569.55" width="8.00" height="3.70" fill="#9676cc" stroke="#4a1fa8" stroke-width="0.8"/>
<text x="562.46" y="574.65" font-size="9.2" text-anchor="start" font-weight="normal" fill="#111" stroke="#111" stroke-width="0.25" >ES+PA+oe-PD-L1+sh-CD80</text>
<text x="464.71" y="631.80" font-size="22.2" text-anchor="start" font-weight="bold" fill="#000" >L</text>
<rect x="563.70" y="646.00" width="52.50" height="11.00" fill="#7f7f7f"/>
<rect x="568.00" y="650.80" width="13.00" height="2.80" rx="1.40" fill="#050505" fill-opacity="1.00" filter="url(#bl)"/>
<rect x="600.80" y="650.80" width="13.00" height="2.80" rx="1.40" fill="#050505" fill-opacity="0.50" filter="url(#bl)"/>
<rect x="563.70" y="659.70" width="52.50" height="12.70" fill="#7f7f7f"/>
<rect x="568.00" y="664.70" width="13.00" height="2.80" rx="1.40" fill="#050505" fill-opacity="1.00" filter="url(#bl)"/>
<rect x="600.80" y="664.70" width="13.00" height="2.80" rx="1.40" fill="#050505" fill-opacity="0.45" filter="url(#bl)"/>
<text x="562.20" y="656.79" font-size="9.3" text-anchor="end" font-weight="normal" fill="#111" stroke="#111" stroke-width="0.25" >PD-L1</text>
<text x="562.20" y="670.09" font-size="9.3" text-anchor="end" font-weight="normal" fill="#111" stroke="#111" stroke-width="0.25" >CD80</text>
<text x="562.90" y="642.99" font-size="9.3" text-anchor="middle" font-weight="normal" fill="#111" stroke="#111" stroke-width="0.25" >Input</text>
<text x="589.10" y="642.99" font-size="9.3" text-anchor="middle" font-weight="normal" fill="#111" stroke="#111" stroke-width="0.25" >IgG</text>
<text x="615.10" y="632.39" font-size="9.3" text-anchor="middle" font-weight="normal" fill="#111" stroke="#111" stroke-width="0.25" >IP:</text>
<text x="615.10" y="642.99" font-size="9.3" text-anchor="middle" font-weight="normal" fill="#111" stroke="#111" stroke-width="0.25" >PD-L1</text>
</svg>
</body></html>
